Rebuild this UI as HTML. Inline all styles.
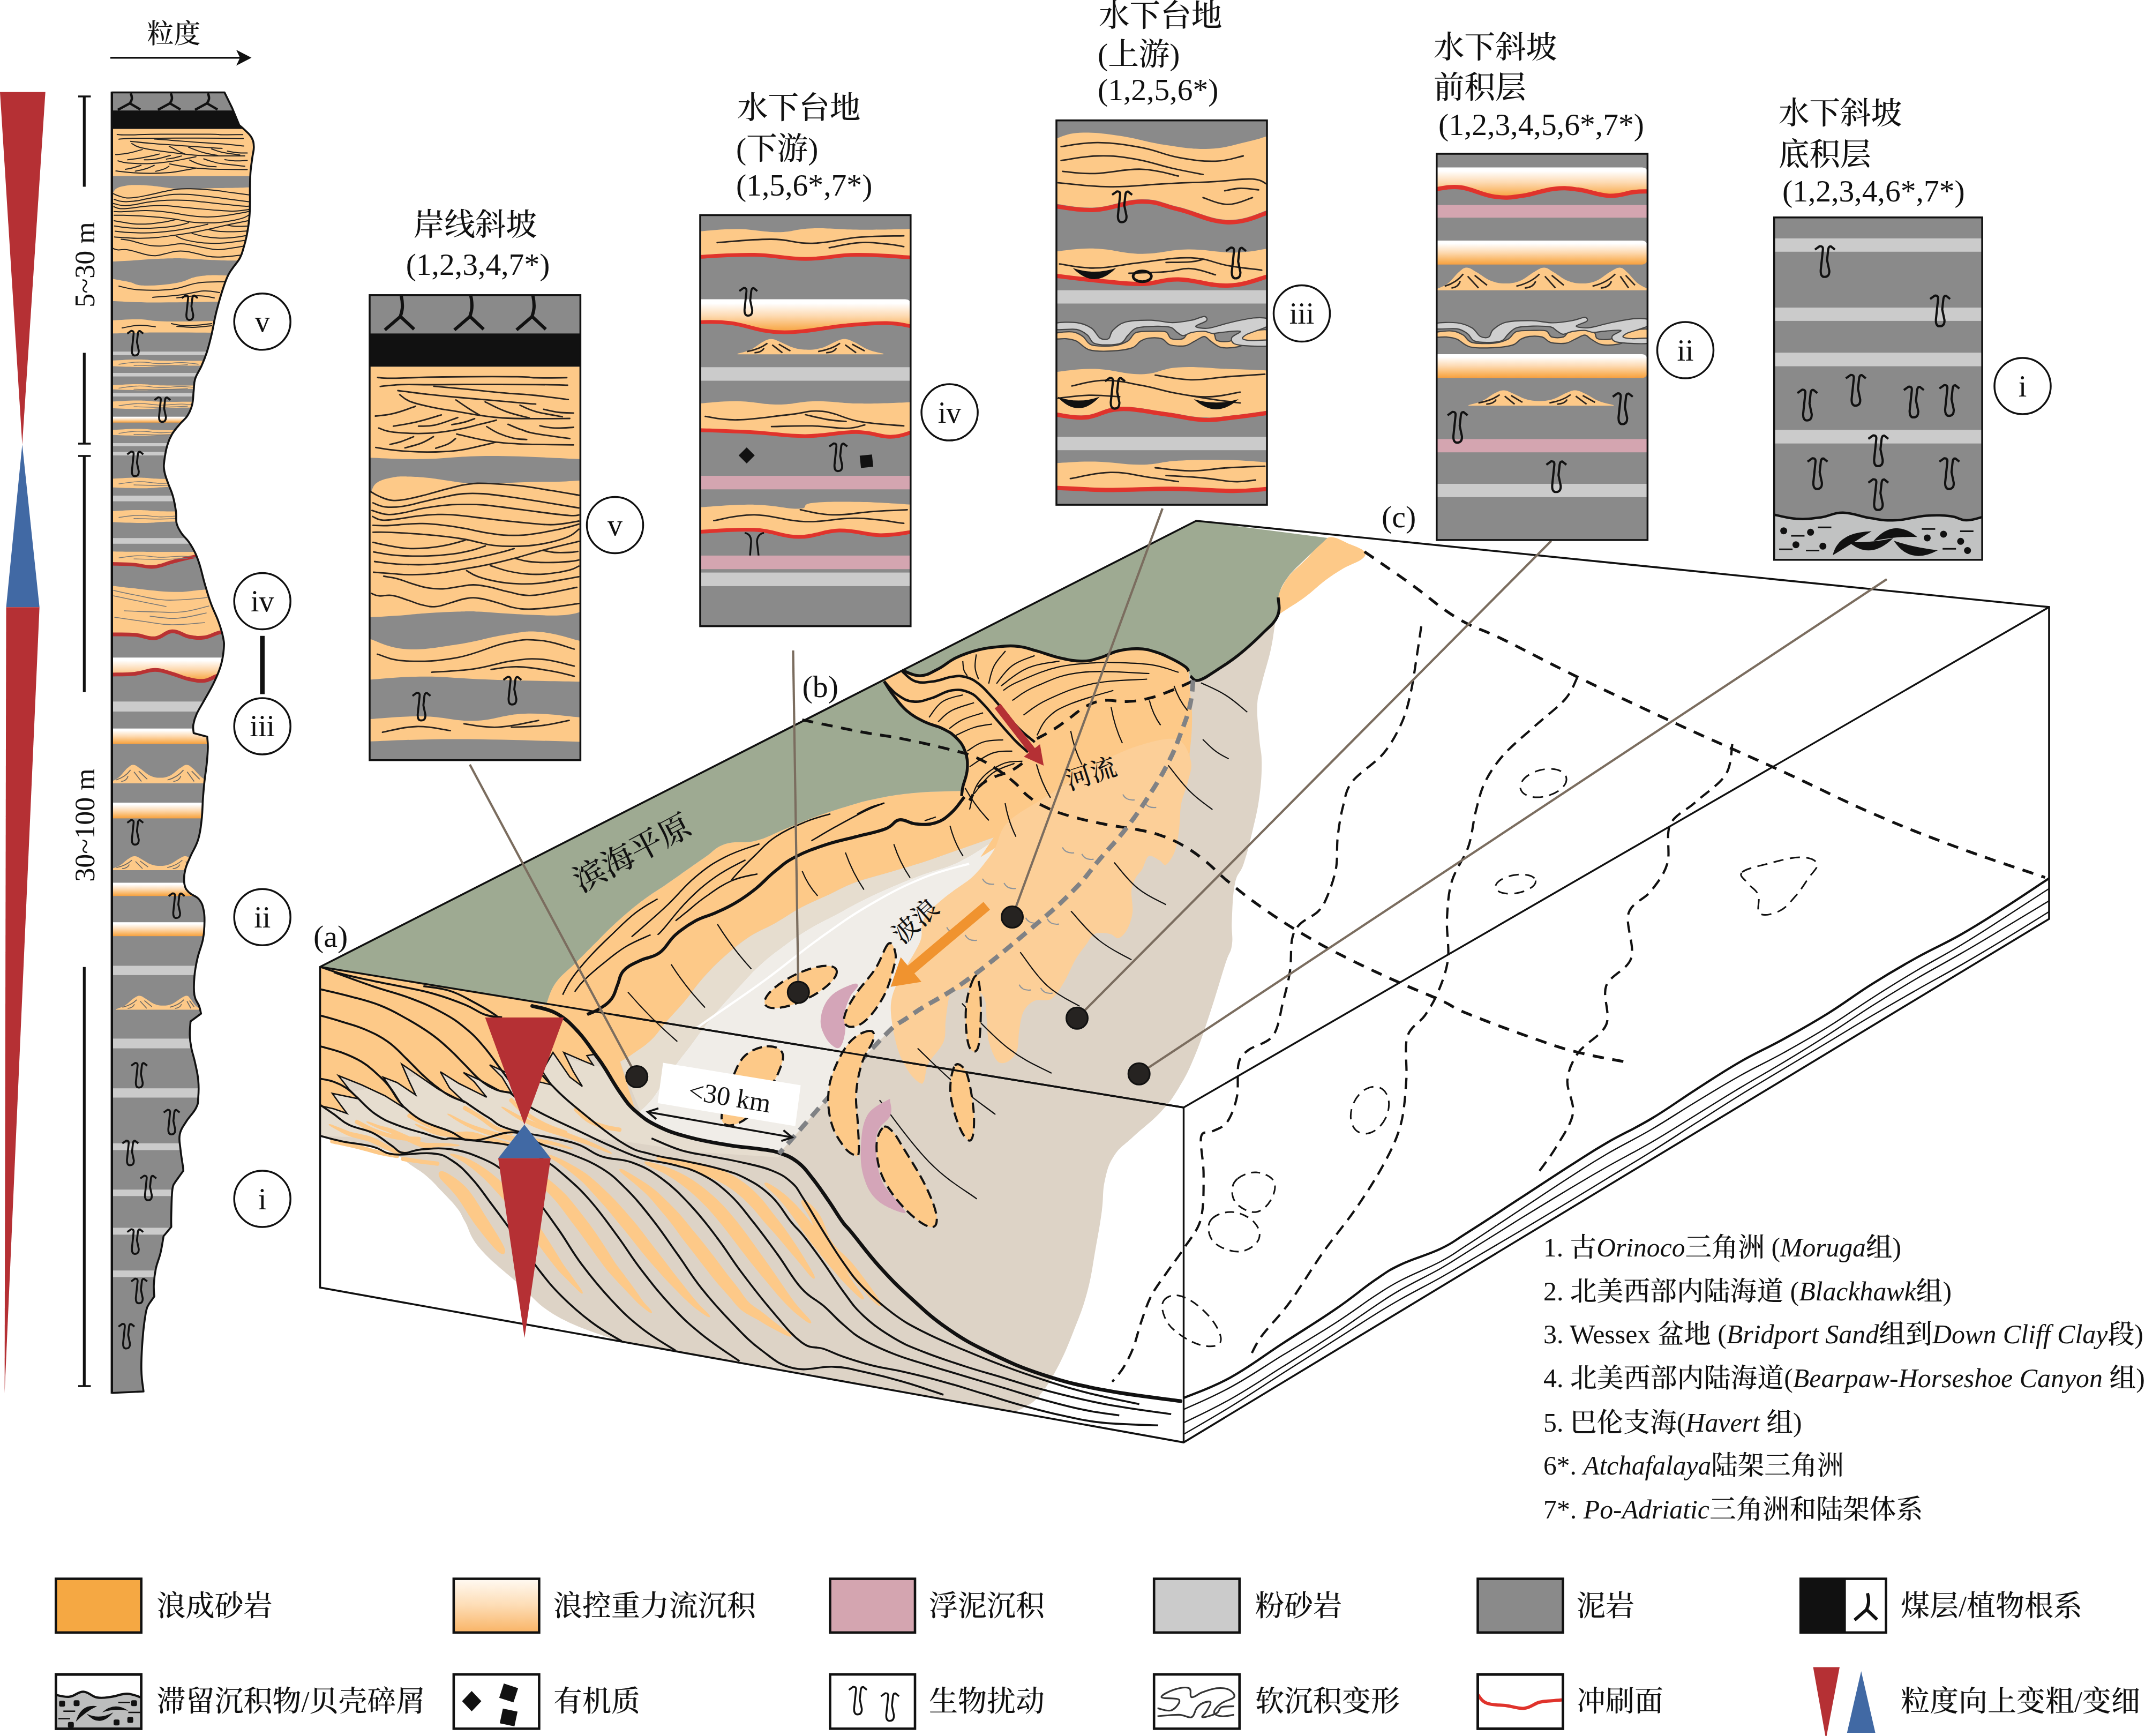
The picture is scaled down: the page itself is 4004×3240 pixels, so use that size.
<!DOCTYPE html>
<html lang="zh"><head><meta charset="utf-8"><title>figure</title>
<style>html,body{margin:0;padding:0;background:#fff;}svg{display:block;}text{font-family:"Liberation Serif","Noto Serif CJK SC",serif;fill:#111;font-weight:500;}</style>
</head><body>
<svg width="4004" height="3240" viewBox="0 0 4004 3240">
<defs>
<linearGradient id="gband" x1="0" y1="0" x2="0" y2="1"><stop offset="0" stop-color="#ffffff"/><stop offset="0.12" stop-color="#ffffff"/><stop offset="0.5" stop-color="#fddab2"/><stop offset="0.85" stop-color="#f9b25c"/><stop offset="1" stop-color="#f6a040"/></linearGradient>
<linearGradient id="gleg" x1="0" y1="0" x2="0" y2="1"><stop offset="0" stop-color="#fffaf3"/><stop offset="0.5" stop-color="#fddcb4"/><stop offset="1" stop-color="#f9b466"/></linearGradient>
</defs>
<polygon points="597.5,1804.5 2233,972 3825,1133 3825,1715 2209.5,2692 597.5,2403" fill="#fff" /><clipPath id="cblock"><polygon points="597.5,1804.5 2233,972 3825,1133 3825,1715 2209.5,2692 597.5,2403"/></clipPath><g clip-path="url(#cblock)"><path d="M2384,1150 C2383.3,1152.6 2382.9,1149.6 2380.4,1162.6 C2377.9,1175.6 2377.2,1189.6 2372,1213 C2366.8,1236.4 2360.4,1254.2 2355.2,1275.9 C2350,1297.6 2347.8,1296.1 2346.9,1317.8 C2346,1339.5 2349.3,1359.1 2351,1380.8 C2352.7,1402.5 2355.2,1401 2355.2,1422.7 C2355.2,1444.4 2354.5,1459.7 2351,1485.7 C2347.5,1511.7 2344.6,1522.6 2338.5,1548.6 C2332.4,1574.6 2328.6,1590.8 2321.7,1611.5 C2314.8,1632.2 2309.9,1626.8 2305.3,1648.8 C2300.7,1670.8 2300.7,1694.2 2299.5,1718 C2298.3,1741.8 2302.1,1747.1 2299.5,1764 C2296.9,1780.9 2295.5,1773.3 2287,1799.8 C2278.5,1826.3 2270.2,1856.3 2258.3,1892 C2246.4,1927.7 2241.4,1944.1 2229.5,1972.6 C2217.6,2001.1 2213.8,2008.6 2200.7,2030 C2187.6,2051.4 2183.9,2056.9 2166,2076 C2148.1,2095.1 2132.1,2105.7 2114.3,2122.4 C2096.5,2139.1 2090.4,2140.3 2079.7,2157 C2069,2173.7 2067.2,2181.6 2062.4,2203 C2057.6,2224.4 2060.3,2234.4 2056.7,2260.6 C2053.1,2286.8 2050.8,2298.6 2045.2,2329.7 C2039.6,2360.8 2038.2,2378.8 2029.6,2411 C2021,2443.2 2015.1,2456.4 2003.5,2485.7 C1991.9,2515 1986.8,2528.1 1973.7,2552.8 C1960.6,2577.5 1953.1,2589.6 1940,2605 C1926.9,2620.4 1921.1,2621 1910.3,2627.4 C1899.5,2633.8 1892.5,2634.2 1887.9,2636 L1887.9,2636 L1154.8,2503 C1131,2493.4 1078.9,2479.2 1039.6,2456.5 C1000.3,2433.8 994.5,2419.2 964.7,2393 C934.9,2366.8 915.6,2353.1 895.6,2329.7 C875.6,2306.3 876.7,2295.4 868,2280 C859.3,2264.6 862.5,2267 853.6,2255.3 C844.7,2243.6 836.7,2236.1 824.8,2223.6 C812.9,2211.1 807.9,2204.9 796,2194.8 C784.1,2184.7 779.1,2182.9 767.2,2174.6 C755.3,2166.3 753.3,2161.7 738.4,2154.5 C723.5,2147.3 716,2145.1 695.2,2140 C674.4,2134.9 657.7,2134.2 637.6,2130 C617.5,2125.8 606.1,2122 597.9,2119.9 L597.5,1804.5 L2233,972 Z" fill="#ddd3c6"/><polygon points="597.5,2047 640,2040 700,2030 800,2000 900,1990 1000,1960 1128,1993 1186,2074 1287,2123 1454,2152 1454,2160 1300,2150 1150,2128 1000,2118 850,2122 700,2124 597.5,2120" fill="#e6ddcf" /><path d="M1454.3,2153 C1491.1,2111.6 1581.5,2005.9 1632.3,1952.6 C1683.1,1899.3 1665,1920.2 1700,1895.2 C1735,1870.2 1755.6,1864.7 1801.6,1831.6 C1847.6,1798.5 1880.9,1769.8 1922.6,1734.8 C1964.3,1699.8 1976.2,1689.5 2003.2,1662.3 C2030.2,1635.1 2032.5,1627.6 2053.2,1603.2 C2073.9,1578.8 2083.6,1570.4 2103.5,1544.4 C2123.4,1518.4 2133.2,1503.3 2149.7,1477.3 C2166.2,1451.3 2176.3,1430.7 2183.2,1418.5 L1854.8,1569.6 C1841.3,1577.7 1816.5,1595.9 1789.5,1608.7 C1762.5,1621.5 1751.3,1621.5 1724.3,1631.6 C1697.3,1641.7 1682.6,1647.6 1659,1657.7 C1635.4,1667.8 1630.3,1670.4 1610,1680.5 C1589.7,1690.6 1581.3,1695.9 1561,1706.7 C1540.7,1717.5 1532.2,1720.7 1512,1732.8 C1491.8,1744.9 1482.2,1751.5 1463.2,1765.4 C1444.2,1779.3 1436.4,1785.2 1420,1800 C1403.6,1814.8 1399.5,1820.5 1384,1837 C1368.5,1853.5 1358.6,1864.5 1345,1880 C1331.4,1895.5 1329.4,1897.5 1318,1912 C1306.6,1926.5 1301.7,1934.4 1290,1950 C1278.3,1965.6 1272.6,1971.9 1261.3,1987.4 C1250,2002.9 1244.9,2011.1 1235.4,2024.8 C1225.9,2038.5 1223.5,2043.5 1215.2,2053.6 C1206.9,2063.7 1199.2,2069.6 1195,2073.8 C1195.3,2079.8 1208.8,2092.5 1229.6,2102.6 C1250.4,2112.7 1260.4,2115.6 1287.2,2122.8 C1314,2130 1332.4,2132.7 1359.2,2137.2 C1386,2141.7 1397.2,2141.4 1416.9,2144.4 C1436.6,2147.4 1446.6,2150.1 1454.3,2151.6 Z" fill="#f0ede8"/><path d="M1854.8,1563 C1848.1,1565.4 1803,1581.3 1789.5,1586 C1776,1590.7 1737.8,1604.3 1724.3,1608.7 C1710.8,1613.1 1672.5,1624.2 1659,1628.3 C1645.5,1632.4 1605.5,1643.5 1593.7,1647.9 C1581.9,1652.3 1554.9,1666.1 1544.8,1670.8 C1534.7,1675.5 1505.9,1688.2 1495.8,1693.6 C1485.7,1699 1457,1717.3 1446.9,1723 C1436.8,1728.7 1408,1742.3 1397.9,1749 C1387.8,1755.7 1358.1,1779.8 1349,1788 C1339.9,1796.2 1317.3,1819.7 1310,1828 C1302.7,1836.3 1285.4,1859.9 1278.6,1868 C1271.8,1876.1 1250.6,1899.1 1244,1906.7 C1237.4,1914.3 1221.8,1935 1215.2,1941.3 C1208.6,1947.6 1186.6,1963 1180.6,1967.2 C1174.6,1971.4 1160,1980.1 1157.6,1981.6 L1195,2073.8 C1199.2,2069.6 1206.9,2063.7 1215.2,2053.6 C1223.5,2043.5 1225.9,2038.5 1235.4,2024.8 C1244.9,2011.1 1250,2002.9 1261.3,1987.4 C1272.6,1971.9 1278.3,1965.6 1290,1950 C1301.7,1934.4 1306.6,1926.5 1318,1912 C1329.4,1897.5 1331.4,1895.5 1345,1880 C1358.6,1864.5 1368.5,1853.5 1384,1837 C1399.5,1820.5 1403.6,1814.8 1420,1800 C1436.4,1785.2 1444.2,1779.3 1463.2,1765.4 C1482.2,1751.5 1491.8,1744.9 1512,1732.8 C1532.2,1720.7 1540.7,1717.5 1561,1706.7 C1581.3,1695.9 1589.7,1690.6 1610,1680.5 C1630.3,1670.4 1635.4,1667.8 1659,1657.7 C1682.6,1647.6 1697.3,1641.7 1724.3,1631.6 C1751.3,1621.5 1762.5,1621.5 1789.5,1608.7 C1816.5,1595.9 1841.3,1577.7 1854.8,1569.6 Z" fill="#e6ddcf"/><path d="M1809,1612 C1791.5,1617.4 1762,1622.5 1724.3,1638 C1686.6,1653.5 1666.9,1663.4 1626.4,1687 C1585.9,1710.6 1569,1723.3 1528.5,1752.3 C1488,1781.3 1471,1797.7 1430.5,1827.4 C1390,1857.1 1359.6,1877.1 1332.6,1896 C1305.6,1914.9 1306.7,1914.1 1300,1918.8" fill="none" stroke="#fff" stroke-width="4" /><path d="M1650.4,1271.7 L1653,1267.2 L1684,1251.5 L1683.9,1250.7 C1690.8,1252.9 1703.6,1261.6 1717.5,1261.2 C1731.4,1260.8 1737.1,1255.5 1751,1248.6 C1764.9,1241.7 1769,1235 1784.6,1227.6 C1800.2,1220.2 1809.3,1217.2 1826.6,1212.9 C1843.9,1208.6 1852.9,1207.9 1868.5,1206.6 C1884.1,1205.3 1888.2,1204.9 1902.1,1206.6 C1916,1208.3 1920.1,1210.7 1935.7,1215 C1951.3,1219.3 1960.3,1223.7 1977.6,1227.6 C1994.9,1231.5 2004,1233.9 2019.6,1233.9 C2035.2,1233.9 2039.3,1231.5 2053.2,1227.6 C2067.1,1223.7 2072,1218.5 2086.7,1215 C2101.4,1211.5 2109.8,1210.4 2124.5,1210.8 C2139.2,1211.2 2145,1213.2 2158,1217.1 C2171,1221 2176.1,1224.1 2187.4,1229.7 C2198.7,1235.3 2206.1,1239.6 2212.6,1244.4 C2219.1,1249.2 2217.6,1251.1 2218.9,1252.8 L2221,1288.5 C2221.9,1298.9 2225.2,1315.4 2225.2,1338.8 C2225.2,1362.2 2223.6,1380.1 2221,1401.8 C2218.4,1423.5 2227.3,1427.5 2212.6,1443.7 C2197.9,1459.9 2193.9,1464.2 2150,1480 C2106.1,1495.8 2051.7,1503.5 2000,1520 C1948.3,1536.5 1935.1,1543.5 1900,1560 C1864.9,1576.5 1844.5,1591.7 1830,1600 L1854.8,1563 C1841.3,1567.8 1816.5,1576.6 1789.5,1586 C1762.5,1595.4 1751.3,1600 1724.3,1608.7 C1697.3,1617.4 1686,1620.2 1659,1628.3 C1632,1636.4 1617.3,1639.1 1593.7,1647.9 C1570.1,1656.7 1565,1661.4 1544.8,1670.8 C1524.6,1680.2 1516,1682.8 1495.8,1693.6 C1475.6,1704.4 1467.1,1711.6 1446.9,1723 C1426.7,1734.4 1418.1,1735.6 1397.9,1749 C1377.7,1762.4 1367.2,1771.7 1349,1788 C1330.8,1804.3 1324.5,1811.5 1310,1828 C1295.5,1844.5 1292.2,1851.7 1278.6,1868 C1265,1884.3 1257.1,1891.6 1244,1906.7 C1230.9,1921.8 1228.3,1928.8 1215.2,1941.3 C1202.1,1953.8 1192.5,1958.9 1180.6,1967.2 C1168.7,1975.5 1162.4,1978.6 1157.6,1981.6 L1186.4,2073.8 C1180.4,2066.6 1169.5,2055.9 1157.6,2039.2 C1145.7,2022.5 1137.7,2007 1128.8,1993.2 C1119.9,1979.4 1124.6,1986.4 1114.5,1972.6 C1104.4,1958.8 1095.4,1943.2 1080,1926.5 C1064.5,1909.8 1057.5,1902.1 1039.6,1891.9 C1021.8,1881.8 1003.1,1880.5 993.5,1877.5 L1019.5,1874.7 C1023.2,1866.3 1025.9,1850.3 1037.3,1834.2 C1048.7,1818.1 1059.2,1812.3 1074.6,1796.9 C1090,1781.5 1098,1773.5 1111.9,1759.6 C1125.8,1745.7 1128.6,1742 1141.7,1729.7 C1154.8,1717.4 1161.4,1711.5 1175.3,1699.9 C1189.2,1688.3 1195,1683.8 1208.9,1673.8 C1222.8,1663.8 1227.8,1661.4 1242.4,1651.4 C1257,1641.4 1264.3,1636.1 1279.7,1625.3 C1295.1,1614.5 1301.6,1609.6 1317,1599.2 C1332.4,1588.8 1335,1581.2 1354.3,1575 C1373.6,1568.8 1387.2,1575.1 1410.3,1569.3 C1433.4,1563.5 1443.1,1556.2 1466.2,1547 C1489.3,1537.8 1498.9,1533.1 1522,1524.6 C1545.1,1516.1 1554.9,1512.9 1578,1506 C1601.1,1499.1 1607,1496.4 1634,1491 C1661,1485.6 1674.3,1482.9 1708.6,1479.8 C1742.9,1476.7 1781,1476.8 1799.9,1476 L1795.1,1485.7 C1795.5,1482.2 1795,1479.3 1797.2,1468.9 C1799.4,1458.5 1804.7,1449.2 1805.6,1435.3 C1806.5,1421.4 1805.7,1413.9 1801.4,1401.8 C1797.1,1389.7 1793.3,1385.3 1784.6,1376.6 C1775.9,1367.9 1771.5,1365.9 1759.4,1359.8 C1747.3,1353.7 1739.8,1354.1 1725.9,1347.2 C1712,1340.3 1704.5,1336.6 1692.3,1326.2 C1680.1,1315.8 1675.8,1308.2 1667.1,1296.9 C1658.4,1285.6 1653.9,1276.9 1650.4,1271.7 Z" fill="#fdc988"/><path d="M2478.1,1003.7 C2491.4,998.9 2507,1010.9 2518.4,1015.2 C2529.9,1019.5 2543.4,1024.8 2547.2,1029.6 C2551,1034.4 2548.1,1038.8 2541.5,1044 C2534.8,1049.2 2518.3,1054.6 2506.9,1061.3 C2495.5,1068 2483.8,1075.8 2472.4,1084.3 C2460.9,1092.9 2449.2,1104.6 2437.8,1113.1 C2426.4,1121.7 2412.7,1130.5 2403.2,1136.2 C2393.7,1141.9 2383.5,1150.6 2380.2,1147.7 C2376.9,1144.8 2379.3,1130.3 2383.1,1118.9 C2386.9,1107.5 2394.2,1091 2403.2,1078.6 C2412.3,1066.2 2425.4,1056.4 2437.8,1044 C2450.2,1031.6 2464.8,1008.4 2478.1,1003.7Z" fill="#fdc988" /><path d="M1882.3,1533.2 C1899.6,1516.6 1936.2,1498.1 1962.9,1480.8 C1989.6,1463.5 2016.9,1443.1 2043.5,1428.4 C2070.2,1413.7 2098.9,1400.1 2124.2,1392.1 C2149.5,1384.1 2180.4,1375.3 2196.8,1380 C2213.1,1384.7 2219.7,1407 2223,1420.3 C2226.3,1433.7 2219.9,1447.3 2216.9,1460.6 C2213.9,1474 2207.5,1486.3 2204.8,1501 C2202.2,1515.6 2202.8,1534.7 2200.8,1549.4 C2198.8,1564 2196.7,1579 2192.7,1589.7 C2188.7,1600.3 2181.3,1611.2 2176.6,1613.9 C2171.9,1616.5 2169.8,1608.5 2164.5,1605.8 C2159.2,1603.1 2149.7,1595.1 2144.4,1597.7 C2139,1600.4 2136.3,1615.3 2132.3,1621.9 C2128.3,1628.6 2123.5,1631.4 2120.2,1638.1 C2116.8,1644.7 2113.1,1651.6 2112.1,1662.3 C2111.1,1672.9 2115.4,1690.6 2114.1,1702.6 C2112.8,1714.6 2108.4,1726.8 2104,1734.8 C2099.7,1742.8 2093.2,1749.6 2087.9,1751 C2082.6,1752.3 2079.1,1744.2 2071.8,1742.9 C2064.4,1741.6 2050.9,1739.6 2043.5,1742.9 C2036.2,1746.2 2033.4,1755.1 2027.4,1763.1 C2021.4,1771.1 2013.9,1780 2007.3,1791.3 C2000.6,1802.6 1994.4,1819.6 1987.1,1831.6 C1979.8,1843.6 1972.2,1857.9 1962.9,1863.9 C1953.6,1869.9 1939.3,1863.9 1930.6,1867.9 C1922,1871.9 1915.2,1878.7 1910.5,1888.1 C1905.8,1897.4 1904.4,1912.4 1902.4,1924.4 C1900.4,1936.4 1901.7,1951.3 1898.4,1960.6 C1895.1,1970 1888.3,1977.5 1882.3,1980.8 C1876.3,1984.1 1868.1,1986.8 1862.1,1980.8 C1856.1,1974.8 1849.3,1957.2 1846,1944.5 C1842.6,1931.8 1843.3,1917.5 1841.9,1904.2 C1840.6,1890.9 1841.9,1873.9 1837.9,1863.9 C1833.9,1853.9 1825.7,1846.4 1817.7,1843.7 C1809.7,1841 1796.8,1845.7 1789.5,1847.7 C1782.2,1849.7 1777.4,1846.5 1773.4,1855.8 C1769.4,1865.1 1767.3,1889.5 1765.3,1904.2 C1763.3,1918.9 1766.6,1931.2 1761.3,1944.5 C1756,1957.8 1739.1,1972.8 1733.1,1984.8 C1727.1,1996.8 1727.7,2011.1 1725,2017.1 C1722.3,2023.1 1721.6,2023.8 1716.9,2021.1 C1712.3,2018.5 1703.4,2011 1696.8,2001 C1690.1,1991 1681.9,1976.6 1676.6,1960.6 C1671.3,1944.6 1666.5,1920.2 1664.5,1904.2 C1662.5,1888.2 1661.8,1877.2 1664.5,1863.9 C1667.2,1850.5 1672,1840.9 1680.6,1823.5 C1689.3,1806.2 1710.3,1775 1716.9,1759 C1723.6,1743 1718.3,1736.1 1721,1726.8 C1723.6,1717.4 1725.1,1711.9 1733.1,1702.6 C1741.1,1693.2 1756,1681 1769.4,1670.3 C1782.7,1659.7 1801.7,1648.7 1813.7,1638.1 C1825.7,1627.4 1834.6,1615.1 1841.9,1605.8 C1849.3,1596.5 1851.4,1593.6 1858.1,1581.6 C1864.7,1569.6 1864.9,1549.9 1882.3,1533.2Z" fill="#fccf98" /><path d="M597.5,1804.5 L1653,1267.2 L1650.4,1271.7 C1653.9,1276.9 1658.4,1285.6 1667.1,1296.9 C1675.8,1308.2 1680.1,1315.8 1692.3,1326.2 C1704.5,1336.6 1712,1340.3 1725.9,1347.2 C1739.8,1354.1 1747.3,1353.7 1759.4,1359.8 C1771.5,1365.9 1775.9,1367.9 1784.6,1376.6 C1793.3,1385.3 1797.1,1389.7 1801.4,1401.8 C1805.7,1413.9 1806.5,1421.4 1805.6,1435.3 C1804.7,1449.2 1799.4,1458.5 1797.2,1468.9 C1795,1479.3 1795.5,1482.2 1795.1,1485.7 L1799.9,1476 C1781,1476.8 1742.9,1476.7 1708.6,1479.8 C1674.3,1482.9 1661,1485.6 1634,1491 C1607,1496.4 1601.1,1499.1 1578,1506 C1554.9,1512.9 1545.1,1516.1 1522,1524.6 C1498.9,1533.1 1489.3,1537.8 1466.2,1547 C1443.1,1556.2 1433.4,1563.5 1410.3,1569.3 C1387.2,1575.1 1373.6,1568.8 1354.3,1575 C1335,1581.2 1332.4,1588.8 1317,1599.2 C1301.6,1609.6 1295.1,1614.5 1279.7,1625.3 C1264.3,1636.1 1257,1641.4 1242.4,1651.4 C1227.8,1661.4 1222.8,1663.8 1208.9,1673.8 C1195,1683.8 1189.2,1688.3 1175.3,1699.9 C1161.4,1711.5 1154.8,1717.4 1141.7,1729.7 C1128.6,1742 1125.8,1745.7 1111.9,1759.6 C1098,1773.5 1090,1781.5 1074.6,1796.9 C1059.2,1812.3 1048.7,1818.1 1037.3,1834.2 C1025.9,1850.3 1023.2,1866.3 1019.5,1874.7 Z" fill="#9eaa92"/><path d="M1684,1251.5 L2233,972 L2478,1004 C2470.1,1011.4 2455.5,1024.6 2440,1040 C2424.5,1055.4 2414.2,1063.1 2403,1078.6 C2391.8,1094.1 2389.8,1100.2 2386,1115 C2382.2,1129.8 2391,1135.8 2384.6,1150 C2378.2,1164.2 2369.9,1168.9 2355.2,1183.6 C2340.5,1198.3 2330.6,1207.4 2313.3,1221.3 C2296,1235.2 2286.9,1240.7 2271.3,1250.7 C2255.7,1260.7 2248,1267.3 2237.8,1269.6 C2227.6,1271.9 2225.3,1263.6 2222,1262 L2218.9,1252.8 C2217.6,1251.1 2219.1,1249.2 2212.6,1244.4 C2206.1,1239.6 2198.7,1235.3 2187.4,1229.7 C2176.1,1224.1 2171,1221 2158,1217.1 C2145,1213.2 2139.2,1211.2 2124.5,1210.8 C2109.8,1210.4 2101.4,1211.5 2086.7,1215 C2072,1218.5 2067.1,1223.7 2053.2,1227.6 C2039.3,1231.5 2035.2,1233.9 2019.6,1233.9 C2004,1233.9 1994.9,1231.5 1977.6,1227.6 C1960.3,1223.7 1951.3,1219.3 1935.7,1215 C1920.1,1210.7 1916,1208.3 1902.1,1206.6 C1888.2,1204.9 1884.1,1205.3 1868.5,1206.6 C1852.9,1207.9 1843.9,1208.6 1826.6,1212.9 C1809.3,1217.2 1800.2,1220.2 1784.6,1227.6 C1769,1235 1764.9,1241.7 1751,1248.6 C1737.1,1255.5 1731.4,1260.8 1717.5,1261.2 C1703.6,1261.6 1690.8,1252.9 1683.9,1250.7 Z" fill="#9eaa92"/><path d="M597.5,1804.5 L994.8,1869.2 C1004.1,1873.9 1022,1880.1 1039.6,1891.9 C1057.2,1903.8 1064.5,1909.8 1080,1926.5 C1095.4,1943.2 1104.4,1958.8 1114.5,1972.6 C1124.6,1986.4 1119.9,1979.4 1128.8,1993.2 C1137.7,2007 1151.6,2029.7 1157.6,2039.2 L1141.7,2010.4 L1112.9,1967.2 L1095.6,1970.1 L1107.1,1987.4 L1092.7,1981.6 L1052.4,1964.3 L1069.7,1998.9 L1087,2027.7 L1063.9,2010.4 L1032.2,1964.3 L1012.1,1998.9 L1029.3,2024.8 L983.3,2013.3 L951.6,2004.7 L914.1,1987.4 L937.2,2010.4 L954.5,2039.2 L934.3,2036.4 L896.8,2016.2 L865.2,2001.8 L885.3,2019.1 L908.4,2047.9 L856.5,2022 L822,2000.4 L839.2,2030.6 L868,2058 L819.1,2033.5 L781.6,2007.6 L749.9,1986 L764.3,2019.1 L775.9,2043.6 L741.3,2020.5 L715.4,2010.4 L735.5,2039.2 L752.8,2066.6 L718.3,2045 L675.1,2024.8 L631.8,2007.6 L652,2033.5 L669.3,2050.8 L620.3,2040.7 L634.7,2060.8 L647.7,2078.1 L623.2,2069.5 L597.9,2063.7 Z" fill="#fdc988"/><path d="M597.9,2063.7 L623.2,2069.5 L647.7,2078.1 L634.7,2060.8 L620.3,2040.7 L669.3,2050.8 L652,2033.5 L631.8,2007.6 L675.1,2024.8 L718.3,2045 L752.8,2066.6 L735.5,2039.2 L715.4,2010.4 L741.3,2020.5 L775.9,2043.6 L764.3,2019.1 L749.9,1986 L781.6,2007.6 L819.1,2033.5 L868,2058 L839.2,2030.6 L822,2000.4 L856.5,2022 L908.4,2047.9 L885.3,2019.1 L865.2,2001.8 L896.8,2016.2 L934.3,2036.4 L954.5,2039.2 L937.2,2010.4 L914.1,1987.4 L951.6,2004.7 L983.3,2013.3 L1029.3,2024.8 L1012.1,1998.9 L1032.2,1964.3 L1063.9,2010.4 L1087,2027.7 L1069.7,1998.9 L1052.4,1964.3 L1092.7,1981.6 L1107.1,1987.4 L1095.6,1970.1 L1112.9,1967.2 L1141.7,2010.4" fill="none" stroke="#111" stroke-width="2.6" stroke-linejoin="miter"/><path d="M666.4,2094 C673.6,2097.5 685.5,2105.3 701,2111.2 C716.5,2117.2 724.6,2119.8 741.3,2122.8 C758,2125.7 773.3,2125.1 781.6,2125.7" fill="none" stroke="#fdc988" stroke-width="8" stroke-linecap="round"/><path d="M764.3,2082.4 C771.5,2086 783.4,2092.6 798.9,2099.7 C814.4,2106.9 820.2,2112 839.2,2117 C858.3,2122.1 880.4,2122.7 891.1,2124.2" fill="none" stroke="#fdc988" stroke-width="8" stroke-linecap="round"/><path d="M868,2068 C874,2071.6 884.9,2077.6 896.8,2085.3 C908.8,2093.1 913.7,2099.5 925.7,2105.5 C937.6,2111.4 948.5,2112.3 954.5,2114.1" fill="none" stroke="#fdc988" stroke-width="8" stroke-linecap="round"/><path d="M954.5,2053.6 C960.4,2059 970.2,2070 983.3,2079.6 C996.4,2089.1 1002.9,2092.6 1017.8,2099.7 C1032.7,2106.9 1047.5,2111.2 1055.3,2114.1" fill="none" stroke="#fdc988" stroke-width="8" stroke-linecap="round"/><path d="M1075.4,2070.9 C1080.2,2075.1 1087.8,2084.5 1098.5,2091.1 C1109.2,2097.6 1115.4,2099 1127.3,2102.6 C1139.2,2106.2 1150.1,2107.2 1156.1,2108.4" fill="none" stroke="#fdc988" stroke-width="8" stroke-linecap="round"/><path d="M620.3,2130 C629.9,2132.1 648,2135.6 666.4,2140.1 C684.9,2144.5 694.1,2148 709.6,2151.6 C725.1,2155.1 734.8,2156.1 741.3,2157.3" fill="none" stroke="#fdc988" stroke-width="8" stroke-linecap="round"/><path d="M752.8,2163.1 C758.8,2164 768.5,2165.6 781.6,2167.4 C794.7,2169.2 809.1,2170.8 816.2,2171.7" fill="none" stroke="#fdc988" stroke-width="8" stroke-linecap="round"/><path d="M1496.1,2246.1 C1497.8,2252.3 1507.5,2263.5 1514.1,2277.6 C1520.6,2291.7 1525,2315.8 1535.7,2331.5 C1546.3,2347.2 1562.4,2355.9 1578.7,2372.6 C1595,2389.4 1623.8,2423.9 1634.3,2432.8 C1644.7,2441.7 1648.6,2438.7 1641.7,2426.6 C1634.9,2414.6 1607.4,2377.8 1592.9,2360 C1578.3,2342.2 1564.1,2334.2 1553.9,2319.1 C1543.6,2304 1539,2281.6 1530.7,2268.5 C1522.4,2255.5 1509.6,2244 1503.9,2240.3 C1498.2,2236.6 1494.4,2240 1496.1,2246.1Z" fill="#fdc988" /><path d="M820.2,2196.7 C824,2204.3 841,2218 852.4,2233.2 C863.8,2248.3 876.1,2271 889.1,2288.2 C902.1,2305.4 922.3,2330.5 931.1,2337.3 C939.8,2344.1 945.5,2340 941.9,2329.6 C938.3,2319.2 921,2292.8 909.3,2274.3 C897.6,2255.7 884.6,2231.9 871.3,2217.4 C858.1,2203 837.5,2190.2 829,2186.8 C820.6,2183.4 816.3,2189 820.2,2196.7Z" fill="#fdc988" /><path d="M615.1,2100.8 C617.8,2102.9 626.5,2107.6 632.3,2110.7 C638.1,2113.8 644,2117.3 650.2,2119.8 C656.3,2122.2 663.3,2123.8 669.6,2125.6 C676,2127.4 682.5,2128.6 688.6,2130.7 C694.6,2132.8 700.3,2135.8 706.2,2138.5 C712.1,2141.2 718,2144.4 724.2,2147 C730.3,2149.6 736.9,2153.2 743.3,2154.2 C749.8,2155.1 760.1,2153.5 763.4,2152.8 C766.7,2152.1 766.5,2150.6 763.4,2149.9 C760.3,2149.1 750.5,2149.9 744.6,2148.2 C738.7,2146.4 733.4,2142.5 727.7,2139.5 C722.1,2136.5 716.3,2132.9 710.3,2129.8 C704.4,2126.8 698.2,2123.5 691.9,2121.3 C685.6,2119 678.5,2117.9 672.1,2116.3 C665.6,2114.8 659.1,2113.8 652.9,2111.9 C646.8,2110.1 640.9,2107.4 634.9,2105.1 C628.8,2102.8 619.6,2098.8 616.4,2098.1 C613.1,2097.4 612.5,2098.7 615.1,2100.8Z" fill="#fdc988" /><path d="M938.8,2069.6 C943.5,2073.4 958.6,2083.8 969,2089.7 C979.4,2095.6 990.7,2100.9 1001.8,2105.4 C1012.8,2109.9 1024.6,2113.4 1035.9,2117.1 C1047.2,2120.9 1058.7,2124.3 1070,2128 C1081.2,2131.7 1092.6,2135.4 1103.7,2139.5 C1114.9,2143.5 1131.6,2150.8 1137.3,2152.4 C1143.1,2154 1143.9,2152.5 1138.8,2149.2 C1133.7,2146 1117.3,2137.8 1106.5,2132.8 C1095.6,2127.9 1084.2,2123.4 1073,2119.2 C1061.9,2115.1 1050.3,2111.4 1039,2107.6 C1027.8,2103.9 1016.2,2100.8 1005.2,2096.7 C994.1,2092.7 983,2088.3 972.3,2083.3 C961.6,2078.3 946.1,2068.9 940.6,2066.6 C935.1,2064.3 934.1,2065.8 938.8,2069.6Z" fill="#fdc988" /><path d="M837.9,2082.1 C842.6,2085.6 857.3,2095 867.4,2100.4 C877.6,2105.7 888.6,2110.3 899.4,2114.3 C910.2,2118.3 921.6,2121.7 932.7,2124.6 C943.8,2127.5 955.4,2130.2 966.5,2131.6 C977.7,2133.1 989.2,2132.5 1000.1,2133.4 C1011,2134.4 1021.6,2135.5 1032.4,2137.4 C1043.2,2139.3 1059.9,2144.2 1065.5,2144.9 C1071.1,2145.7 1071.6,2144.2 1066.3,2141.9 C1061.1,2139.5 1044.6,2133.7 1033.8,2130.9 C1023.1,2128.1 1012,2126.2 1001.1,2124.7 C990.2,2123.2 978.8,2123.5 967.9,2121.9 C957,2120.3 945.9,2117.7 935.1,2115 C924.2,2112.4 913,2109.4 902.2,2106 C891.5,2102.6 880.7,2098.8 870.3,2094.4 C859.9,2090 844.8,2081.4 839.5,2079.3 C834.1,2077.3 833.3,2078.7 837.9,2082.1Z" fill="#fdc988" /><path d="M776.9,2100.9 C780.7,2103.4 792.9,2110.1 801.3,2113.4 C809.6,2116.8 818.7,2119.7 827.5,2121.1 C836.3,2122.5 845.6,2121.9 854.3,2122.1 C863,2122.3 871.6,2121.2 880,2122.3 C888.5,2123.3 896.8,2126.7 905.3,2128.6 C913.8,2130.5 922.7,2132.2 931.4,2133.8 C940.1,2135.4 953.5,2138 958,2138.2 C962.6,2138.4 962.9,2136.9 958.8,2135.1 C954.6,2133.3 941.4,2129.8 932.9,2127.3 C924.4,2124.9 916,2122.5 907.4,2120.1 C898.9,2117.6 890.2,2113.8 881.4,2112.5 C872.6,2111.2 863.1,2112.3 854.4,2112.3 C845.7,2112.2 837.1,2113.2 828.7,2112.4 C820.2,2111.5 811.8,2109.5 803.4,2107.2 C795.1,2104.8 782.6,2099 778.2,2098 C773.8,2096.9 773.1,2098.3 776.9,2100.9Z" fill="#fdc988" /><path d="M685.7,2095.8 C688.9,2098 699,2103 705.8,2106 C712.6,2109 720,2111 726.7,2113.9 C733.5,2116.8 739.9,2120.3 746.5,2123.5 C753.1,2126.6 759.8,2130 766.7,2132.9 C773.5,2135.9 780.7,2140 788,2141.4 C795.3,2142.8 803.4,2141.7 810.8,2141.4 C818.2,2141.1 825.6,2140 832.9,2139.6 C840.3,2139.3 851.5,2139.7 855.2,2139.2 C859,2138.6 859.1,2137.2 855.4,2136.3 C851.7,2135.3 840.4,2134 833,2133.5 C825.6,2132.9 817.9,2133.3 810.8,2133.1 C803.6,2132.9 796.6,2133.6 790,2132 C783.4,2130.5 777.2,2126.6 770.6,2123.7 C764.1,2120.9 757.2,2117.7 750.5,2114.8 C743.7,2111.9 736.8,2108.5 729.7,2106.1 C722.7,2103.7 715.1,2102.4 708,2100.2 C700.9,2098.1 690.5,2093.9 686.9,2093.1 C683.2,2092.4 682.6,2093.7 685.7,2095.8Z" fill="#fdc988" /><path d="M1428.3,2212.4 C1431.2,2216.6 1442.7,2225.9 1449.4,2233.1 C1456.1,2240.3 1462.6,2248.1 1468.8,2255.9 C1474.9,2263.7 1480.8,2271.9 1486.7,2280.2 C1492.5,2288.4 1498.1,2297.5 1504.1,2305.9 C1510.1,2314.3 1516.7,2322.7 1523.1,2330.8 C1529.4,2339 1535.9,2347.4 1542.5,2355.4 C1549.1,2363.4 1555.9,2371.6 1562.8,2379.4 C1569.7,2387.2 1576.7,2395.2 1584,2402.6 C1591.4,2409.9 1602.6,2421 1607.2,2423.8 C1611.8,2426.7 1613.9,2424.7 1611.7,2419.9 C1609.5,2415 1599.6,2402.9 1593.8,2394.5 C1587.9,2386 1582.2,2377.3 1576.4,2368.8 C1570.6,2360.3 1564.6,2351.6 1558.7,2343.1 C1552.7,2334.7 1546.6,2326 1540.5,2317.7 C1534.4,2309.4 1527.9,2301.2 1521.6,2293 C1515.4,2284.7 1509.4,2275.9 1502.8,2267.8 C1496.2,2259.8 1489,2251.7 1481.6,2244.4 C1474.2,2237.1 1466.1,2229.7 1457.9,2223.7 C1449.7,2217.6 1436.9,2209.5 1432,2207.6 C1427.1,2205.8 1425.4,2208.1 1428.3,2212.4Z" fill="#fdc988" /><path d="M1228.9,2165.2 C1234.2,2167.9 1251,2172.3 1261.9,2175.7 C1272.7,2179 1284,2181.8 1294.5,2185.5 C1305.1,2189.1 1315.7,2193.2 1325.7,2197.6 C1335.7,2202.1 1345.6,2206.7 1354.8,2212.3 C1363.9,2217.9 1372.8,2224.6 1381,2231.5 C1389.2,2238.4 1396.9,2246.1 1404.4,2254.1 C1411.8,2262.1 1418.7,2271.5 1426.1,2280 C1433.4,2288.5 1441.5,2297.1 1448.9,2305.6 C1456.3,2314.2 1463.6,2323.1 1470.9,2331.8 C1478.2,2340.5 1485.8,2349.3 1493.1,2358 C1500.5,2366.7 1511,2380.6 1515.5,2384.4 C1519.9,2388.2 1522.2,2386.6 1520.2,2381.1 C1518.2,2375.5 1509,2360.7 1503.1,2350.9 C1497.2,2341.1 1490.8,2331.2 1484.5,2321.6 C1478.2,2312.1 1471.6,2302.2 1464.8,2292.9 C1458.1,2283.7 1450.7,2274.7 1443.6,2265.6 C1436.6,2256.5 1429.8,2246.7 1422,2238 C1414.1,2229.3 1405.5,2220.6 1396.2,2213.1 C1387,2205.6 1376.5,2198.4 1366.1,2192.7 C1355.7,2187 1344.3,2182.6 1333.2,2178.7 C1322.1,2174.8 1310.4,2171.6 1299,2169.1 C1287.7,2166.7 1275.9,2165.3 1264.5,2163.7 C1253.1,2162.2 1236,2159.3 1230.2,2159.6 C1224.3,2159.8 1223.7,2162.5 1228.9,2165.2Z" fill="#fdc988" /><path d="M1206,2173.4 C1210.9,2176.9 1227.7,2183.5 1237.8,2189.1 C1247.9,2194.8 1257.9,2200.9 1267.2,2207.5 C1276.5,2214.1 1285.5,2221.4 1294.1,2228.9 C1302.7,2236.5 1311.1,2244.7 1319,2253 C1327,2261.4 1334.6,2270.4 1342,2279.4 C1349.4,2288.3 1356.7,2297.8 1363.9,2307.2 C1371.1,2316.5 1378.3,2326.3 1385.6,2335.7 C1392.8,2345.2 1400.4,2354.9 1407.9,2364.2 C1415.3,2373.5 1423.1,2382.9 1430.8,2392.1 C1438.5,2401.3 1446.1,2410.9 1454.2,2419.9 C1462.3,2428.8 1470.8,2438.2 1479.7,2446.2 C1488.7,2454.3 1503.2,2465.6 1508.7,2468.5 C1514.1,2471.5 1516,2469.3 1512.7,2464.2 C1509.4,2459.1 1496.3,2446.7 1488.9,2437.5 C1481.4,2428.4 1474.7,2418.6 1467.9,2408.9 C1461.1,2399.3 1454.5,2389.1 1447.7,2379.3 C1440.9,2369.5 1433.8,2359.5 1426.9,2349.8 C1420,2340.1 1413,2330.2 1406,2320.5 C1398.9,2310.8 1391.9,2300.8 1384.5,2291.3 C1377.1,2281.7 1369.4,2271.9 1361.3,2262.8 C1353.3,2253.7 1344.8,2244.4 1335.8,2236.1 C1326.9,2227.7 1317.2,2219.6 1307.4,2212.4 C1297.5,2205.2 1287,2198.3 1276.4,2192.6 C1265.7,2186.9 1254.3,2181.8 1243,2177.7 C1231.7,2173.6 1214.2,2168.6 1208.1,2167.9 C1202,2167.2 1201.1,2169.9 1206,2173.4Z" fill="#fdc988" /><path d="M1158.2,2186.9 C1162,2191.4 1175.9,2201.7 1184.3,2209 C1192.7,2216.4 1201.3,2223.4 1209,2231.3 C1216.7,2239.2 1223.9,2248.3 1231.1,2256.8 C1238.3,2265.3 1245.8,2273.9 1252.7,2282.8 C1259.6,2291.6 1266.1,2301.3 1272.9,2310.4 C1279.8,2319.4 1287.1,2328.6 1294.1,2337.6 C1301.1,2346.7 1308.1,2355.9 1315.2,2364.9 C1322.2,2374 1329.4,2383.4 1336.7,2392.2 C1344.1,2401.1 1351.9,2409.6 1359.7,2418.3 C1367.5,2427.1 1374.9,2437.8 1383.7,2445.1 C1392.6,2452.4 1403.5,2456.9 1413.1,2462.6 C1422.8,2468.3 1432.4,2474.3 1442.2,2479.6 C1451.9,2484.8 1466.9,2492.7 1472.4,2494.3 C1477.9,2496 1479.2,2493.7 1475.3,2489.6 C1471.4,2485.4 1457.4,2476.3 1448.7,2469.5 C1439.9,2462.8 1431,2455.3 1422.5,2448.7 C1414,2442.2 1404.9,2437.5 1397.5,2430 C1390,2422.5 1384.3,2412.4 1377.5,2403.6 C1370.7,2394.7 1363.1,2385.6 1356.2,2376.6 C1349.3,2367.6 1342.6,2358.2 1335.7,2349.1 C1328.8,2340.1 1321.6,2330.6 1314.5,2321.7 C1307.4,2312.7 1299.8,2303.8 1292.5,2294.9 C1285.3,2286 1278.1,2276.5 1270.4,2267.9 C1262.7,2259.3 1254.3,2251 1246,2242.8 C1237.7,2234.7 1229.2,2226 1220.2,2218.9 C1211.2,2211.7 1201.1,2205.4 1191.4,2199.4 C1181.7,2193.4 1166.9,2184.4 1161.4,2182.3 C1156,2180.3 1154.5,2182.5 1158.2,2186.9Z" fill="#fdc988" /><path d="M1025.4,2159.6 C1028.6,2162.6 1040,2169 1047,2174 C1054,2179 1061,2184.4 1067.7,2189.7 C1074.3,2195 1080.8,2200.3 1087,2206.1 C1093.1,2212 1099,2218.6 1104.9,2224.9 C1110.7,2231.2 1116.6,2237.8 1122.3,2244.3 C1128.1,2250.8 1133.9,2257.4 1139.5,2264 C1145,2270.6 1150.6,2277.7 1156.1,2284.4 C1161.7,2291.2 1167.4,2297.9 1172.9,2304.7 C1178.4,2311.6 1183.7,2318.7 1189.2,2325.6 C1194.7,2332.5 1200.5,2339.7 1206.2,2346.4 C1212,2353.2 1218,2360 1223.8,2366.7 C1229.7,2373.3 1235.6,2380.3 1241.6,2386.8 C1247.6,2393.3 1254,2399.7 1260.2,2406.1 C1266.4,2412.4 1272.6,2419 1279.1,2425.1 C1285.5,2431.2 1292.3,2437.3 1299.2,2442.7 C1306.2,2448.1 1317.1,2455.8 1321.3,2457.7 C1325.4,2459.5 1326.7,2457.8 1324.1,2454.2 C1321.6,2450.5 1311.6,2441.9 1305.8,2435.6 C1300,2429.2 1294.5,2422.5 1289,2415.8 C1283.6,2409.1 1278.2,2401.8 1272.8,2395 C1267.4,2388.1 1261.8,2381.2 1256.4,2374.2 C1251.1,2367.3 1245.7,2360 1240.4,2353 C1235,2346.1 1229.4,2339 1224,2332.1 C1218.6,2325.1 1213.3,2318 1207.9,2311 C1202.5,2304 1197.2,2296.6 1191.6,2289.7 C1186.1,2282.8 1180.1,2275.9 1174.3,2269.2 C1168.5,2262.4 1162.6,2255.5 1156.6,2248.9 C1150.6,2242.4 1144.2,2235.8 1137.9,2229.6 C1131.6,2223.3 1125.1,2217.1 1118.5,2211.1 C1111.9,2205.1 1105,2198.6 1097.8,2193.3 C1090.7,2187.9 1083,2183.1 1075.4,2178.5 C1067.8,2174 1059.8,2169.5 1051.9,2165.7 C1044,2161.9 1031.9,2156.6 1027.6,2155.6 C1023.2,2154.6 1022.2,2156.6 1025.4,2159.6Z" fill="#fdc988" /><path d="M941.3,2158.5 C944.1,2161 954.2,2165.9 960.2,2170.1 C966.1,2174.2 971.7,2179.2 977.3,2183.8 C983,2188.5 988.8,2193.1 994.2,2198 C999.7,2202.8 1005,2208 1010.1,2213.1 C1015.3,2218.2 1020.6,2223.5 1025.6,2228.7 C1030.5,2234 1035.6,2239.2 1040.1,2244.7 C1044.7,2250.2 1048.9,2256.1 1053.3,2262 C1057.7,2267.8 1062.2,2274 1066.6,2279.9 C1071,2285.7 1075.6,2291.7 1080,2297.6 C1084.4,2303.5 1088.7,2309.5 1093,2315.5 C1097.3,2321.4 1101.6,2327.6 1105.9,2333.6 C1110.2,2339.7 1114.7,2345.8 1119.1,2351.8 C1123.5,2357.9 1128,2364.3 1132.8,2370.2 C1137.6,2376 1143,2381.6 1148.1,2387.2 C1153.1,2392.7 1158.3,2398.2 1163.4,2403.6 C1168.5,2409 1173.7,2414.5 1179,2419.9 C1184.2,2425.2 1189.4,2431.1 1195,2436 C1200.7,2441 1209.8,2448 1213.2,2449.8 C1216.7,2451.6 1218,2450 1216.1,2446.7 C1214.2,2443.4 1206.1,2435.6 1201.5,2429.9 C1197,2424.1 1193,2417.7 1188.7,2411.7 C1184.4,2405.7 1179.9,2399.5 1175.5,2393.5 C1171.1,2387.6 1166.5,2381.4 1162.2,2375.5 C1157.8,2369.6 1153.1,2363.9 1149,2357.9 C1144.9,2351.9 1141.1,2345.5 1137.2,2339.4 C1133.2,2333.2 1129,2326.8 1125,2320.6 C1120.9,2314.4 1116.7,2308 1112.5,2301.8 C1108.2,2295.6 1103.7,2289.3 1099.3,2283.3 C1094.8,2277.3 1090.1,2271.3 1085.5,2265.4 C1080.9,2259.5 1076.3,2253.5 1071.5,2247.7 C1066.7,2241.9 1061.8,2235.6 1056.5,2230.1 C1051.3,2224.6 1045.4,2219.2 1039.7,2214.1 C1034.1,2209.1 1028.2,2204.1 1022.2,2199.4 C1016.3,2194.7 1010.2,2189.9 1003.9,2185.6 C997.7,2181.3 991.1,2177.3 984.6,2173.5 C978.1,2169.6 971.5,2165.4 964.6,2162.3 C957.8,2159.2 946.9,2155.3 943.1,2154.7 C939.2,2154.1 938.5,2156 941.3,2158.5Z" fill="#fdc988" /><path d="M841.8,2156.6 C844.4,2158.7 853.7,2162.5 859.2,2165.8 C864.8,2169 870,2172.6 875.2,2176.3 C880.3,2180 885.5,2184.2 890.3,2188.3 C895.2,2192.4 900,2196.8 904.6,2201.1 C909.2,2205.5 913.7,2210.2 918.1,2214.9 C922.5,2219.5 926.9,2224.7 931.3,2229.5 C935.7,2234.3 940.3,2239.1 944.5,2243.9 C948.7,2248.8 952.8,2253.8 956.8,2258.8 C960.8,2263.9 964.6,2269.4 968.5,2274.7 C972.5,2280 976.6,2285.4 980.6,2290.7 C984.7,2295.9 988.8,2301.2 992.8,2306.4 C996.7,2311.7 1000.6,2317.1 1004.5,2322.4 C1008.4,2327.7 1012.5,2333.2 1016.4,2338.5 C1020.4,2343.8 1024.5,2349.3 1028.6,2354.6 C1032.7,2359.9 1036.9,2365.5 1041.4,2370.6 C1045.8,2375.6 1050.9,2380.4 1055.6,2385.2 C1060.3,2390 1065,2394.8 1069.8,2399.5 C1074.6,2404.1 1081.5,2411.5 1084.4,2413.4 C1087.3,2415.3 1088.7,2414.1 1087.4,2410.9 C1086,2407.7 1079.9,2399.6 1076.1,2394.1 C1072.3,2388.7 1068.3,2383.1 1064.5,2377.7 C1060.6,2372.4 1056.4,2367.1 1052.8,2361.7 C1049.1,2356.3 1045.8,2350.6 1042.3,2345 C1038.9,2339.4 1035.3,2333.6 1031.8,2328 C1028.3,2322.4 1024.7,2316.6 1021.1,2311 C1017.5,2305.4 1013.7,2299.6 1009.9,2294.1 C1006.1,2288.5 1002,2283 998.1,2277.6 C994.2,2272.2 990.2,2266.8 986.1,2261.5 C982.1,2256.1 978.1,2250.5 973.8,2245.2 C969.5,2240 964.9,2234.7 960.2,2229.7 C955.6,2224.8 950.6,2220.2 945.8,2215.5 C940.9,2210.8 936.1,2206 931.1,2201.5 C926.1,2197 920.9,2192.5 915.5,2188.4 C910.2,2184.3 904.6,2180.3 898.9,2176.7 C893.2,2173 887.2,2169.4 881.2,2166.3 C875.2,2163.3 869,2160.5 862.7,2158.3 C856.4,2156.1 846.6,2153.3 843.2,2153.1 C839.7,2152.8 839.1,2154.5 841.8,2156.6Z" fill="#fdc988" /><path d="M597.9,1804.5 C606.1,1807.2 617.5,1812.1 637.6,1817.4 C657.7,1822.8 671.4,1825.3 695.2,1830.4 C719,1835.5 729,1836.9 752.8,1841.9 C776.6,1847 786.6,1848 810.4,1854.9 C834.2,1861.7 848.4,1867 868,1875.1 C887.7,1883.1 891.2,1888.9 905.5,1893.8 C919.8,1898.7 930.6,1897.7 937.2,1898.7" fill="none" stroke="#111" stroke-width="3.6" /><path d="M597.9,1846.2 C609.1,1848.9 628.9,1853 652,1859.2 C675.1,1865.5 687.6,1867.9 709.6,1876.5 C731.6,1885.1 738.9,1890 758.6,1901 C778.2,1912 788,1917.9 804.7,1929.8 C821.3,1941.7 826.1,1946.7 839.2,1958.6 C852.3,1970.5 856.1,1975.5 868,1987.4 C879.9,1999.3 884.9,2006.7 896.8,2016.2 C908.8,2025.7 914.3,2028.7 925.7,2033.5 C937,2038.2 946.2,2038 951.6,2039.2" fill="none" stroke="#111" stroke-width="3.6" /><path d="M597.9,1895.2 C606.1,1897.6 620.5,1901.4 637.6,1906.7 C654.8,1912.1 663,1913.4 680.8,1921.1 C698.7,1928.9 707.9,1932.9 724,1944.2 C740.1,1955.5 745.5,1963.4 758.6,1975.9 C771.7,1988.4 776.7,1994.6 787.4,2004.7 C798.1,2014.8 799.7,2016.5 810.4,2024.8 C821.1,2033.2 827.3,2038.5 839.2,2045 C851.1,2051.5 862.1,2054.1 868,2056.5" fill="none" stroke="#111" stroke-width="3.6" /><path d="M597.9,1952.8 C606.1,1955.2 621.7,1958.4 637.6,1964.3 C653.6,1970.3 662,1973.9 675.1,1981.6 C688.2,1989.4 690.9,1992.9 701,2001.8 C711.1,2010.7 715.7,2014.7 724,2024.8 C732.4,2035 735.4,2042.4 741.3,2050.8 C747.3,2059.1 750.4,2062.2 752.8,2065.2" fill="none" stroke="#111" stroke-width="3.6" /><path d="M597.9,2013.3 C603.1,2014.5 613.2,2015.5 623.2,2019.1 C633.2,2022.6 637.3,2024.6 646.2,2030.6 C655.2,2036.6 662.2,2044.3 666.4,2047.9" fill="none" stroke="#111" stroke-width="3.6" /><path d="M790.3,1840.5 C800.4,1842.3 820.2,1843.2 839.2,1849.1 C858.3,1855.1 864.6,1859.8 882.4,1869.3 C900.3,1878.8 912,1885.1 925.7,1895.2 C939.3,1905.3 938,1906.4 948.7,1918.3 C959.4,1930.2 965.6,1936.2 977.5,1952.8 C989.4,1969.5 995.6,1984 1006.3,1998.9 C1017,2013.8 1024.6,2019.5 1029.3,2024.8" fill="none" stroke="#111" stroke-width="3.6" /><path d="M623.2,1814.6 C638.1,1819.9 665.5,1830.4 695.2,1840.5 C725,1850.6 740.4,1853.4 767.2,1863.5 C794,1873.7 804,1878.1 824.8,1889.5 C845.7,1900.8 852,1905.2 868,1918.3 C884.1,1931.4 888.3,1936.2 902.6,1952.8 C916.9,1969.5 924.7,1982.2 937.2,1998.9 C949.7,2015.6 957.7,2026.3 963.1,2033.5" fill="none" stroke="#111" stroke-width="3.6" /><path d="M993.5,1877.5 C1003.1,1880.5 1021.8,1881.8 1039.6,1891.9 C1057.5,1902.1 1064.5,1909.8 1080,1926.5 C1095.4,1943.2 1104.4,1958.8 1114.5,1972.6 C1124.6,1986.4 1119.9,1979.4 1128.8,1993.2 C1137.7,2007 1145.7,2022.5 1157.6,2039.2 C1169.5,2055.9 1171.5,2060.7 1186.4,2073.8 C1201.3,2086.9 1208.8,2092.5 1229.6,2102.6 C1250.4,2112.7 1260.4,2115.6 1287.2,2122.8 C1314,2130 1332.4,2132.7 1359.2,2137.2 C1386,2141.7 1397.2,2141.4 1416.9,2144.4 C1436.6,2147.4 1439.4,2146.5 1454.3,2151.6 C1469.2,2156.7 1475.8,2158.8 1488.9,2168.9 C1502,2179 1505.8,2185.7 1517.7,2200.6 C1529.6,2215.5 1535.2,2224.5 1546.5,2240.9 C1557.8,2257.3 1563.4,2267.6 1572.4,2280 C1581.4,2292.4 1575.7,2283.5 1590.1,2300.9 C1604.5,2318.3 1619.3,2339.3 1641.9,2364.3 C1664.6,2389.3 1673.3,2398.1 1699.5,2421.9 C1725.7,2445.7 1737.7,2458.1 1768.7,2479.5 C1799.6,2500.9 1812.4,2507.7 1849.3,2525.6 C1886.2,2543.4 1903.2,2551.6 1947.2,2565.9 C1991.3,2580.2 2009.5,2584.6 2062.4,2594.7 C2115.4,2604.8 2174.4,2610.7 2203.6,2614.9" fill="none" stroke="#111" stroke-width="6.8" stroke-linecap="round"/><path d="M597.9,2119.9 C606.1,2122 617.5,2125.8 637.6,2130 C657.7,2134.1 675,2135 695.2,2140.1 C715.5,2145.1 712.7,2151.9 735.5,2154.5 C758.4,2157 783.7,2150.3 805.9,2152.6 C828.2,2154.9 827.8,2156 843.2,2165.6 C858.7,2175.3 865.1,2182.2 880.5,2199.2 C896,2216.1 901.6,2226.1 917.8,2247.7 C934,2269.3 941.1,2278.9 958.9,2303.6 C976.6,2328.3 985.1,2343.1 1003.6,2367 C1022.1,2390.9 1027.6,2398.4 1048.4,2419.2 C1069.2,2440 1081.2,2450.4 1104.3,2467.7 C1127.4,2485.1 1148.7,2495.8 1160.3,2503.1" fill="none" stroke="#111" stroke-width="3.6" /><path d="M597.9,2062.3 C603.1,2065.9 612,2071.8 623.2,2079.6 C634.4,2087.3 637.1,2092.6 652,2099.7 C666.9,2106.9 679.1,2106.4 695.2,2114.1 C711.3,2121.9 717.9,2129.4 729.8,2137.2 C741.7,2144.9 740.9,2149.9 752.8,2151.6 C764.7,2153.2 768.6,2146.4 787.3,2145.1 C806,2143.8 820.1,2141.6 843.2,2145.1 C866.4,2148.6 878.4,2153 899.2,2161.9 C920,2170.8 924.7,2174.1 943.9,2188 C963.2,2201.9 972.4,2207.4 992.4,2229 C1012.5,2250.6 1021.6,2265.4 1040.9,2292.4 C1060.2,2319.4 1064.9,2331.8 1085.7,2359.6 C1106.5,2387.3 1118.5,2402 1141.6,2426.7 C1164.7,2451.4 1172.9,2459.5 1197.6,2478.9 C1222.2,2498.3 1247.9,2512 1261,2520.7" fill="none" stroke="#111" stroke-width="3.6" /><path d="M666.4,2047.9 C673.6,2054.4 685.5,2068.8 701,2079.6 C716.5,2090.3 723.4,2092.6 741.3,2099.7 C759.2,2106.9 769.5,2108.8 787.4,2114.1 C805.2,2119.5 816.2,2123.5 827.7,2125.7 C839.3,2127.8 828.5,2123.7 843.2,2124.6 C858,2125.5 875.3,2127.1 899.2,2130.2 C923.1,2133.3 935.7,2133 958.9,2139.5 C982,2146.1 990.3,2149.6 1011.1,2161.9 C1031.9,2174.2 1040.3,2182.2 1059.6,2199.2 C1078.8,2216.1 1085,2221.6 1104.3,2243.9 C1123.6,2266.3 1133.5,2281.1 1152.8,2307.3 C1172.1,2333.5 1176.7,2343.8 1197.6,2370.7 C1218.4,2397.7 1230.4,2413.2 1253.5,2437.9 C1276.6,2462.5 1283.2,2468.9 1309.4,2490.1 C1335.6,2511.3 1365.7,2530 1380.3,2540.4" fill="none" stroke="#111" stroke-width="3.6" /><path d="M752.8,2065.2 C760,2070.5 769.5,2081.6 787.4,2091.1 C805.2,2100.6 819.6,2103.5 839.2,2111.2 C858.9,2119 857.7,2128.1 882.4,2128.5 C907.2,2129 932.3,2111.9 958.9,2113.4 C985.4,2114.9 988.7,2127.3 1011.1,2135.8 C1033.4,2144.3 1043.9,2145.2 1067,2154.4 C1090.1,2163.7 1102.1,2167.4 1123,2180.5 C1143.8,2193.6 1148.4,2198.6 1167.7,2217.8 C1187,2237.1 1196.2,2248.3 1216.2,2273.8 C1236.2,2299.2 1245.4,2313.9 1264.7,2340.9 C1284,2367.9 1288.6,2378.1 1309.4,2404.3 C1330.3,2430.5 1342.3,2443.8 1365.4,2467.7 C1388.5,2491.6 1397.4,2502.2 1421.3,2519.9 C1445.2,2537.7 1453.2,2547.1 1481,2553.5 C1508.8,2559.9 1528.9,2549.5 1555.9,2550.9 C1583,2552.3 1584.9,2554.5 1611.9,2560.3 C1638.9,2566 1655.6,2570 1686.5,2578.9 C1717.3,2587.8 1745.7,2598.1 1761.1,2603.1" fill="none" stroke="#111" stroke-width="3.6" /><path d="M868,2056.5 C877,2062.5 893.4,2074.6 911.2,2085.3 C929.1,2096 922.3,2098.7 954.5,2108.4 C986.6,2118 1032.2,2121.8 1067,2132.1 C1101.8,2142.3 1099.8,2150.5 1123,2158.2 C1146.1,2165.9 1155.8,2160.9 1178.9,2169.3 C1202,2177.8 1211.7,2182.2 1234.8,2199.2 C1258,2216.1 1269.2,2228.3 1290.8,2251.4 C1312.4,2274.5 1320,2285.6 1339.3,2311.1 C1358.5,2336.5 1363.2,2346.7 1384,2374.5 C1404.8,2402.2 1416.9,2418.4 1440,2445.3 C1463.1,2472.3 1475.8,2490.1 1495.9,2505 C1516,2519.9 1521,2511.7 1537.3,2517.4 C1553.6,2523 1555.3,2525.7 1574.6,2532.3 C1593.9,2538.8 1607.4,2543.3 1630.5,2549.1 C1653.7,2554.8 1659.5,2554.1 1686.5,2560.3 C1713.5,2566.4 1730.2,2570.4 1761.1,2578.9 C1791.9,2587.4 1804.8,2592 1835.7,2601.3 C1866.5,2610.5 1879.4,2615.2 1910.3,2623.7 C1941.1,2632.1 1954,2635.8 1984.8,2642.3 C2015.7,2648.9 2022.8,2651.7 2059.4,2655.4 C2096.1,2659.1 2140.8,2659.2 2162,2660.2" fill="none" stroke="#111" stroke-width="3.6" /><path d="M951.6,2039.2 C961.1,2045.8 970,2055.6 997.7,2070.9 C1025.4,2086.3 1055.9,2099.2 1085.7,2113.4 C1115.4,2127.6 1118.5,2129.5 1141.6,2139.5 C1164.7,2149.5 1174.4,2155 1197.6,2161.9 C1220.7,2168.8 1230.4,2166.9 1253.5,2173.1 C1276.6,2179.2 1287.1,2180.2 1309.4,2191.7 C1331.8,2203.3 1341.6,2210.5 1361.7,2229 C1381.7,2247.5 1387.9,2258.1 1406.4,2281.2 C1424.9,2304.4 1432.7,2315.5 1451.2,2340.9 C1469.7,2366.3 1478.1,2384.4 1495.9,2404.3 C1513.7,2424.2 1521,2423.1 1537.3,2437.2 C1553.6,2451.3 1559.2,2459.5 1574.6,2472.6 C1590,2485.7 1592.6,2489.4 1611.9,2500.6 C1631.2,2511.8 1644.7,2517.4 1667.8,2526.7 C1691,2535.9 1696.8,2536.9 1723.8,2545.3 C1750.8,2553.8 1767.5,2558.5 1798.4,2567.7 C1829.2,2577 1842.1,2580.8 1873,2590.1 C1903.8,2599.3 1916.7,2604 1947.6,2612.5 C1978.4,2620.9 1992.9,2625.1 2022.1,2631.1 C2051.4,2637.1 2075.4,2639.4 2089.3,2641.6" fill="none" stroke="#111" stroke-width="3.6" /><path d="M1029.3,2024.8 C1037.7,2032.6 1042.6,2040.1 1069.7,2062.3 C1096.7,2084.4 1130,2113 1160.3,2132.1 C1190.5,2151.1 1193.1,2147.5 1216.2,2154.4 C1239.3,2161.4 1246.7,2160.2 1272.1,2165.6 C1297.6,2171 1314.6,2173.6 1339.3,2180.5 C1363.9,2187.5 1370.7,2188.4 1391.5,2199.2 C1412.3,2210 1422.2,2215.8 1440,2232.8 C1457.7,2249.7 1464.9,2266 1477.3,2281.2 C1489.7,2296.5 1487.6,2291 1500,2306.6 C1512.4,2322.3 1521.9,2335.4 1537.3,2357 C1552.7,2378.6 1559.2,2390.6 1574.6,2411.1 C1590,2431.5 1592.6,2438.1 1611.9,2455.8 C1631.2,2473.6 1644.7,2483 1667.8,2496.9 C1691,2510.7 1696.8,2512.2 1723.8,2523 C1750.8,2533.8 1767.5,2539 1798.4,2549.1 C1829.2,2559.1 1842.1,2562.2 1873,2571.4 C1903.8,2580.7 1909,2583.8 1947.6,2593.8 C1986.1,2603.8 2010.1,2610.5 2059.4,2619.9 C2108.8,2629.3 2160,2635.3 2186.2,2639.3" fill="none" stroke="#111" stroke-width="3.6" /><path d="M1216.2,2124.6 C1227.8,2129.2 1249,2140 1272.1,2147 C1295.3,2153.9 1305,2153.5 1328.1,2158.2 C1351.2,2162.8 1360.9,2164 1384,2169.3 C1407.2,2174.7 1420.7,2176.6 1440,2184.3 C1459.2,2192 1464.9,2195.6 1477.3,2206.6 C1489.7,2217.7 1487.6,2218.5 1500,2237.6 C1512.4,2256.8 1521.9,2274.5 1537.3,2299.2 C1552.7,2323.8 1559.2,2335.4 1574.6,2357 C1590,2378.6 1592.6,2384 1611.9,2403.6 C1631.2,2423.3 1644.7,2435.1 1667.8,2452.1 C1691,2469.1 1696.8,2471.8 1723.8,2485.7 C1750.8,2499.5 1767.5,2506.1 1798.4,2519.2 C1829.2,2532.3 1842.1,2537.5 1873,2549.1 C1903.8,2560.6 1916.7,2565.2 1947.6,2575.2 C1978.4,2585.2 1985.1,2588.1 2022.1,2597.6 C2059.1,2607 2105,2615.9 2126.6,2620.7" fill="none" stroke="#111" stroke-width="3.6" /></g><path d="M1800,1487.3 C1795,1493.4 1787,1507 1775.8,1517 C1764.6,1527 1759.9,1531.5 1746,1535.8 C1732.1,1540.1 1722.5,1538.8 1708.6,1537.6 C1694.7,1536.4 1690.4,1528.3 1678.8,1530.2 C1667.2,1532.1 1669.7,1540.4 1652.7,1547 C1635.7,1553.6 1619.8,1555.7 1596.7,1561.9 C1573.6,1568.1 1563.9,1569.1 1540.8,1576.8 C1517.7,1584.5 1504.1,1589.2 1484.8,1599.2 C1465.5,1609.2 1463,1613 1447.6,1625.3 C1432.2,1637.6 1425.7,1646.6 1410.3,1658.9 C1394.9,1671.2 1388.4,1675.8 1373,1685 C1357.6,1694.2 1351.1,1696.7 1335.7,1703.6 C1320.3,1710.5 1313.8,1710 1298.4,1718.5 C1283,1727 1274.9,1732.3 1261,1744.6 C1247.1,1756.9 1245,1768.2 1231.2,1778.2 C1217.4,1788.2 1207.9,1786.2 1194,1793.1 C1180.1,1800 1172.5,1802.5 1164,1811.8 C1155.5,1821.1 1157.5,1827.1 1152.9,1837.9 C1148.3,1848.7 1148.6,1854.8 1141.7,1864 C1134.8,1873.2 1128.7,1876.5 1119.3,1882.6 C1109.9,1888.7 1100.8,1891.2 1096,1893.5" fill="none" stroke="#111" stroke-width="5.8" /><path d="M1650.4,1271.7 C1653.9,1276.9 1658.4,1285.6 1667.1,1296.9 C1675.8,1308.2 1680.1,1315.8 1692.3,1326.2 C1704.5,1336.6 1712,1340.3 1725.9,1347.2 C1739.8,1354.1 1747.3,1353.7 1759.4,1359.8 C1771.5,1365.9 1775.9,1367.9 1784.6,1376.6 C1793.3,1385.3 1797.1,1389.7 1801.4,1401.8 C1805.7,1413.9 1806.5,1421.4 1805.6,1435.3 C1804.7,1449.2 1799.4,1458.5 1797.2,1468.9 C1795,1479.3 1795.5,1482.2 1795.1,1485.7" fill="none" stroke="#111" stroke-width="5.4" /><path d="M1683.9,1250.7 C1690.8,1252.9 1703.6,1261.6 1717.5,1261.2 C1731.4,1260.8 1737.1,1255.5 1751,1248.6 C1764.9,1241.7 1769,1235 1784.6,1227.6 C1800.2,1220.2 1809.3,1217.2 1826.6,1212.9 C1843.9,1208.6 1852.9,1207.9 1868.5,1206.6 C1884.1,1205.3 1888.2,1204.9 1902.1,1206.6 C1916,1208.3 1920.1,1210.7 1935.7,1215 C1951.3,1219.3 1960.3,1223.7 1977.6,1227.6 C1994.9,1231.5 2004,1233.9 2019.6,1233.9 C2035.2,1233.9 2039.3,1231.5 2053.2,1227.6 C2067.1,1223.7 2072,1218.5 2086.7,1215 C2101.4,1211.5 2109.8,1210.4 2124.5,1210.8 C2139.2,1211.2 2145,1213.2 2158,1217.1 C2171,1221 2176.1,1224.1 2187.4,1229.7 C2198.7,1235.3 2206.1,1239.6 2212.6,1244.4 C2219.1,1249.2 2217.6,1251.1 2218.9,1252.8" fill="none" stroke="#111" stroke-width="5.4" /><path d="M2386,1115 C2385.7,1122.2 2391,1135.8 2384.6,1150 C2378.2,1164.2 2369.9,1168.9 2355.2,1183.6 C2340.5,1198.3 2330.6,1207.4 2313.3,1221.3 C2296,1235.2 2286.9,1240.7 2271.3,1250.7 C2255.7,1260.7 2248,1267.3 2237.8,1269.6 C2227.6,1271.9 2225.3,1263.6 2222,1262" fill="none" stroke="#111" stroke-width="5.4" /><path d="M1683.9,1252.8 C1689.1,1256.7 1696.8,1267.8 1709,1271.7 C1721.2,1275.6 1728.8,1273.4 1742.7,1271.7 C1756.6,1270 1764.1,1265 1776.2,1263.3 C1788.3,1261.6 1791,1260.7 1801.4,1263.3 C1811.8,1265.9 1816.2,1268.1 1826.6,1275.9 C1837,1283.7 1841.4,1289.7 1851.8,1301 C1862.2,1312.3 1866.5,1318.2 1876.9,1330.4 C1887.3,1342.6 1890.8,1348.5 1902.1,1359.8 C1913.4,1371.1 1925.4,1379.8 1931.5,1385" fill="none" stroke="#111" stroke-width="4.6" /><path d="M1650.4,1271.7 C1655.6,1276.9 1664.2,1289.1 1675.5,1296.9 C1686.8,1304.7 1691.9,1308.1 1704.9,1309.4 C1717.9,1310.7 1723.8,1307.4 1738.5,1303.1 C1753.2,1298.8 1761.5,1290.6 1776.2,1288.5 C1790.9,1286.4 1797.6,1287.5 1809.8,1292.7 C1822,1297.9 1824.6,1303.2 1835,1313.6 C1845.4,1324 1848,1329.1 1860.1,1343 C1872.2,1356.9 1881.5,1368.2 1893.7,1380.8 C1905.9,1393.4 1913.7,1399.1 1918.9,1403.9" fill="none" stroke="#111" stroke-width="4.6" /><path d="M1797.2,1233.9 C1797.6,1237.4 1797.6,1245.1 1799.3,1250.7 C1801,1256.3 1804.3,1259 1805.6,1261.2" fill="none" stroke="#111" stroke-width="2.2" /><path d="M1822.4,1221.3 C1821.9,1226.5 1819.4,1237 1820.3,1246.5 C1821.1,1256 1825.3,1263.1 1826.6,1267.5" fill="none" stroke="#111" stroke-width="2.2" /><path d="M1876.9,1215 C1872.6,1220.7 1862.5,1229.7 1855.9,1242.3 C1849.4,1254.9 1847.6,1268.9 1845.5,1275.9" fill="none" stroke="#111" stroke-width="2.2" /><path d="M1931.5,1223.4 C1922.8,1227.3 1904.3,1231.5 1889.5,1242.3 C1874.8,1253.1 1866.2,1268.9 1860.1,1275.9" fill="none" stroke="#111" stroke-width="2.2" /><path d="M1977.6,1233.9 C1965.5,1236.5 1941.4,1237 1918.9,1246.5 C1896.3,1256 1878.9,1273.1 1868.5,1280.1" fill="none" stroke="#111" stroke-width="2.2" /><path d="M2061.5,1236 C2044.2,1237.7 2010.6,1237 1977.6,1244.4 C1944.7,1251.8 1923.8,1262.6 1902.1,1271.7 C1880.4,1280.8 1878.8,1285 1872.7,1288.5" fill="none" stroke="#111" stroke-width="2.2" /><path d="M2145.5,1257 C2119.4,1256.6 2062.9,1250.1 2019.6,1254.9 C1976.2,1259.7 1962.6,1269.2 1935.7,1280.1 C1908.8,1290.9 1899.1,1301.7 1889.5,1307.3" fill="none" stroke="#111" stroke-width="2.2" /><path d="M2141.3,1267.5 C2120.5,1269.2 2078.7,1268.1 2040.6,1275.9 C2002.4,1283.7 1983.5,1293.1 1956.6,1305.2 C1929.8,1317.4 1920,1328.5 1910.5,1334.6" fill="none" stroke="#111" stroke-width="2.2" /><path d="M2078.3,1288.5 C2061.9,1293.7 2023.8,1303.2 1998.6,1313.6 C1973.5,1324 1969.7,1326.7 1956.6,1338.8 C1943.6,1351 1940,1365.4 1935.7,1372.4" fill="none" stroke="#111" stroke-width="2.2" /><path d="M2200,1254.9 C2188.7,1251.9 2174.1,1244.1 2145.5,1240.2 C2116.8,1236.3 2078.9,1236.9 2061.5,1236" fill="none" stroke="#111" stroke-width="2.2" /><path d="M1797.2,1296.9 C1789.4,1299.5 1772.4,1300.8 1759.4,1309.4 C1746.4,1318.1 1739.5,1332.7 1734.3,1338.8" fill="none" stroke="#111" stroke-width="2.2" /><path d="M1818.2,1311.5 C1809.5,1314.6 1790.1,1318.9 1776.2,1326.2 C1762.4,1333.6 1756.3,1342.9 1751.1,1347.2" fill="none" stroke="#111" stroke-width="2.2" /><path d="M1835,1330.4 C1827.2,1333 1810.2,1336.9 1797.2,1343 C1784.2,1349.1 1777.2,1356.3 1772,1359.8" fill="none" stroke="#111" stroke-width="2.2" /><path d="M1851.8,1351.4 C1844.8,1352.7 1832.1,1353.4 1818.2,1357.7 C1804.3,1362 1791.6,1369.3 1784.6,1372.4" fill="none" stroke="#111" stroke-width="2.2" /><path d="M1872.7,1380.8 C1864.9,1381.6 1848.8,1380.6 1835,1385 C1821.1,1389.3 1811.7,1398.3 1805.6,1401.8" fill="none" stroke="#111" stroke-width="2.2" /><path d="M1889.5,1401.8 C1881.7,1402.6 1868.2,1399.9 1851.8,1405.9 C1835.3,1412 1818.5,1425.9 1809.8,1431.1" fill="none" stroke="#111" stroke-width="2.2" /><path d="M1908.4,1420.6 C1900.2,1421.9 1885.4,1418.7 1868.5,1426.9 C1851.6,1435.2 1838.7,1443.2 1826.6,1460.5 C1814.4,1477.8 1813.3,1500.4 1809.8,1510.8" fill="none" stroke="#111" stroke-width="2.2" /><path d="M1893.7,1424.8 C1885,1428.7 1867.4,1432 1851.8,1443.7 C1836.1,1455.4 1825.1,1473.7 1818.2,1481.5" fill="none" stroke="#111" stroke-width="2.2" /><path d="M1600,1519.2 C1605.2,1516.6 1614.8,1510.8 1625.2,1506.6 C1635.6,1502.5 1645.1,1500.7 1650.4,1499.1" fill="none" stroke="#111" stroke-width="2.2" /><path d="M1725.9,1531.8 C1728.5,1531 1734.1,1529.1 1738.5,1527.6 C1742.8,1526.2 1745.1,1525.3 1746.9,1524.7" fill="none" stroke="#111" stroke-width="2.2" /><path d="M1550.1,1519 C1540.5,1522.1 1524.7,1525.1 1503.5,1533.9 C1482.3,1542.8 1466.8,1549.2 1447.6,1561.9 C1428.3,1574.6 1423.4,1583.1 1410.3,1595.5 C1397.2,1607.8 1393.4,1611.9 1384.1,1621.6 C1374.9,1631.2 1369.4,1637.8 1365.5,1642.1" fill="none" stroke="#111" stroke-width="2.6" /><path d="M1650.8,1498.5 C1643.5,1501.6 1634.3,1504.2 1615.4,1513.4 C1596.5,1522.7 1580.3,1531.7 1559.4,1543.2 C1538.6,1554.8 1523.9,1564 1514.7,1569.3" fill="none" stroke="#111" stroke-width="2.6" /><path d="M1417.7,1574.9 C1404.6,1580 1379,1586.5 1354.3,1599.2 C1329.6,1611.9 1321.5,1617.2 1298.4,1636.5 C1275.2,1655.7 1267.1,1669.3 1242.4,1692.4 C1217.8,1715.5 1192.1,1736.8 1179,1748.4" fill="none" stroke="#111" stroke-width="2.6" /><path d="M1391.6,1604.8 C1380,1611.3 1358,1620.7 1335.7,1636.5 C1313.3,1652.3 1303.5,1661.2 1283.4,1681.2 C1263.4,1701.3 1250.3,1720.3 1238.7,1733.4 C1227.1,1746.6 1229.8,1742.3 1227.5,1744.6" fill="none" stroke="#111" stroke-width="2.6" /><path d="M1414,1630.9 C1404,1633.6 1385.5,1635.1 1365.5,1643.9 C1345.5,1652.8 1334.7,1661.4 1317,1673.8 C1299.3,1686.1 1291.3,1694.4 1279.7,1703.6 C1268.2,1712.9 1264.9,1715.4 1261.1,1718.5" fill="none" stroke="#111" stroke-width="2.6" /><path d="M1227.5,1677.5 C1219,1682.9 1204.2,1689.7 1186.5,1703.6 C1168.8,1717.5 1159.5,1727.7 1141.7,1744.6 C1124,1761.6 1116.1,1768.7 1100.7,1785.7 C1085.3,1802.6 1077.5,1812 1067.1,1826.7 C1056.7,1841.3 1053.8,1850.4 1050.3,1856.5" fill="none" stroke="#111" stroke-width="2.6" /><path d="M1214.5,1744.6 C1204.8,1749.3 1186.7,1755.5 1167.8,1767 C1148.9,1778.6 1139.3,1787.5 1123.1,1800.6 C1106.9,1813.7 1099.9,1820 1089.5,1830.4 C1079.1,1840.8 1076.2,1846.7 1072.7,1850.9" fill="none" stroke="#111" stroke-width="2.6" /><path d="M1668.5,1575.6 Q1679.7,1609.8 1698.8,1638.1" fill="none" stroke="#111" stroke-width="2.2"/><path d="M1773.4,1541.3 Q1781.5,1572.5 1797.6,1597.7" fill="none" stroke="#111" stroke-width="2.2"/><path d="M1876.2,1499 Q1882.3,1533.2 1896.4,1561.5" fill="none" stroke="#111" stroke-width="2.2"/><path d="M1934.7,1426.4 Q1943.8,1460.6 1960.9,1488.9" fill="none" stroke="#111" stroke-width="2.2"/><path d="M1801.6,1470.7 Q1819.8,1504 1846,1531.2" fill="none" stroke="#111" stroke-width="2.2"/><path d="M1578.1,1591.2 Q1591.4,1628.8 1612.7,1660.4" fill="none" stroke="#111" stroke-width="2.2"/><path d="M1497.5,1625.8 Q1507.9,1651.8 1526.3,1671.9" fill="none" stroke="#111" stroke-width="2.2"/><path d="M2074.1,1319.9 Q2080.6,1356.5 2095.1,1387.1" fill="none" stroke="#111" stroke-width="2.2"/><path d="M2145.5,1307.3 Q2152,1333.4 2166.4,1353.5" fill="none" stroke="#111" stroke-width="2.2"/><path d="M2191.6,1280.1 Q2200.2,1306.1 2216.8,1326.2" fill="none" stroke="#111" stroke-width="2.2"/><path d="M1998.6,1364 Q2005.1,1398.5 2019.6,1426.9" fill="none" stroke="#111" stroke-width="2.2"/><path d="M1252.8,1799.8 Q1280.4,1843.1 1316.1,1880.4" fill="none" stroke="#111" stroke-width="2.2"/><path d="M1339.2,1724.9 Q1366.9,1769.6 1402.5,1808.4" fill="none" stroke="#111" stroke-width="2.2"/><path d="M1172.1,1851.6 Q1214.2,1900.7 1264.3,1943.8" fill="none" stroke="#111" stroke-width="2.2"/><path d="M2079.8,1609.8 C2089,1619.8 2104.2,1642 2124.2,1658.2 C2144.2,1674.5 2165.8,1682.2 2176.6,1688.5" fill="none" stroke="#111" stroke-width="2.2" /><path d="M1999.2,1700.6 C2010,1711.8 2028.3,1736.2 2051.6,1755 C2074.9,1773.8 2099.6,1783.8 2112.1,1791.3" fill="none" stroke="#111" stroke-width="2.2" /><path d="M1904.4,1777.2 C1914.9,1790.1 1931.9,1818.8 1954.8,1839.7 C1977.8,1860.5 2002.8,1870.1 2015.3,1878" fill="none" stroke="#111" stroke-width="2.2" /><path d="M1795.6,1872.7 C1813.5,1890.1 1847.7,1929.7 1882.3,1956.6 C1916.8,1983.5 1946.2,1993.4 1962.9,2003" fill="none" stroke="#111" stroke-width="2.2" /><path d="M2180.6,1428.4 C2189,1438.4 2203.9,1459.7 2221,1476.8 C2238.1,1493.9 2254.6,1504 2263.3,1511" fill="none" stroke="#111" stroke-width="2.2" /><path d="M2245.2,1380 C2250.2,1384.6 2259.4,1394.7 2269.4,1402.2 C2279.4,1409.7 2288.5,1413.4 2293.5,1416.3" fill="none" stroke="#111" stroke-width="2.2" /><path d="M1712.9,1956.6 C1727.1,1969.9 1751.5,1995.6 1781.5,2021.1 C1811.5,2046.6 1842.2,2067.8 1858.1,2080" fill="none" stroke="#111" stroke-width="2.2" /><path d="M2241.9,1274.4 C2251.5,1279.2 2270.2,1286.2 2288,1297.5 C2305.9,1308.8 2320,1322.6 2328.3,1329.1" fill="none" stroke="#111" stroke-width="2.2" /><path d="M1641.9,2053.2 C1661,2077 1696.6,2130.3 1734.1,2168.4 C1771.6,2206.5 1804.9,2223.3 1823.4,2237.6" fill="none" stroke="#111" stroke-width="2.2" /><path d="M2096,1482.8 q6,12 22,10" fill="none" stroke="#8d949b" stroke-width="2.2"/><path d="M2136.3,1496.9 q6,12 22,10" fill="none" stroke="#8d949b" stroke-width="2.2"/><path d="M1983.1,1581.6 q6,12 22,10" fill="none" stroke="#8d949b" stroke-width="2.2"/><path d="M2019.4,1593.7 q6,12 22,10" fill="none" stroke="#8d949b" stroke-width="2.2"/><path d="M1833.9,1640.1 q6,12 22,10" fill="none" stroke="#8d949b" stroke-width="2.2"/><path d="M1874.2,1648.1 q6,12 22,10" fill="none" stroke="#8d949b" stroke-width="2.2"/><path d="M1914.5,1712.7 q6,12 22,10" fill="none" stroke="#8d949b" stroke-width="2.2"/><path d="M1954.8,1714.7 q6,12 22,10" fill="none" stroke="#8d949b" stroke-width="2.2"/><path d="M1801.6,1744.9 q6,12 22,10" fill="none" stroke="#8d949b" stroke-width="2.2"/><path d="M1902.4,1837.7 q6,12 22,10" fill="none" stroke="#8d949b" stroke-width="2.2"/><path d="M1942.7,1843.7 q6,12 22,10" fill="none" stroke="#8d949b" stroke-width="2.2"/><path d="M1767.3,1730.8 q6,12 22,10" fill="none" stroke="#8d949b" stroke-width="2.2"/><path d="M2225.2,1271.7 C2217.4,1275.2 2203.9,1282 2187.4,1288.5 C2170.9,1295 2162.8,1298.8 2145.5,1303.1 C2128.2,1307.4 2120.9,1308.5 2103.5,1309.4 C2086.1,1310.3 2077.1,1305.6 2061.5,1307.3 C2045.9,1309 2041,1311.3 2028,1317.8 C2015,1324.3 2010.8,1330.1 1998.6,1338.8 C1986.4,1347.5 1982.2,1351.6 1969.2,1359.8 C1956.2,1368 1942.6,1374.8 1935.7,1378.7" fill="none" stroke="#111" stroke-width="5.2" stroke-dasharray="21 16"/><path d="M1908.4,1424.8 C1903.6,1427.8 1897,1433.9 1885.3,1439.5 C1873.6,1445.1 1863.9,1446 1851.8,1452.1 C1839.7,1458.2 1835.3,1460.2 1826.6,1468.9 C1817.9,1477.6 1813.3,1488.8 1809.8,1494" fill="none" stroke="#111" stroke-width="5.2" stroke-dasharray="21 16"/><path d="M1497.5,1343.5 C1520.4,1348.2 1569.9,1358.8 1608.4,1366.1 C1646.9,1373.4 1651,1372.2 1683.9,1378.7 C1716.8,1385.2 1740,1390.7 1767.8,1397.6 C1795.6,1404.5 1799.1,1404.4 1818.2,1412.2 C1837.3,1420 1844.5,1425.3 1860.1,1435.3 C1875.7,1445.3 1881.5,1450.1 1893.7,1460.5 C1905.9,1470.9 1906.8,1476.2 1918.9,1485.7 C1931,1495.2 1935.9,1498.9 1952.4,1506.7 C1968.9,1514.5 1976.1,1517 1998.6,1523.5 C2021.1,1530 2035.5,1532.9 2061.5,1538.1 C2087.5,1543.3 2102.8,1544.3 2124.5,1548.6 C2146.2,1552.9 2149.1,1553 2166.4,1559.1 C2183.7,1565.2 2191,1568 2208.4,1578 C2225.8,1588 2233.1,1593.5 2250.4,1607.4 C2267.7,1621.3 2270.2,1627 2292.3,1645.1 C2314.4,1663.2 2327.1,1673.9 2357.1,1694.9 C2387.2,1715.9 2404.5,1727.1 2437.8,1746.8 C2471.1,1766.4 2482.7,1772.1 2518.4,1790 C2554.1,1807.8 2574.9,1817.1 2610.6,1833.2 C2646.3,1849.3 2664.7,1855.6 2691.2,1867.7 C2717.8,1879.8 2703.5,1877.1 2739.1,1891.7 C2774.7,1906.3 2820.7,1923.3 2863.6,1938.3 C2906.5,1953.3 2910.1,1955 2946.5,1964.2 C2982.9,1973.4 3020.5,1979 3039.8,1982.9" fill="none" stroke="#111" stroke-width="5.2" stroke-dasharray="21 16"/><path d="M2227.3,1269.6 C2226,1279.6 2225.8,1297.4 2221,1317.8 C2216.2,1338.2 2212,1347.4 2204.2,1368.2 C2196.4,1389 2194.5,1396 2183.2,1418.5 C2171.9,1441 2166.2,1451.3 2149.7,1477.3 C2133.2,1503.3 2123.4,1518.4 2103.5,1544.4 C2083.6,1570.4 2073.9,1578.8 2053.2,1603.2 C2032.5,1627.6 2030.2,1635.1 2003.2,1662.3 C1976.2,1689.5 1964.3,1699.8 1922.6,1734.8 C1880.9,1769.8 1847.6,1798.5 1801.6,1831.6 C1755.6,1864.7 1735,1870.2 1700,1895.2 C1665,1920.2 1683.1,1899.3 1632.3,1952.6 C1581.5,2005.9 1491.1,2111.6 1454.3,2153" fill="none" stroke="#808285" stroke-width="8.5" stroke-dasharray="21 13"/><path d="M597.5,1804.5 L2233,972 L3825,1133 L3825,1715 L2209.5,2692 L597.5,2403 Z" fill="none" stroke="#111" stroke-width="3.6" stroke-linejoin="miter"/><path d="M597.5,1804.5 L2209.5,2067 L3825,1133 M2209.5,2067 L2209.5,2692" fill="none" stroke="#111" stroke-width="3.4"/><path d="M2209.7,2609 C2227.7,2601.1 2258.6,2591.9 2296.9,2570.8 C2335.2,2549.7 2354.3,2533.3 2394.8,2507 C2435.3,2480.7 2457.3,2467.8 2492.7,2443.5 C2528.1,2419.2 2540.7,2406.9 2566,2389.6 C2591.3,2372.3 2589.7,2372.1 2615,2360 C2640.3,2347.9 2663.3,2343 2688.6,2330.9 C2713.9,2318.8 2707.1,2320.7 2737.5,2301.5 C2767.9,2282.3 2795,2264.2 2835.5,2237.8 C2876,2211.5 2899.4,2195.7 2933.4,2174 C2967.4,2152.3 2969.2,2150.4 3000,2132.6 C3030.8,2114.8 3048.4,2108.3 3082.5,2087.9 C3116.6,2067.5 3130.9,2055.8 3165,2033.9 C3199.1,2012.1 3213.4,2001.9 3247.5,1982.2 C3281.6,1962.6 3295.9,1957.8 3330,1938.9 C3364.1,1920.1 3378.4,1912.4 3412.5,1891.2 C3446.6,1869.9 3460.9,1857.6 3495,1836.2 C3529.1,1814.8 3543.4,1806.5 3577.5,1787.5 C3611.6,1768.5 3625.9,1763.8 3660,1744.4 C3694.1,1725 3708.4,1715.3 3742.5,1693.6 C3776.6,1671.8 3807.9,1650.4 3825,1639.2" fill="none" stroke="#111" stroke-width="4.2" /><path d="M2209.7,2630.4 C2227.7,2621.9 2258.6,2610 2296.9,2589.1 C2335.2,2568.2 2354.3,2553.9 2394.8,2529.1 C2435.3,2504.4 2457.3,2492 2492.7,2469.2 C2528.1,2446.5 2540.7,2435.6 2566,2419.1 C2591.3,2402.6 2589.7,2402.7 2615,2389.5 C2640.3,2376.2 2663.3,2368.3 2688.6,2354.8 C2713.9,2341.4 2707.1,2344.1 2737.5,2324.3 C2767.9,2304.6 2795,2286.1 2835.5,2259.4 C2876,2232.7 2899.4,2216.9 2933.4,2195 C2967.4,2173.1 2969.2,2171.5 3000,2153.5 C3030.8,2135.5 3048.4,2127.9 3082.5,2108 C3116.6,2088 3130.9,2077.6 3165,2057 C3199.1,2036.4 3213.4,2027.2 3247.5,2008 C3281.6,1988.9 3295.9,1983.4 3330,1964.5 C3364.1,1945.6 3378.4,1937.7 3412.5,1916.6 C3446.6,1895.6 3460.9,1884.1 3495,1862.4 C3529.1,1840.7 3543.4,1831.8 3577.5,1811.5 C3611.6,1791.3 3625.9,1784.8 3660,1764.2 C3694.1,1743.7 3708.4,1733.9 3742.5,1712 C3776.6,1690.1 3807.9,1669.5 3825,1658.4" fill="none" stroke="#111" stroke-width="2.4" /><path d="M2209.7,2655.4 C2227.7,2646.3 2258.6,2632.8 2296.9,2611.2 C2335.2,2589.5 2354.3,2576 2394.8,2550.6 C2435.3,2525.2 2457.3,2511.6 2492.7,2488.3 C2528.1,2465 2540.7,2454.7 2566,2437.9 C2591.3,2421.1 2589.7,2421.5 2615,2406.9 C2640.3,2392.4 2663.3,2382 2688.6,2367.7 C2713.9,2353.3 2707.1,2356.4 2737.5,2337.4 C2767.9,2318.5 2795,2301.1 2835.5,2276.1 C2876,2251.1 2899.4,2236.9 2933.4,2216.5 C2967.4,2196.2 2969.2,2195 3000,2177.5 C3030.8,2160 3048.4,2151.8 3082.5,2132 C3116.6,2112.1 3130.9,2102.4 3165,2081.4 C3199.1,2060.5 3213.4,2051.1 3247.5,2030.6 C3281.6,2010.1 3295.9,2002.8 3330,1982.3 C3364.1,1961.7 3378.4,1953 3412.5,1931.2 C3446.6,1909.5 3460.9,1898.6 3495,1877 C3529.1,1855.4 3543.4,1846.6 3577.5,1826.5 C3611.6,1806.5 3625.9,1799.6 3660,1779.9 C3694.1,1760.2 3708.4,1751.4 3742.5,1731 C3776.6,1710.6 3807.9,1691.5 3825,1681.2" fill="none" stroke="#111" stroke-width="2.4" /><path d="M2209.7,2676.8 C2227.7,2666.2 2258.6,2649.1 2296.9,2625.5 C2335.2,2602 2354.3,2588.6 2394.8,2562.8 C2435.3,2536.9 2457.3,2523.2 2492.7,2500.6 C2528.1,2478.1 2540.7,2469.5 2566,2453.8 C2591.3,2438.1 2589.7,2438.8 2615,2424.5 C2640.3,2410.3 2663.3,2398.8 2688.6,2384.7 C2713.9,2370.6 2707.1,2374.2 2737.5,2356.4 C2767.9,2338.6 2795,2322.8 2835.5,2298.7 C2876,2274.6 2899.4,2260.5 2933.4,2240 C2967.4,2219.4 2969.2,2218.1 3000,2199.4 C3030.8,2180.7 3048.4,2170.7 3082.5,2149.4 C3116.6,2128.2 3130.9,2118.3 3165,2096.6 C3199.1,2074.8 3213.4,2065.3 3247.5,2044.2 C3281.6,2023.1 3295.9,2015 3330,1994.5 C3364.1,1973.9 3378.4,1965.5 3412.5,1945 C3446.6,1924.5 3460.9,1915.4 3495,1895.3 C3529.1,1875.2 3543.4,1867.1 3577.5,1847.7 C3611.6,1828.3 3625.9,1821.1 3660,1801.4 C3694.1,1781.7 3708.4,1773.2 3742.5,1752.5 C3776.6,1731.9 3807.9,1712.1 3825,1701.6" fill="none" stroke="#111" stroke-width="2.4" /><path d="M2547,1029.6 C2564.9,1042.1 2597.8,1064.4 2633.6,1090 C2669.4,1115.6 2684.3,1132 2720,1153.5 C2755.7,1175 2759.7,1170.9 2806.5,1193.8 C2853.3,1216.7 2879,1231.6 2946.5,1264.4 C3014,1297.2 3073,1324.6 3133,1352.5 C3193,1380.4 3193.9,1379.9 3236.8,1399.2 C3279.7,1418.5 3286.9,1421.2 3340.5,1445.8 C3394.1,1470.4 3431.7,1490.5 3496,1518.4 C3560.3,1546.3 3585.1,1556 3651.5,1580.6 C3717.9,1605.2 3783.1,1625.8 3817.4,1637.6" fill="none" stroke="#111" stroke-width="5.2" stroke-dasharray="21 16"/><path d="M2653,1169 C2651.7,1177.9 2648.2,1202.3 2645,1222.6 C2641.8,1242.9 2638.3,1270.8 2633.6,1291.7 C2628.9,1312.6 2625,1330.3 2616.4,1349.3 C2607.8,1368.3 2597,1388.8 2581.8,1406.9 C2566.6,1425 2536.6,1442.6 2524.2,1458.8 C2511.8,1475 2511.5,1487.7 2507,1504.8 C2502.5,1521.9 2499.1,1543.4 2497,1562.4 C2494.9,1581.4 2497.1,1601.9 2494,1620 C2490.9,1638.1 2483.5,1658.6 2478,1671.9 C2472.5,1685.2 2469.3,1691.9 2460.8,1700.7 C2452.3,1709.5 2434.4,1716.4 2426.3,1725 C2418.2,1733.6 2414.9,1738.1 2411.9,1752.5 C2408.9,1766.9 2410.8,1792.6 2408,1812 C2405.2,1831.4 2400.2,1850 2395,1870 C2389.8,1890 2387,1918.1 2376.3,1933 C2365.6,1947.9 2340.6,1951.4 2330,1960 C2319.4,1968.6 2315.5,1970.6 2312,1985 C2308.5,1999.4 2312.5,2029 2308.9,2047.2 C2305.3,2065.4 2297.8,2084.3 2290,2095 C2282.2,2105.7 2269.9,2107.5 2262,2112 C2254.1,2116.5 2244.5,2108.7 2242,2122 C2239.5,2135.3 2246.8,2167 2246.7,2192.3 C2246.6,2217.6 2247.5,2252.7 2241.5,2275.3 C2235.5,2297.9 2220.9,2312.7 2210.5,2329 C2200.1,2345.3 2189,2359 2178.8,2373.8 C2168.6,2388.6 2157,2403.1 2149,2418.5 C2141,2433.9 2135.9,2451 2130.3,2467 C2124.7,2483 2121,2501.3 2115.4,2515.5 C2109.8,2529.7 2103.2,2542.3 2096.7,2552.8 C2090.2,2563.3 2079.6,2574.6 2076.2,2578.9" fill="none" stroke="#111" stroke-width="4.2" stroke-dasharray="21 13"/><path d="M2944.5,1264 C2940.7,1270.8 2935,1289.8 2921.7,1305 C2908.4,1320.2 2883,1338.8 2864,1356 C2845,1373.2 2821.7,1391.8 2806.5,1409 C2791.3,1426.2 2780.5,1442.5 2771.9,1460 C2763.3,1477.5 2759.7,1495.2 2754.6,1515 C2749.5,1534.8 2748.4,1558.5 2741,1580 C2733.6,1601.5 2716.6,1622.7 2710,1645 C2703.4,1667.3 2702.2,1691 2701,1715 C2699.8,1739 2705.5,1767.7 2702.9,1790 C2700.3,1812.3 2692.1,1832.6 2685,1850 C2677.9,1867.4 2669.6,1880.9 2660,1895 C2650.4,1909.1 2632.8,1915 2627,1935 C2621.2,1955 2627.1,1989 2625.1,2016.1 C2623.1,2043.2 2621.6,2073.3 2614.7,2099 C2607.8,2124.7 2597.3,2145.9 2583.6,2171.6 C2569.9,2197.3 2550.6,2227.1 2531.8,2254.5 C2513,2281.9 2490.2,2308.4 2469.6,2337.5 C2449,2366.6 2426.3,2405.1 2407.4,2430.8 C2388.5,2456.5 2367.5,2476.7 2355.5,2493 C2343.5,2509.3 2338.2,2523.3 2334.8,2529.3" fill="none" stroke="#111" stroke-width="4.2" stroke-dasharray="21 13"/><path d="M3233.7,1388.8 C3231.6,1398.2 3232.8,1427.8 3221.3,1445.8 C3209.8,1463.8 3181.3,1482.3 3164.2,1497.7 C3147.1,1513.1 3126.2,1520.3 3117.6,1539.1 C3109,1557.9 3118.4,1591.1 3112.4,1611.7 C3106.4,1632.3 3093.3,1648.2 3081.3,1663.6 C3069.3,1679 3045.8,1684.4 3039.8,1705 C3033.8,1725.6 3051.9,1765.7 3045,1788 C3038.1,1810.3 3006,1819.2 2998.3,1839.8 C2990.6,1860.4 3006.9,1891.8 2998.3,1912.4 C2989.7,1933 2958.5,1947.1 2946.5,1964.2 C2934.5,1981.3 2927.5,1997.2 2925.8,2016.1 C2924.1,2035 2939.5,2057.7 2936.1,2078.3 C2932.7,2098.9 2916.1,2121.7 2905,2140.5 C2893.9,2159.3 2874.7,2183.7 2868.7,2192.3" fill="none" stroke="#111" stroke-width="4.2" stroke-dasharray="21 13"/><ellipse cx="2881" cy="1461.5" rx="44" ry="25" transform="rotate(-14 2881 1461.5)" fill="none" stroke="#111" stroke-width="3.0" stroke-dasharray="19 12"/><ellipse cx="2829" cy="1650" rx="38" ry="17" transform="rotate(-10 2829 1650)" fill="none" stroke="#111" stroke-width="3.0" stroke-dasharray="19 12"/><path d="M3252,1628 C3259.1,1621.3 3279.9,1617.2 3300,1612 C3320.1,1606.8 3342.9,1600 3360,1600 C3377.1,1600 3389.2,1604.6 3392,1612 C3394.8,1619.4 3382.4,1628.8 3375,1640 C3367.6,1651.2 3361.9,1660.8 3352,1672 C3342.1,1683.2 3334.5,1693.9 3322,1700 C3309.5,1706.1 3292.4,1710.6 3285,1705 C3277.6,1699.4 3286.3,1680.6 3282,1670 C3277.7,1659.4 3267.6,1655.8 3262,1648 C3256.4,1640.2 3244.9,1634.7 3252,1628Z" fill="none" stroke="#111" stroke-width="3" stroke-dasharray="19 12"/><ellipse cx="2557" cy="2072" rx="33" ry="46" transform="rotate(25 2557 2072)" fill="none" stroke="#111" stroke-width="3.0" stroke-dasharray="19 12"/><path d="M2310,2200 C2318.4,2193.1 2332.4,2187.1 2345,2188 C2357.6,2188.9 2373,2195.3 2378,2205 C2383,2214.7 2378.1,2229.4 2372,2240 C2365.9,2250.6 2356.2,2260.1 2345,2262 C2333.8,2263.9 2320.4,2256.9 2312,2250 C2303.6,2243.1 2300.4,2234.3 2300,2225 C2299.6,2215.7 2301.6,2206.9 2310,2200Z" fill="none" stroke="#111" stroke-width="3" stroke-dasharray="17 11"/><path d="M2262,2275 C2269.8,2267 2285.5,2261.1 2300,2262 C2314.5,2262.9 2330.7,2270.7 2340,2280 C2349.3,2289.3 2353.7,2301.8 2350,2312 C2346.3,2322.2 2333,2332 2320,2335 C2307,2338 2291.5,2333.6 2280,2328 C2268.5,2322.4 2261.3,2314.9 2258,2305 C2254.7,2295.1 2254.2,2283 2262,2275Z" fill="none" stroke="#111" stroke-width="3" stroke-dasharray="17 11"/><path d="M2172,2428 C2176.8,2420.6 2187.4,2415.8 2200,2418 C2212.6,2420.2 2226.6,2428.8 2240,2440 C2253.4,2451.2 2265.3,2465.4 2272,2478 C2278.7,2490.6 2282,2502 2276,2508 C2270,2514 2254.9,2514.1 2240,2510 C2225.1,2505.9 2208.3,2495.7 2196,2486 C2183.7,2476.3 2178.5,2468.8 2174,2458 C2169.5,2447.2 2167.2,2435.4 2172,2428Z" fill="none" stroke="#111" stroke-width="3" stroke-dasharray="17 11"/><path d="M1589.7,1837.6 C1580,1841.4 1560,1848.9 1549.3,1860.7 C1538.6,1872.5 1533.6,1887.1 1532,1901 C1530.4,1914.9 1535.3,1925.3 1540.7,1935.5 C1546.1,1945.7 1555,1953.6 1560.9,1955.7 C1566.8,1957.8 1569.2,1954 1572.4,1947 C1575.6,1940 1577.7,1927.9 1578.2,1918.3 C1578.7,1908.7 1573.7,1905.9 1575.3,1895.2 C1576.9,1884.5 1582,1870.9 1586.8,1860.7 C1591.6,1850.5 1600.7,1844.8 1601.2,1840.5 C1601.7,1836.2 1599.4,1833.8 1589.7,1837.6Z" fill="#d4a5b8" /><path d="M1655.9,2053.6 C1647.9,2058.4 1627.6,2066.3 1618.5,2082.4 C1609.4,2098.5 1608.1,2118.6 1607,2140 C1605.9,2161.4 1606.8,2178.9 1612.7,2197.7 C1618.6,2216.5 1624.7,2228.6 1638.6,2240.9 C1652.5,2253.2 1680.1,2262.8 1687.6,2263.9 C1695.1,2265 1686.5,2257.3 1679,2246.6 C1671.5,2235.9 1655.3,2223.4 1647.3,2206.3 C1639.3,2189.2 1637.4,2172.1 1635.8,2154.4 C1634.2,2136.7 1633.8,2124.6 1638.6,2111.2 C1643.4,2097.8 1657.4,2092.6 1661.7,2082.4 C1666,2072.2 1662.8,2061.9 1661.7,2056.5 C1660.6,2051.1 1663.9,2048.8 1655.9,2053.6Z" fill="#d4a5b8" /><ellipse cx="1494.6" cy="1842" rx="74" ry="25" transform="rotate(-26 1494.6 1842)" fill="#fdc988" stroke="#111" stroke-width="4" stroke-dasharray="19 10"/><path d="M1431.2,1952.8 C1444.1,1951.8 1455.8,1955.8 1460.1,1964.3 C1464.3,1972.9 1459.7,1985 1454.3,1998.9 C1448.9,2012.8 1440.9,2024.2 1431.2,2039.2 C1421.6,2054.2 1414.2,2068.3 1402.4,2079.6 C1390.7,2090.8 1378.1,2097.6 1367.9,2099.7 C1357.7,2101.9 1350.4,2099.7 1347.7,2091.1 C1345,2082.5 1349.7,2068.6 1353.5,2053.6 C1357.2,2038.6 1360.9,2026 1367.9,2010.4 C1374.8,1994.9 1379.1,1980.8 1390.9,1970.1 C1402.7,1959.4 1418.4,1953.9 1431.2,1952.8Z" fill="#fdc988" stroke="#111" stroke-width="4" stroke-dasharray="19 10"/><path d="M1624.3,1924 C1616.8,1924 1601.5,1929.5 1589.7,1941.3 C1577.9,1953.1 1568.9,1969.2 1560.9,1987.4 C1552.9,2005.6 1548.1,2018.9 1546.5,2039.2 C1544.9,2059.5 1546.8,2078.1 1552.2,2096.8 C1557.6,2115.5 1567.3,2129 1575.3,2140 C1583.3,2151 1590.2,2154.1 1595.4,2156 C1600.6,2157.9 1601.9,2161 1603,2150 C1604.1,2139 1602.1,2117.4 1601.2,2096.8 C1600.3,2076.2 1596.7,2060.6 1598.3,2039.2 C1599.9,2017.8 1603.9,1999.8 1609.8,1981.6 C1615.7,1963.4 1627.3,1952 1630,1941.3 C1632.7,1930.6 1631.8,1924 1624.3,1924Z" fill="#fdc988" stroke="#111" stroke-width="4" stroke-dasharray="19 10"/><path d="M1658.3,1761.4 C1651.4,1766.9 1645.5,1790.3 1634,1808 C1622.5,1825.7 1607.5,1839.8 1596.7,1856.5 C1585.9,1873.2 1578.3,1886.5 1576.2,1897.6 C1574.1,1908.7 1578.2,1914.8 1585.5,1916.2 C1592.8,1917.6 1603.6,1915.4 1615.4,1905 C1627.2,1894.6 1639.3,1878.3 1649,1860.3 C1658.7,1842.3 1663.5,1823.3 1667.6,1808 C1671.7,1792.7 1673,1786.9 1671.3,1778.2 C1669.6,1769.5 1665.2,1755.9 1658.3,1761.4Z" fill="#fdc988" stroke="#111" stroke-width="4" stroke-dasharray="19 10"/><path d="M1647.7,2105.1 C1642.3,2110.4 1636.2,2122.5 1636.2,2139.6 C1636.2,2156.8 1638.1,2175.8 1647.7,2197.2 C1657.3,2218.7 1671.9,2237.7 1688,2254.8 C1704.1,2272 1722.9,2286.2 1734.1,2289.4 C1745.4,2292.6 1749.6,2286 1748.5,2272.1 C1747.4,2258.2 1739.6,2238.1 1728.3,2214.5 C1717.1,2190.9 1699.8,2164.7 1688,2145.4 C1676.2,2126.1 1672.5,2118.3 1665,2110.8 C1657.5,2103.3 1653.1,2099.7 1647.7,2105.1Z" fill="#fdc988" stroke="#111" stroke-width="4" stroke-dasharray="19 10"/><path d="M1817.6,1825.7 C1813.1,1834.3 1805,1857.4 1803.2,1880.4 C1801.4,1903.5 1803.8,1935.4 1807.8,1949.5 C1811.9,1963.7 1820.8,1967.2 1825.1,1956.5 C1829.4,1945.7 1830.4,1914.6 1830.9,1891.9 C1831.3,1869.2 1829.9,1846.7 1827.4,1834.3 C1825,1822 1822.1,1817.1 1817.6,1825.7Z" fill="#fdc988" stroke="#111" stroke-width="4" stroke-dasharray="19 10"/><path d="M1781.3,1991 C1776.8,2000 1772.5,2020.5 1774.4,2041.7 C1776.4,2062.9 1784.7,2089 1791.7,2105.1 C1798.7,2121.1 1806.9,2131.3 1811.9,2128.1 C1816.8,2124.9 1818.5,2107.1 1818.2,2087.8 C1817.9,2068.5 1813.8,2042 1810.1,2024.4 C1806.5,2006.9 1804,1999.5 1798.6,1993.3 C1793.3,1987.1 1785.8,1982 1781.3,1991Z" fill="#fdc988" stroke="#111" stroke-width="4" stroke-dasharray="19 10"/><path d="M1150,1894.5 L2209.5,2067" stroke="#111" stroke-width="3.4"/><polygon points="1237.7,1983.6 1494.6,2025.4 1484.5,2101.7 1227.6,2058.8" fill="#fff" /><text transform="translate(1362,2048) rotate(9.3)" font-size="50" text-anchor="middle" y="16">&lt;30 km</text><g stroke="#111" stroke-width="3.6" fill="none"><path d="M1208.9,2075.2 L1478.8,2122.8"/><path d="M1229,2068.5 L1208.9,2075.2 L1225,2088.5"/><path d="M1462.5,2109.5 L1478.8,2122.8 L1458.5,2129.5"/></g><polygon points="905.5,1899 1052.4,1899 978.9,2099.1" fill="#b53034"/><polygon points="978.9,2099.1 1027.9,2161.7 930,2161.7" fill="#4169a4"/><polygon points="930,2161.7 1027.9,2161.7 979.1,2496.8" fill="#b53034"/><polygon points="1835.8,1683.2 1694.6,1802.2 1681.4,1786.5 1662.5,1841.7 1720.1,1832.4 1706.9,1816.7 1848,1697.8" fill="#f0932f" /><polygon points="1856.7,1322.1 1920.7,1404.8 1911.2,1412.2 1948.3,1429 1941.3,1388.9 1931.8,1396.2 1867.7,1313.5" fill="#b53034" /><path d="M877,1427 L1188.7,2009.6" stroke="#7b6d5f" stroke-width="4.2"/><path d="M1480.5,1214 L1490.3,1852" stroke="#7b6d5f" stroke-width="4.2"/><path d="M2170,949 L1889.5,1711.5" stroke="#7b6d5f" stroke-width="4.2"/><path d="M2895.7,1009.4 L2010.5,1900.2" stroke="#7b6d5f" stroke-width="4.2"/><path d="M3522,1081 L2126.2,2004.2" stroke="#7b6d5f" stroke-width="4.2"/><circle cx="1188.7" cy="2009.6" r="20" fill="#262321" stroke="#111" stroke-width="3"/><circle cx="1490.3" cy="1852" r="20" fill="#262321" stroke="#111" stroke-width="3"/><circle cx="1889.5" cy="1711.5" r="20" fill="#262321" stroke="#111" stroke-width="3"/><circle cx="2010.5" cy="1900.2" r="20" fill="#262321" stroke="#111" stroke-width="3"/><circle cx="2126.2" cy="2004.2" r="20" fill="#262321" stroke="#111" stroke-width="3"/><text transform="translate(1180,1591.5) rotate(-28)" font-size="59.5" text-anchor="middle" y="21">滨海平原</text><text transform="translate(2036.4,1443.7) rotate(-18)" font-size="48" text-anchor="middle" y="17">河流</text><text transform="translate(1708.9,1718.7) rotate(-42)" font-size="48" text-anchor="middle" y="17">波浪</text><text x="585" y="1767" font-size="58" text-anchor="start" >(a)</text><text x="1497.5" y="1300.5" font-size="58" text-anchor="start" >(b)</text><text x="2579" y="983.5" font-size="58" text-anchor="start" >(c)</text>
<clipPath id="clog"><path d="M208.8,2599.8 L208.8,172.5 L419.1,172.5 L433.5,201.9 L446.5,233.5 C448.6,235.3 451.7,237.4 456.5,242.2 C461.3,247 465.9,250 469.5,256.6 C473.1,263.2 473.5,266.2 473.8,273.9 C474.1,281.6 472.3,283.9 471,294 C469.7,304.1 468.4,310.9 467.5,322.8 C466.6,334.7 466.8,339.7 466.6,351.6 C466.4,363.5 466.9,368.6 466.6,380.5 C466.3,392.4 466.4,397.4 465.2,409.3 C464,421.2 463,427.3 460.9,438 C458.8,448.7 457.8,452.2 455.1,461.1 C452.4,470 452.4,473 447.9,481.3 C443.4,489.6 438.3,494.3 433.5,501.4 C428.7,508.5 428.5,508 424.9,515.8 C421.3,523.5 419.8,528.2 416.2,538.9 C412.6,549.6 410.6,557 407.6,567.7 C404.6,578.4 404.5,578.7 401.8,590.7 C399.1,602.7 397.9,612.1 394.6,625.9 C391.3,639.7 389.9,645.7 386,657.6 C382.1,669.5 380.4,673.4 375.9,683.5 C371.4,693.6 367.4,697.1 364.4,706.6 C361.4,716.1 362.7,719.5 361.5,729.6 C360.3,739.7 361,746.1 358.6,755.6 C356.2,765.1 354.8,768.3 350,775.7 C345.2,783.1 341.6,784.4 335.6,791.6 C329.6,798.8 326,802.3 321.2,810.3 C316.4,818.3 315.5,820.4 312.5,830.5 C309.5,840.6 308,849.2 306.8,859.3 C305.6,869.4 305.3,870.5 306.8,879.4 C308.3,888.3 310.7,893 314,902.5 C317.3,912 319.6,914.8 322.6,925.5 C325.6,936.2 326.9,943.6 328.4,954.3 C329.9,965 327.7,969.1 329.8,977.4 C331.9,985.7 333.6,987.5 338.4,994.7 C343.2,1001.9 347.4,1004.3 352.8,1012 C358.2,1019.7 360.2,1023.2 364.4,1032.1 C368.6,1041 369.4,1043.8 373,1055.2 C376.6,1066.6 377.4,1073 381.6,1087.4 C385.8,1101.8 387.8,1110 393.2,1124.9 C398.6,1139.8 402.8,1146.4 407.6,1159.5 C412.4,1172.6 414.1,1177.6 416.2,1188.3 C418.3,1199 418.6,1200 417.7,1211.3 C416.8,1222.6 415.8,1229.9 411.9,1243 C408,1256.1 405.2,1261.6 398.9,1274.7 C392.6,1287.8 388.2,1294.5 381.6,1306.4 C375,1318.3 371.5,1322.8 367.2,1332.3 C362.9,1341.8 362.1,1345.1 360.9,1352.5 C359.7,1359.9 361.4,1365 361.5,1368.3 L386.8,1375 C387,1379.3 388.2,1385.5 388,1395.7 C387.8,1405.9 387.3,1411.4 386,1424.5 C384.7,1437.6 383.1,1445.3 381.6,1459 C380.1,1472.7 379.9,1476.4 378.8,1490.8 C377.7,1505.2 378.3,1513.2 376.5,1528.8 C374.7,1544.4 374.4,1552 370.1,1566.3 C365.8,1580.6 360.8,1586 355.7,1597.9 C350.6,1609.8 348,1613.2 345.6,1623.9 C343.2,1634.6 342.7,1641.2 344.2,1649.8 C345.7,1658.4 347.1,1659.6 352.8,1665.6 C358.5,1671.6 365.9,1671.7 371.6,1678.6 C377.3,1685.5 378.1,1689.3 380.2,1698.8 C382.3,1708.3 381.9,1713.4 381.6,1724.7 C381.3,1736 381.5,1740.4 378.8,1753.5 C376.1,1766.6 372,1773.8 368.7,1788.1 C365.4,1802.4 364.1,1808.3 362.9,1822.6 C361.7,1836.9 361.1,1845.9 362.9,1857.2 C364.7,1868.5 369,1870.2 371.6,1877.4 C374.2,1884.6 374.5,1888.8 375.3,1891.8 L355.7,1906.2 C355.4,1911.6 354,1922 354.3,1932.1 C354.6,1942.2 354.9,1944.2 357,1955 C359.1,1965.8 361.7,1971.9 364.4,1984.6 C367.1,1997.3 368.9,2003.2 370.1,2016.3 C371.3,2029.4 371,2037.2 370.1,2047.9 C369.2,2058.6 370.6,2058.6 365.8,2068.1 C361,2077.6 353.3,2083.9 347.1,2094 C340.9,2104.1 337.7,2106.4 335.6,2117.1 C333.5,2127.8 335.7,2132.8 337,2145.9 C338.3,2159 341,2172.2 341.9,2180.5 C342.8,2188.8 341.4,2185 341.3,2186.2 L326.9,2206.4 C325.8,2209.4 323.2,2208.3 321.7,2220.8 C320.2,2233.3 320.1,2252.6 319.7,2266.9 C319.3,2281.2 319.7,2285.1 319.7,2289.9 L305.3,2307.2 C304.1,2313.8 302.5,2326.4 299.5,2338.9 C296.5,2351.4 293.4,2355.8 290.9,2367.7 C288.4,2379.6 287.8,2385.8 287.2,2396.5 C286.6,2407.2 287.8,2414.8 288,2419.6 L277.9,2434 C276.7,2437.3 274.6,2436.6 272.2,2450 C269.8,2463.4 267.9,2477 266.2,2499 C264.5,2521 263.5,2536.3 263.9,2556.6 C264.3,2576.9 267.1,2588.7 267.9,2597 L208.8,2599.8Z"/></clipPath><g clip-path="url(#clog)"><rect x="208.8" y="170" width="271.2" height="2432" fill="#8a8a8a" /><rect x="208.8" y="206.2" width="271.2" height="34.5" fill="#111" /><rect x="208.8" y="240.7" width="271.2" height="87.9" fill="#fdc988" /><path d="M208,363.8 C208.5,363.2 208.4,363.3 210.5,360.7 C212.6,358.2 212.6,354.4 218,351.5 C223.5,348.5 229,347.6 236.8,346.3 C244.6,345.1 246.6,345.3 255.6,345.3 C264.7,345.4 270.3,345.7 280.7,346.5 C291.1,347.4 295.4,348.3 305.8,349.4 C316.1,350.5 317.9,351.5 330.9,352 C343.8,352.5 352.9,352.2 368.5,352 C384,351.8 390.5,351.3 406.1,351 C421.6,350.6 430.2,350.8 443.7,350.4 C457.2,350.1 465.6,349.5 471.3,349.2 L471.3,482.6 C466.9,483.3 460.8,485.2 450,485.9 C439.1,486.6 432.9,486.2 418.6,485.9 C404.4,485.6 396.5,485.1 381,484.4 C365.5,483.6 356.3,482.7 343.4,482.3 C330.4,481.9 331.3,482 318.3,482.3 C305.4,482.6 296.2,483 280.7,483.8 C265.2,484.7 258.1,485.5 243.1,486.4 C228.1,487.3 215.2,487.8 208,488.1Z" fill="#fdc988"/><path d="M208.8,520.2 C215.2,521.4 227.4,523.4 240,526 C252.6,528.6 251.4,532.6 270,533 C288.6,533.4 309.3,531.5 330,528 C350.7,524.5 351.4,518.9 370,516 C388.6,513.1 397.3,513.2 420,514 C442.7,514.8 467.6,518.8 480,520 L480,562 C442.8,562.5 356,564.5 300,564.5 C244,564.5 227.6,562.5 208.8,562Z" fill="#fdc988"/><path d="M208.8,598 C219.4,597.6 237,595.6 260,596 C283,596.4 274.5,599.8 320,600 C365.5,600.2 446.9,597.6 480,597 L480,622 C442.8,621.7 356,620.4 300,620.5 C244,620.6 227.6,622 208.8,622.4Z" fill="#fdc988"/><rect x="208.8" y="656.2" width="271.2" height="6.6" fill="#cbcbcb" /><rect x="208.8" y="696" width="271.2" height="6.6" fill="#cbcbcb" /><rect x="208.8" y="733.4" width="271.2" height="6.6" fill="#cbcbcb" /><rect x="208.8" y="827" width="271.2" height="5.8" fill="#cbcbcb" /><rect x="208.8" y="843.4" width="271.2" height="6.6" fill="#cbcbcb" /><rect x="208.8" y="925" width="271.2" height="10.6" fill="#cbcbcb" /><rect x="208.8" y="1004.2" width="271.2" height="10.6" fill="#cbcbcb" /><rect x="208.8" y="1309.3" width="271.2" height="18.7" fill="#cbcbcb" /><rect x="208.8" y="1802.5" width="271.2" height="17.3" fill="#cbcbcb" /><rect x="208.8" y="1938.4" width="271.2" height="18.2" fill="#cbcbcb" /><rect x="208.8" y="2031.2" width="271.2" height="17.3" fill="#cbcbcb" /><rect x="208.8" y="2133.8" width="271.2" height="12.7" fill="#cbcbcb" /><rect x="208.8" y="2220.2" width="271.2" height="12.1" fill="#cbcbcb" /><rect x="208.8" y="2291.4" width="271.2" height="12.9" fill="#cbcbcb" /><rect x="208.8" y="2371.2" width="271.2" height="12.3" fill="#cbcbcb" /><path d="M208.8,673 C219.4,672.6 237,670.9 260,671 C283,671.1 274.5,673.3 320,673.5 C365.5,673.7 446.9,672.3 480,672 L480,683.5 C449,683.3 373.4,682.2 330,682.5 C286.6,682.8 295,684.8 270,685 C245,685.2 221.4,683.8 208.8,683.5Z" fill="#fdc988"/><path d="M208.8,719 C219.4,718.6 237,716.9 260,717 C283,717.1 274.5,719.3 320,719.5 C365.5,719.7 446.9,718.3 480,718 L480,726.7 C449,726.5 373.4,725.4 330,725.7 C286.6,726 295,728 270,728.2 C245,728.4 221.4,727 208.8,726.7Z" fill="#fdc988"/><path d="M208.8,749.4 C219.4,749 237,747.3 260,747.4 C283,747.5 274.5,749.7 320,749.9 C365.5,750.1 446.9,748.7 480,748.4 L480,761.9 C449,761.7 373.4,760.6 330,760.9 C286.6,761.2 295,763.2 270,763.4 C245,763.6 221.4,762.2 208.8,761.9Z" fill="#fdc988"/><path d="M208.8,802.6 C219.4,802.2 237,800.5 260,800.6 C283,800.7 274.5,802.9 320,803.1 C365.5,803.3 446.9,801.9 480,801.6 L480,811.7 C449,811.5 373.4,810.4 330,810.7 C286.6,811 295,813 270,813.2 C245,813.4 221.4,812 208.8,811.7Z" fill="#fdc988"/><path d="M208.8,893.4 C219.4,893 237,891.3 260,891.4 C283,891.5 274.5,893.7 320,893.9 C365.5,894.1 446.9,892.7 480,892.4 L480,909.7 C449,909.5 373.4,908.4 330,908.7 C286.6,909 295,911 270,911.2 C245,911.4 221.4,910 208.8,909.7Z" fill="#fdc988"/><path d="M208.8,953.9 C219.4,953.5 237,951.8 260,951.9 C283,952 274.5,954.2 320,954.4 C365.5,954.6 446.9,953.2 480,952.9 L480,974.5 C449,974.3 373.4,973.2 330,973.5 C286.6,973.8 295,975.8 270,976 C245,976.2 221.4,974.8 208.8,974.5Z" fill="#fdc988"/><path d="M208.8,1029.2 C227.6,1029.4 244,1030 300,1030 C356,1030 442.8,1029.2 480,1029 L390,1034 C385.3,1034.8 380.8,1035 367.2,1037.9 C353.6,1040.8 340.7,1043.8 324,1048 C307.3,1052.2 302.1,1056.8 286.6,1058 C271.1,1059.2 265.2,1054.9 249.1,1053.7 C233,1052.5 217.1,1052.6 208.8,1052.3Z" fill="#fdc988"/><path d="M208.8,1052.3 C217.1,1052.6 233,1052.5 249.1,1053.7 C265.2,1054.9 271.1,1059.2 286.6,1058 C302.1,1056.8 307.3,1052.2 324,1048 C340.7,1043.8 353.6,1040.8 367.2,1037.9 C380.8,1035 385.3,1034.8 390,1034" fill="none" stroke="#b93233" stroke-width="6.5"/><path d="M208.8,1093.2 C217.3,1094.2 226.2,1095.6 250,1098 C273.8,1100.4 296.8,1104.2 324,1104.7 C351.2,1105.2 349.4,1103 381.6,1100.4 C413.8,1097.8 459.7,1093.7 480,1092 L430,1176 C425.4,1177 417.6,1178.2 407.6,1181 C397.6,1183.8 392.9,1188.2 381.6,1189.7 C370.3,1191.2 365.3,1190.7 352.8,1188.3 C340.3,1185.9 334.3,1177.6 321.2,1178.2 C308.1,1178.8 303.8,1189.8 289.5,1191.2 C275.2,1192.6 268.7,1186.3 252,1184.8 C235.3,1183.3 217.7,1184.2 208.8,1184Z" fill="#fdc988"/><path d="M208.8,1184 C217.7,1184.2 235.3,1183.3 252,1184.8 C268.7,1186.3 275.2,1192.6 289.5,1191.2 C303.8,1189.8 308.1,1178.8 321.2,1178.2 C334.3,1177.6 340.3,1185.9 352.8,1188.3 C365.3,1190.7 370.3,1191.2 381.6,1189.7 C392.9,1188.2 397.6,1183.8 407.6,1181 C417.6,1178.2 425.4,1177 430,1176" fill="none" stroke="#b93233" stroke-width="7"/><path d="M208.8,1227.2 L480,1227.2 Q480,1227.2 480,1227.2 L480,1255 C464.4,1256.4 425,1258.5 404.7,1261.7 C384.4,1264.9 392.3,1269.2 381.6,1270.4 C370.9,1271.6 365.3,1270.2 352.8,1267.5 C340.3,1264.8 334.3,1261 321.2,1257.4 C308.1,1253.8 303.8,1250.2 289.5,1250.2 C275.2,1250.2 268.7,1255.6 252,1257.4 C235.3,1259.2 217.7,1258.6 208.8,1258.9Z" fill="url(#gband)"/><path d="M208.8,1258.9 C217.7,1258.6 235.3,1259.2 252,1257.4 C268.7,1255.6 275.2,1250.2 289.5,1250.2 C303.8,1250.2 308.1,1253.8 321.2,1257.4 C334.3,1261 340.3,1264.8 352.8,1267.5 C365.3,1270.2 370.9,1271.6 381.6,1270.4 C392.3,1269.2 394.7,1264.9 404.7,1261.7 C414.7,1258.5 424.8,1256.4 430,1255" fill="none" stroke="#b93233" stroke-width="7"/><rect x="208.8" y="777.7" width="300" height="11" fill="url(#gband)"/><rect x="208.8" y="1359.7" width="300" height="28.8" fill="url(#gband)"/><rect x="208.8" y="1498" width="300" height="29.4" fill="url(#gband)"/><rect x="208.8" y="1647.5" width="300" height="24.8" fill="url(#gband)"/><rect x="208.8" y="1721.2" width="300" height="26" fill="url(#gband)"/><path d="M203.8,1460.6 C207,1458.9 214.7,1456.6 221,1451.6 C227.3,1446.6 232.6,1438.1 237.8,1433.6 C243,1429.1 244.7,1427.3 249.1,1427.4 C253.5,1427.5 255.8,1430.6 261.5,1434.3 C267.3,1438.1 273,1444.3 279.9,1447.5 C286.8,1450.7 291.8,1451.6 298.8,1451.6 C305.8,1451.6 310.8,1450.8 317.7,1447.5 C324.6,1444.1 330.3,1437.4 336.1,1433.6 C341.8,1429.9 344,1427.3 348.5,1427.4 C353,1427.5 354.8,1429.8 360.1,1434.3 C365.5,1438.8 370.8,1446.7 377.3,1451.6 C383.8,1456.5 391.7,1458.9 395,1460.6 L395,1462 L203.8,1462 Z" fill="#fdc988"/><path d="M216.5,1455.8 Q233.7,1450.6 243.7,1437.1" stroke="#666" stroke-width="1.7" fill="none"/><path d="M226.4,1458.5 Q236.4,1457.5 239.1,1448.2" stroke="#666" stroke-width="1.7" fill="none"/><path d="M250.1,1440.5 L264,1458.5" stroke="#666" stroke-width="1.7" fill="none"/><path d="M259,1439.2 L274.9,1454.4" stroke="#666" stroke-width="1.7" fill="none"/><path d="M312.7,1455.8 Q331.6,1450.6 342.5,1437.1" stroke="#666" stroke-width="1.7" fill="none"/><path d="M323.6,1458.5 Q334.6,1457.5 337.6,1448.2" stroke="#666" stroke-width="1.7" fill="none"/><path d="M349.4,1440.5 L362.4,1458.5" stroke="#666" stroke-width="1.7" fill="none"/><path d="M357.8,1439.2 L372.7,1454.4" stroke="#666" stroke-width="1.7" fill="none"/><path d="M203.8,1622.9 C207.2,1621.6 215.4,1619.9 222.1,1616.1 C228.8,1612.4 234.4,1606 239.9,1602.7 C245.5,1599.3 247.6,1597.9 252,1598 C256.4,1598.1 258.3,1600.4 263.8,1603.2 C269.2,1606 274.6,1610.6 281.1,1613 C287.7,1615.4 292.4,1616.1 299,1616.1 C305.6,1616.1 310.3,1615.5 316.9,1613 C323.4,1610.5 328.8,1605.5 334.2,1602.7 C339.7,1599.9 342,1597.9 346,1598 C350,1598.1 351.3,1599.8 355.8,1603.2 C360.2,1606.6 364.7,1612.5 370.2,1616.1 C375.6,1619.8 382.2,1621.6 385,1622.9 L385,1623.9 L203.8,1623.9 Z" fill="#fdc988"/><path d="M217.3,1619.2 Q235.6,1615.4 246.2,1605.3" stroke="#666" stroke-width="1.6" fill="none"/><path d="M227.9,1621.3 Q238.5,1620.5 241.4,1613.5" stroke="#666" stroke-width="1.6" fill="none"/><path d="M252.9,1607.8 L266.1,1621.3" stroke="#666" stroke-width="1.6" fill="none"/><path d="M261.4,1606.8 L276.4,1618.2" stroke="#666" stroke-width="1.6" fill="none"/><path d="M312.2,1619.2 Q330,1615.4 340.4,1605.3" stroke="#666" stroke-width="1.6" fill="none"/><path d="M322.5,1621.3 Q332.8,1620.5 335.7,1613.5" stroke="#666" stroke-width="1.6" fill="none"/><path d="M346.8,1607.8 L357.7,1621.3" stroke="#666" stroke-width="1.6" fill="none"/><path d="M353.8,1606.8 L366.3,1618.2" stroke="#666" stroke-width="1.6" fill="none"/><path d="M216,1883.6 C219.2,1882.3 226.8,1880.6 233,1876.8 C239.2,1873 244.4,1866.7 249.5,1863.3 C254.7,1859.9 256.6,1858.5 260.7,1858.6 C264.8,1858.7 266.6,1861 271.7,1863.8 C276.7,1866.6 281.8,1871.3 287.9,1873.7 C294,1876.1 298.4,1876.8 304.6,1876.8 C310.8,1876.8 315.2,1876.2 321.3,1873.7 C327.4,1871.2 332.5,1866.1 337.5,1863.3 C342.6,1860.5 345.2,1858.5 348.5,1858.6 C351.8,1858.7 352.1,1860.4 355.1,1863.8 C358.2,1867.2 361.2,1873.1 364.9,1876.8 C368.6,1880.5 373.1,1882.3 375,1883.6 L375,1884.6 L216,1884.6 Z" fill="#fdc988"/><path d="M228.5,1879.9 Q245.5,1876 255.3,1865.9" stroke="#666" stroke-width="1.6" fill="none"/><path d="M238.3,1882 Q248.2,1881.2 250.9,1874.2" stroke="#666" stroke-width="1.6" fill="none"/><path d="M261.6,1868.5 L273.9,1882" stroke="#666" stroke-width="1.6" fill="none"/><path d="M269.5,1867.4 L283.5,1878.9" stroke="#666" stroke-width="1.6" fill="none"/><path d="M316.9,1879.9 Q333.6,1876 343.2,1865.9" stroke="#666" stroke-width="1.6" fill="none"/><path d="M326.6,1882 Q336.2,1881.2 338.8,1874.2" stroke="#666" stroke-width="1.6" fill="none"/><path d="M349,1868.5 L356.4,1882" stroke="#666" stroke-width="1.6" fill="none"/><path d="M353.8,1867.4 L362.3,1878.9" stroke="#666" stroke-width="1.6" fill="none"/><path d="M218.7,251.1 C222.6,251.2 221.1,251.9 237.7,251.8 C254.3,251.7 267.2,250.9 299,250.6 C330.9,250.3 368,250.2 391.9,250.4 C415.8,250.5 402,251.3 414.6,251.4 C427.3,251.6 445.2,251.3 453.2,251.3" fill="none" stroke="#222" stroke-width="2" stroke-linecap="round" /><path d="M221.9,259.8 C227.3,259.4 234.9,258.3 247.9,258 C261,257.6 268.8,258.2 285.1,258.1 C301.4,258.1 300.1,257.9 326.9,257.8 C353.7,257.8 388.3,257.8 414.6,258 C440.9,258.1 446,258.5 454.1,258.6" fill="none" stroke="#222" stroke-width="2" stroke-linecap="round" /><path d="M288.3,259.6 C296.3,260.2 309.3,261 326.9,262.4 C344.4,263.7 355.2,264.7 373.3,266 C391.5,267.3 397.8,267.2 414.6,268.5 C431.5,269.9 446.7,271.7 455,272.5" fill="none" stroke="#222" stroke-width="2" stroke-linecap="round" /><path d="M243.8,263.8 C251.3,264.6 265.2,266.1 280.4,267.4 C295.7,268.8 302.2,269.2 317.6,270.3 C332.9,271.5 337.5,271.7 354.7,272.9 C372,274.1 388.8,275.3 401.2,276.2 C413.6,277 411.9,276.7 414.6,276.9" fill="none" stroke="#222" stroke-width="2" stroke-linecap="round" /><path d="M246.1,267.8 C249,269.2 251,272.1 260,274.7 C269,277.3 277.8,278.6 289.7,280.5 C301.6,282.5 306.1,282.7 317.6,284.2 C329.1,285.7 333.9,286.5 345.5,287.8 C357,289.1 359,289.7 373.3,290.3 C387.6,291 397.4,291 414.6,291.1 C431.9,291.2 448.2,290.9 456.9,290.9" fill="none" stroke="#222" stroke-width="2" stroke-linecap="round" /><path d="M315.7,272.9 C319,274.6 325.4,278.2 331.5,281.3 C337.7,284.3 342.6,286.4 345.5,287.8" fill="none" stroke="#222" stroke-width="2" stroke-linecap="round" /><path d="M352,274.7 C357.3,276.7 366.6,280.9 378,284.2 C389.3,287.4 400.8,289.1 406.7,290.3" fill="none" stroke="#222" stroke-width="2" stroke-linecap="round" /><path d="M395.1,278 C399.2,279.3 403.8,281.8 414.6,284.2 C425.5,286.5 440.8,288.2 447.6,289.3" fill="none" stroke="#222" stroke-width="2" stroke-linecap="round" /><path d="M215.9,288.5 C220.6,288 228.4,287.9 238.7,286 C248.9,284 260,280.5 265.6,279.1" fill="none" stroke="#222" stroke-width="2" stroke-linecap="round" /><path d="M238.2,298.3 C244,297.5 254.2,296.6 266.5,294.3 C278.8,292.1 291.2,288.9 297.6,287.4" fill="none" stroke="#222" stroke-width="2" stroke-linecap="round" /><path d="M269.3,298.3 C273.5,298.1 279.7,299 289.7,297.2 C299.8,295.5 312.2,291.5 318.1,290" fill="none" stroke="#222" stroke-width="2" stroke-linecap="round" /><path d="M310.6,296.9 C313.6,296.4 319.2,295.9 325,294.7 C330.9,293.5 336.1,291.8 339,291.1" fill="none" stroke="#222" stroke-width="2" stroke-linecap="round" /><path d="M220.1,300.2 C223.9,301 226.2,303.1 238.7,304.2 C251.1,305.2 264.1,305.8 280.4,305.2 C296.8,304.7 304.2,303.4 317.6,301.6 C331,299.8 335.5,298.4 345.5,296.5 C355.4,294.6 361.7,293.3 365.9,292.5" fill="none" stroke="#222" stroke-width="2" stroke-linecap="round" /><path d="M353.8,298.7 C356.9,300.1 361.8,302.9 368.7,305.2 C375.6,307.6 380,308.7 387.2,310 C394.4,311.2 400.1,311 403.5,311.3" fill="none" stroke="#222" stroke-width="2" stroke-linecap="round" /><path d="M380.3,296.5 C383.6,297.6 389.4,299.7 396.5,301.6 C403.6,303.5 402.2,303.8 414.6,305.6 C427.1,307.4 448.2,309.4 456.9,310.3" fill="none" stroke="#222" stroke-width="2" stroke-linecap="round" /><path d="M316.7,306 C321.7,306.9 331,308.8 340.8,310.3 C350.6,311.9 353.5,312.6 364,313.6 C374.6,314.7 381.4,314.9 391.9,315.4 C402.3,315.9 400.2,315.8 414.6,316 C429,316.2 451.8,316.4 461.5,316.5" fill="none" stroke="#222" stroke-width="2" stroke-linecap="round" /><path d="M234,316 C236.9,315.4 241.9,314.8 247.9,313.2 C254,311.7 260.1,309.5 263.3,308.5" fill="none" stroke="#222" stroke-width="2" stroke-linecap="round" /><path d="M252.6,319.4 C256.8,318.4 265.7,317 273,314.7 C280.3,312.4 284.8,309.8 287.9,308.5" fill="none" stroke="#222" stroke-width="2" stroke-linecap="round" /><path d="M290.7,319.8 C293.9,318.9 301.4,317.4 306.4,315.4 C311.5,313.5 313.4,311.4 315.3,310.3" fill="none" stroke="#222" stroke-width="2" stroke-linecap="round" /><path d="M216.4,319.1 C221.9,319.7 230.1,321.1 243.3,322 C256.5,322.9 265.1,323.4 280.4,323.4 C295.8,323.4 304.2,323.2 317.6,322 C331,320.8 335.7,319.3 345.5,317.6 C355.2,316 360.9,314.7 365,314" fill="none" stroke="#222" stroke-width="2" stroke-linecap="round" /><path d="M424.4,282 C428.2,282.6 435.3,284.1 443,284.9 C450.6,285.6 457.7,285.5 461.5,285.6" fill="none" stroke="#222" stroke-width="2" stroke-linecap="round" /><path d="M419.7,298 C423.6,298.4 429.7,299.9 438.3,300.2 C447,300.5 456.7,299.6 461.5,299.4" fill="none" stroke="#222" stroke-width="2" stroke-linecap="round" /><path d="M209.2,360.2 C211.6,361.3 214.8,363.4 220.5,365.3 C226.2,367.2 229.6,368.9 236.8,369.4 C244.1,370 246.6,369.4 255.6,368.1 C264.7,366.8 270.3,365.4 280.7,363.3 C291.1,361.1 295.4,359.8 305.8,357.6 C316.1,355.5 320.5,354.1 330.9,353 C341.2,351.9 343,352 355.9,352.3 C368.9,352.6 378,353.1 393.5,354.6 C409.1,356 415.6,357.2 431.1,359.2 C446.7,361.2 461,363.2 468.8,364.3" fill="none" stroke="#222" stroke-width="2" stroke-linecap="round" /><path d="M213,372 C216.1,372.8 220.5,375.4 228,376.1 C235.6,376.8 239.8,376.6 249.4,375.6 C258.9,374.5 264.1,372.9 274.4,371 C284.8,369.1 289.1,368 299.5,366.4 C309.9,364.7 314.2,363.5 324.6,362.8 C334.9,362 338,362.1 349.7,362.8 C361.3,363.4 366.7,364.2 381,365.8 C395.2,367.4 400.6,368.1 418.6,370.5 C436.6,372.8 457.9,375.7 468.1,377.1" fill="none" stroke="#222" stroke-width="2" stroke-linecap="round" /><path d="M211.7,379.7 C215.6,380.5 222.8,383.3 230.6,383.8 C238.3,384.3 240.3,383.5 249.4,382.3 C258.4,381 264.1,379.2 274.4,377.6 C284.8,376 289.1,375.4 299.5,374.6 C309.9,373.7 314.2,373.6 324.6,373.5 C334.9,373.4 338,373.3 349.7,374 C361.3,374.8 366.7,375.6 381,377.1 C395.2,378.6 403.1,379.6 418.6,381.2 C434.2,382.8 446,384.2 456.2,384.8 C466.5,385.5 465.7,384.4 468.1,384.3" fill="none" stroke="#222" stroke-width="2" stroke-linecap="round" /><path d="M212.4,385.8 C214.8,386.6 217.9,388.9 224.3,389.4 C230.6,390 234,389.3 243.1,388.4 C252.2,387.6 257.8,386.3 268.2,385.3 C278.5,384.4 284.2,384.1 293.2,383.8 C302.3,383.5 303,383.6 312,384.1 C321.1,384.6 325.5,385.3 337.1,386.4 C348.8,387.5 354.2,388.2 368.5,389.4 C382.7,390.7 391.8,391.6 406.1,392.5 C420.3,393.5 424.6,394.5 437.4,394.1 C450.2,393.6 461.8,391.2 468.1,390.5" fill="none" stroke="#222" stroke-width="2" stroke-linecap="round" /><path d="M213,394.8 C216.6,394.8 221.7,395.3 230.6,395.1 C239.4,394.8 246.6,394 255.6,393.5 C264.7,393.1 265.4,392.8 274.4,393 C283.5,393.2 289.1,393.6 299.5,394.6 C309.9,395.5 314.2,396.2 324.6,397.6 C334.9,399.1 339.3,400.3 349.7,401.8 C360,403.2 364.4,404 374.7,404.6 C385.1,405.2 389.4,405.2 399.8,404.6 C410.2,404 414.5,403.2 424.9,401.8 C435.2,400.3 441,399.3 450,397.6 C458.9,396 464.4,394.4 468.1,393.5" fill="none" stroke="#222" stroke-width="2" stroke-linecap="round" /><path d="M213,401.8 C216.6,401.8 221.7,401.5 230.6,401.8 C239.4,402 245.3,402.2 255.6,402.8 C266,403.3 270.3,403.6 280.7,404.3 C291.1,405.1 296.2,405.4 305.8,406.4 C315.4,407.3 319.3,407.8 327.1,408.9 C334.9,410.1 336.1,410.7 343.4,412 C350.6,413.3 353.1,414.2 362.2,415.1 C371.3,415.9 376.9,416.2 387.3,416.1 C397.6,416.1 402,415.9 412.3,414.9 C422.7,413.8 428.3,412.9 437.4,411 C446.5,409.1 449.9,408.4 456.2,405.9 C462.6,403.3 465.7,400.2 468.1,398.7" fill="none" stroke="#222" stroke-width="2" stroke-linecap="round" /><path d="M213,412 C216.6,412.6 221.7,413.8 230.6,415.1 C239.4,416.4 245.3,417.6 255.6,418.2 C266,418.7 270.3,418.4 280.7,417.7 C291.1,416.9 296.2,416.2 305.8,414.6 C315.4,413 322.7,410.9 327.1,410" fill="none" stroke="#222" stroke-width="2" stroke-linecap="round" /><path d="M213.6,421.8 C219.7,422.5 229.2,424.5 243.1,425.4 C257,426.2 266.5,426.2 280.7,425.9 C295,425.5 300.4,425.1 312,423.8 C323.7,422.5 328.8,421.4 337.1,419.7 C345.4,418 349.1,416.5 352.2,415.6" fill="none" stroke="#222" stroke-width="2" stroke-linecap="round" /><path d="M214.9,431.5 C220.7,432 229.5,433.4 243.1,434.1 C256.7,434.7 266.5,435 280.7,434.6 C295,434.2 299.1,433.5 312,432 C325,430.5 331.7,429.3 343.4,427.4 C355,425.5 359.3,424.7 368.5,422.8 C377.7,420.9 383.9,419.3 387.9,418.4" fill="none" stroke="#222" stroke-width="2" stroke-linecap="round" /><path d="M213.6,442.3 C218.4,442.6 226.8,443.3 236.8,443.8 C246.8,444.4 250.2,445 261.9,444.8 C273.6,444.7 280.3,444.5 293.2,443.3 C306.2,442.1 311.6,441 324.6,439.2 C337.5,437.4 343,436.8 355.9,434.6 C368.9,432.4 373,431.5 387.3,428.4 C401.5,425.4 408.2,423.3 424.9,419.7 C441.6,416.1 459.2,412.8 468.1,411" fill="none" stroke="#222" stroke-width="2" stroke-linecap="round" /><path d="M424.3,420.2 C427,420.6 430.8,421.8 437.4,422.3 C444,422.7 450.1,422.5 456.2,422.3 C462.3,422.1 464.7,421.5 466.9,421.2" fill="none" stroke="#222" stroke-width="2" stroke-linecap="round" /><path d="M389.8,428.4 C393.1,429.1 397.5,430.7 406.1,431.5 C414.6,432.4 420.8,432.5 431.1,432.5 C441.5,432.5 448.6,432 456.2,431.5 C463.9,431 465.7,430.3 468.1,430" fill="none" stroke="#222" stroke-width="2" stroke-linecap="round" /><path d="M358.4,435.6 C363.1,436.8 371.2,439.5 381,441.3 C390.8,443.1 395.7,443.8 406.1,444.3 C416.4,444.9 420.8,444.7 431.1,443.8 C441.5,443 448.6,441.8 456.2,440.2 C463.9,438.6 465.7,437 468.1,436.1" fill="none" stroke="#222" stroke-width="2" stroke-linecap="round" /><path d="M329,440.7 C331.9,442 335.2,444.6 343.4,446.9 C351.5,449.2 358.1,450.5 368.5,452 C378.8,453.5 383.2,453.8 393.5,454.1 C403.9,454.4 408.2,454.3 418.6,453.6 C429,452.8 433.4,451.9 443.7,450.5 C453.9,449.1 463.1,447.6 468.1,446.9" fill="none" stroke="#222" stroke-width="2" stroke-linecap="round" /><path d="M226.2,446.4 C229.7,446.9 235.7,447.4 243.1,449 C250.5,450.5 254.1,452.2 261.9,454.1 C269.7,456 272.9,457.1 280.7,458.2 C288.5,459.2 291.7,459.4 299.5,459.2 C307.3,459 310.5,458 318.3,457.2 C326.1,456.3 329.3,455.1 337.1,455.1 C344.9,455.1 346.9,455.7 355.9,457.2 C365,458.6 370.6,460.5 381,462.3 C391.4,464.1 395.7,465.7 406.1,465.9 C416.4,466.1 418.8,465 431.1,463.3 C443.5,461.6 458.5,458.8 465.6,457.7" fill="none" stroke="#222" stroke-width="2" stroke-linecap="round" /><path d="M211.1,463.8 C213.1,464.4 215.2,466 220.5,466.4 C225.8,466.8 229.6,465 236.8,465.9 C244.1,466.7 247.9,468.5 255.6,470.5 C263.4,472.5 267.2,474.3 274.4,475.6 C281.7,477 283.7,477.6 290.7,477.2 C297.7,476.7 300.5,475.3 308.3,473.6 C316.1,471.9 320.6,469.9 328.3,469 C336.1,468 337.6,468 345.9,469 C354.2,469.9 359.9,471.7 368.5,473.6 C377,475.5 379.5,476.9 387.3,478.2 C395,479.5 397,479.7 406.1,479.7 C415.1,479.7 418.3,479.4 431.1,478.2 C444,477 460.5,474.9 468.1,474.1" fill="none" stroke="#222" stroke-width="2" stroke-linecap="round" /><path d="M222,534 C229.9,535.4 239.7,539.8 260,541 C280.3,542.2 297.3,542.7 320,540 C342.7,537.3 349.3,530.9 370,528 C390.7,525.1 409.7,526.4 420,526" fill="none" stroke="#222" stroke-width="2" stroke-linecap="round" /><path d="M285,555 C296.4,554 320.4,552.5 340,550 C359.6,547.5 365.5,543.8 380,543 C394.5,542.2 403.8,545.4 410,546" fill="none" stroke="#222" stroke-width="2" stroke-linecap="round" /><path d="M330,556 C338.3,555.2 355.5,552 370,552 C384.5,552 393.8,555.2 400,556" fill="none" stroke="#222" stroke-width="2" stroke-linecap="round" /><path d="M228,612 C234.6,611 247.2,607.4 260,607 C272.8,606.6 283.8,609.4 290,610" fill="none" stroke="#222" stroke-width="2" stroke-linecap="round" /><path d="M320,604 C326.2,604.8 334.5,608 350,608 C365.5,608 385.7,604.8 395,604" fill="none" stroke="#222" stroke-width="2" stroke-linecap="round" /><path d="M330,609 C336.2,609.4 346.6,611.2 360,611 C373.4,610.8 387.8,608.6 395,608" fill="none" stroke="#222" stroke-width="2" stroke-linecap="round" /><path d="M222,679.8 C229.9,678.9 243.9,676 260,675.8 C276.1,675.5 283.5,678.5 300,678.8 C316.5,679 325.5,676.5 340,676.8 C354.5,677 363.8,679.1 370,679.8" fill="none" stroke="#777" stroke-width="1.4" stroke-linecap="round" /><path d="M250,681.8 C260.3,682 279.3,683 300,682.8 C320.7,682.5 339.7,681.2 350,680.8" fill="none" stroke="#777" stroke-width="1.4" stroke-linecap="round" /><path d="M222,724.4 C229.9,723.5 243.9,720.6 260,720.4 C276.1,720.1 283.5,723.1 300,723.4 C316.5,723.6 325.5,721.1 340,721.4 C354.5,721.6 363.8,723.7 370,724.4" fill="none" stroke="#777" stroke-width="1.4" stroke-linecap="round" /><path d="M250,726.4 C260.3,726.6 279.3,727.6 300,727.4 C320.7,727.1 339.7,725.8 350,725.4" fill="none" stroke="#777" stroke-width="1.4" stroke-linecap="round" /><path d="M222,757.1 C229.9,756.3 243.9,753.4 260,753.1 C276.1,752.9 283.5,755.9 300,756.1 C316.5,756.4 325.5,753.9 340,754.1 C354.5,754.4 363.8,756.5 370,757.1" fill="none" stroke="#777" stroke-width="1.4" stroke-linecap="round" /><path d="M250,759.1 C260.3,759.4 279.3,760.4 300,760.1 C320.7,759.9 339.7,758.6 350,758.1" fill="none" stroke="#777" stroke-width="1.4" stroke-linecap="round" /><path d="M222,808.7 C229.9,807.8 243.9,804.9 260,804.7 C276.1,804.4 283.5,807.4 300,807.7 C316.5,807.9 325.5,805.4 340,805.7 C354.5,805.9 363.8,808 370,808.7" fill="none" stroke="#777" stroke-width="1.4" stroke-linecap="round" /><path d="M250,810.7 C260.3,810.9 279.3,811.9 300,811.7 C320.7,811.4 339.7,810.1 350,809.7" fill="none" stroke="#777" stroke-width="1.4" stroke-linecap="round" /><path d="M222,903 C229.9,902.2 243.9,899.3 260,899 C276.1,898.8 283.5,901.8 300,902 C316.5,902.3 325.5,899.8 340,900 C354.5,900.3 363.8,902.4 370,903" fill="none" stroke="#777" stroke-width="1.4" stroke-linecap="round" /><path d="M250,905 C260.3,905.3 279.3,906.3 300,906 C320.7,905.8 339.7,904.5 350,904" fill="none" stroke="#777" stroke-width="1.4" stroke-linecap="round" /><path d="M222,965.7 C229.9,964.9 243.9,961.9 260,961.7 C276.1,961.5 283.5,964.5 300,964.7 C316.5,964.9 325.5,962.5 340,962.7 C354.5,962.9 363.8,965.1 370,965.7" fill="none" stroke="#777" stroke-width="1.4" stroke-linecap="round" /><path d="M250,967.7 C260.3,967.9 279.3,968.9 300,968.7 C320.7,968.5 339.7,967.1 350,966.7" fill="none" stroke="#777" stroke-width="1.4" stroke-linecap="round" /><path d="M222,1041.1 C229.9,1040.3 243.9,1037.3 260,1037.1 C276.1,1036.9 283.5,1039.9 300,1040.1 C316.5,1040.3 325.5,1037.9 340,1038.1 C354.5,1038.3 363.8,1040.5 370,1041.1" fill="none" stroke="#777" stroke-width="1.4" stroke-linecap="round" /><path d="M250,1043.1 C260.3,1043.3 279.3,1044.3 300,1044.1 C320.7,1043.9 339.7,1042.5 350,1042.1" fill="none" stroke="#777" stroke-width="1.4" stroke-linecap="round" /><path d="M212,1102 C221.9,1104.1 239.7,1108.3 260,1112 C280.3,1115.7 285.2,1119.2 310,1120 C334.8,1120.8 360.4,1118.1 380,1116 C399.6,1113.9 399.8,1111.2 405,1110" fill="none" stroke="#777" stroke-width="1.6" stroke-linecap="round" /><path d="M212,1112 C219.9,1113.7 229.7,1115.9 250,1120 C270.3,1124.1 297.6,1129.5 310,1132" fill="none" stroke="#777" stroke-width="1.6" stroke-linecap="round" /><path d="M232,1140 C244,1140.4 267.7,1141.6 290,1142 C312.3,1142.4 319.3,1144.3 340,1142 C360.7,1139.7 379.7,1133.3 390,1131" fill="none" stroke="#777" stroke-width="1.6" stroke-linecap="round" /><path d="M280,1150 C290.3,1150.8 308.3,1155.2 330,1154 C351.7,1152.8 373.6,1146.1 385,1144" fill="none" stroke="#777" stroke-width="1.6" stroke-linecap="round" /><path d="M214,1152 C225.6,1153.7 248.1,1157.1 270,1160 C291.9,1162.9 296.9,1165.6 320,1166 C343.1,1166.4 369.2,1162.8 382,1162" fill="none" stroke="#777" stroke-width="1.6" stroke-linecap="round" /><path d="M244,174 C248,183.3 246,187.9 242,193.2 M243,192.6 L220,205 M242,192.6 L262,204.4" fill="none" stroke="#111" stroke-width="4.5" stroke-linecap="butt"/><path d="M318.8,174 C322.8,183.3 320.8,187.9 316.8,193.2 M317.8,192.6 L294.8,205 M316.8,192.6 L336.8,204.4" fill="none" stroke="#111" stroke-width="4.5" stroke-linecap="butt"/><path d="M388,174 C392,183.3 390,187.9 386,193.2 M387,192.6 L364,205 M386,192.6 L406,204.4" fill="none" stroke="#111" stroke-width="4.5" stroke-linecap="butt"/><path transform="translate(354.3,550.4) scale(0.8)" d="M-18.8,7.5 L-10,1.2 Q-3,0.5 -4,8 L-8,46 Q-8.5,58.5 -1,58.5 Q8.5,58.5 8,47 L3.8,27 L6,7 Q7,1 11,1.5 L18.5,7.5" fill="none" stroke="#111" stroke-width="4.5" stroke-linejoin="round"/><path transform="translate(252.6,616.7) scale(0.8)" d="M-18.8,7.5 L-10,1.2 Q-3,0.5 -4,8 L-8,46 Q-8.5,58.5 -1,58.5 Q8.5,58.5 8,47 L3.8,27 L6,7 Q7,1 11,1.5 L18.5,7.5" fill="none" stroke="#111" stroke-width="4.5" stroke-linejoin="round"/><path transform="translate(303.3,740.6) scale(0.8)" d="M-18.8,7.5 L-10,1.2 Q-3,0.5 -4,8 L-8,46 Q-8.5,58.5 -1,58.5 Q8.5,58.5 8,47 L3.8,27 L6,7 Q7,1 11,1.5 L18.5,7.5" fill="none" stroke="#111" stroke-width="4.5" stroke-linejoin="round"/><path transform="translate(252.6,842) scale(0.8)" d="M-18.8,7.5 L-10,1.2 Q-3,0.5 -4,8 L-8,46 Q-8.5,58.5 -1,58.5 Q8.5,58.5 8,47 L3.8,27 L6,7 Q7,1 11,1.5 L18.5,7.5" fill="none" stroke="#111" stroke-width="4.5" stroke-linejoin="round"/><path transform="translate(252.6,1529.6) scale(0.8)" d="M-18.8,7.5 L-10,1.2 Q-3,0.5 -4,8 L-8,46 Q-8.5,58.5 -1,58.5 Q8.5,58.5 8,47 L3.8,27 L6,7 Q7,1 11,1.5 L18.5,7.5" fill="none" stroke="#111" stroke-width="4.5" stroke-linejoin="round"/><path transform="translate(329.8,1666.5) scale(0.8)" d="M-18.8,7.5 L-10,1.2 Q-3,0.5 -4,8 L-8,46 Q-8.5,58.5 -1,58.5 Q8.5,58.5 8,47 L3.8,27 L6,7 Q7,1 11,1.5 L18.5,7.5" fill="none" stroke="#111" stroke-width="4.5" stroke-linejoin="round"/><path transform="translate(260,1983) scale(0.8)" d="M-18.8,7.5 L-10,1.2 Q-3,0.5 -4,8 L-8,46 Q-8.5,58.5 -1,58.5 Q8.5,58.5 8,47 L3.8,27 L6,7 Q7,1 11,1.5 L18.5,7.5" fill="none" stroke="#111" stroke-width="4.5" stroke-linejoin="round"/><path transform="translate(320.6,2070.4) scale(0.8)" d="M-18.8,7.5 L-10,1.2 Q-3,0.5 -4,8 L-8,46 Q-8.5,58.5 -1,58.5 Q8.5,58.5 8,47 L3.8,27 L6,7 Q7,1 11,1.5 L18.5,7.5" fill="none" stroke="#111" stroke-width="4.5" stroke-linejoin="round"/><path transform="translate(243.4,2128) scale(0.8)" d="M-18.8,7.5 L-10,1.2 Q-3,0.5 -4,8 L-8,46 Q-8.5,58.5 -1,58.5 Q8.5,58.5 8,47 L3.8,27 L6,7 Q7,1 11,1.5 L18.5,7.5" fill="none" stroke="#111" stroke-width="4.5" stroke-linejoin="round"/><path transform="translate(277,2193.4) scale(0.8)" d="M-18.8,7.5 L-10,1.2 Q-3,0.5 -4,8 L-8,46 Q-8.5,58.5 -1,58.5 Q8.5,58.5 8,47 L3.8,27 L6,7 Q7,1 11,1.5 L18.5,7.5" fill="none" stroke="#111" stroke-width="4.5" stroke-linejoin="round"/><path transform="translate(252.6,2293.4) scale(0.8)" d="M-18.8,7.5 L-10,1.2 Q-3,0.5 -4,8 L-8,46 Q-8.5,58.5 -1,58.5 Q8.5,58.5 8,47 L3.8,27 L6,7 Q7,1 11,1.5 L18.5,7.5" fill="none" stroke="#111" stroke-width="4.5" stroke-linejoin="round"/><path transform="translate(260,2385.6) scale(0.8)" d="M-18.8,7.5 L-10,1.2 Q-3,0.5 -4,8 L-8,46 Q-8.5,58.5 -1,58.5 Q8.5,58.5 8,47 L3.8,27 L6,7 Q7,1 11,1.5 L18.5,7.5" fill="none" stroke="#111" stroke-width="4.5" stroke-linejoin="round"/><path transform="translate(236.2,2470) scale(0.8)" d="M-18.8,7.5 L-10,1.2 Q-3,0.5 -4,8 L-8,46 Q-8.5,58.5 -1,58.5 Q8.5,58.5 8,47 L3.8,27 L6,7 Q7,1 11,1.5 L18.5,7.5" fill="none" stroke="#111" stroke-width="4.5" stroke-linejoin="round"/></g><path d="M208.8,2599.8 L208.8,172.5 L419.1,172.5 L433.5,201.9 L446.5,233.5 C448.6,235.3 451.7,237.4 456.5,242.2 C461.3,247 465.9,250 469.5,256.6 C473.1,263.2 473.5,266.2 473.8,273.9 C474.1,281.6 472.3,283.9 471,294 C469.7,304.1 468.4,310.9 467.5,322.8 C466.6,334.7 466.8,339.7 466.6,351.6 C466.4,363.5 466.9,368.6 466.6,380.5 C466.3,392.4 466.4,397.4 465.2,409.3 C464,421.2 463,427.3 460.9,438 C458.8,448.7 457.8,452.2 455.1,461.1 C452.4,470 452.4,473 447.9,481.3 C443.4,489.6 438.3,494.3 433.5,501.4 C428.7,508.5 428.5,508 424.9,515.8 C421.3,523.5 419.8,528.2 416.2,538.9 C412.6,549.6 410.6,557 407.6,567.7 C404.6,578.4 404.5,578.7 401.8,590.7 C399.1,602.7 397.9,612.1 394.6,625.9 C391.3,639.7 389.9,645.7 386,657.6 C382.1,669.5 380.4,673.4 375.9,683.5 C371.4,693.6 367.4,697.1 364.4,706.6 C361.4,716.1 362.7,719.5 361.5,729.6 C360.3,739.7 361,746.1 358.6,755.6 C356.2,765.1 354.8,768.3 350,775.7 C345.2,783.1 341.6,784.4 335.6,791.6 C329.6,798.8 326,802.3 321.2,810.3 C316.4,818.3 315.5,820.4 312.5,830.5 C309.5,840.6 308,849.2 306.8,859.3 C305.6,869.4 305.3,870.5 306.8,879.4 C308.3,888.3 310.7,893 314,902.5 C317.3,912 319.6,914.8 322.6,925.5 C325.6,936.2 326.9,943.6 328.4,954.3 C329.9,965 327.7,969.1 329.8,977.4 C331.9,985.7 333.6,987.5 338.4,994.7 C343.2,1001.9 347.4,1004.3 352.8,1012 C358.2,1019.7 360.2,1023.2 364.4,1032.1 C368.6,1041 369.4,1043.8 373,1055.2 C376.6,1066.6 377.4,1073 381.6,1087.4 C385.8,1101.8 387.8,1110 393.2,1124.9 C398.6,1139.8 402.8,1146.4 407.6,1159.5 C412.4,1172.6 414.1,1177.6 416.2,1188.3 C418.3,1199 418.6,1200 417.7,1211.3 C416.8,1222.6 415.8,1229.9 411.9,1243 C408,1256.1 405.2,1261.6 398.9,1274.7 C392.6,1287.8 388.2,1294.5 381.6,1306.4 C375,1318.3 371.5,1322.8 367.2,1332.3 C362.9,1341.8 362.1,1345.1 360.9,1352.5 C359.7,1359.9 361.4,1365 361.5,1368.3 L386.8,1375 C387,1379.3 388.2,1385.5 388,1395.7 C387.8,1405.9 387.3,1411.4 386,1424.5 C384.7,1437.6 383.1,1445.3 381.6,1459 C380.1,1472.7 379.9,1476.4 378.8,1490.8 C377.7,1505.2 378.3,1513.2 376.5,1528.8 C374.7,1544.4 374.4,1552 370.1,1566.3 C365.8,1580.6 360.8,1586 355.7,1597.9 C350.6,1609.8 348,1613.2 345.6,1623.9 C343.2,1634.6 342.7,1641.2 344.2,1649.8 C345.7,1658.4 347.1,1659.6 352.8,1665.6 C358.5,1671.6 365.9,1671.7 371.6,1678.6 C377.3,1685.5 378.1,1689.3 380.2,1698.8 C382.3,1708.3 381.9,1713.4 381.6,1724.7 C381.3,1736 381.5,1740.4 378.8,1753.5 C376.1,1766.6 372,1773.8 368.7,1788.1 C365.4,1802.4 364.1,1808.3 362.9,1822.6 C361.7,1836.9 361.1,1845.9 362.9,1857.2 C364.7,1868.5 369,1870.2 371.6,1877.4 C374.2,1884.6 374.5,1888.8 375.3,1891.8 L355.7,1906.2 C355.4,1911.6 354,1922 354.3,1932.1 C354.6,1942.2 354.9,1944.2 357,1955 C359.1,1965.8 361.7,1971.9 364.4,1984.6 C367.1,1997.3 368.9,2003.2 370.1,2016.3 C371.3,2029.4 371,2037.2 370.1,2047.9 C369.2,2058.6 370.6,2058.6 365.8,2068.1 C361,2077.6 353.3,2083.9 347.1,2094 C340.9,2104.1 337.7,2106.4 335.6,2117.1 C333.5,2127.8 335.7,2132.8 337,2145.9 C338.3,2159 341,2172.2 341.9,2180.5 C342.8,2188.8 341.4,2185 341.3,2186.2 L326.9,2206.4 C325.8,2209.4 323.2,2208.3 321.7,2220.8 C320.2,2233.3 320.1,2252.6 319.7,2266.9 C319.3,2281.2 319.7,2285.1 319.7,2289.9 L305.3,2307.2 C304.1,2313.8 302.5,2326.4 299.5,2338.9 C296.5,2351.4 293.4,2355.8 290.9,2367.7 C288.4,2379.6 287.8,2385.8 287.2,2396.5 C286.6,2407.2 287.8,2414.8 288,2419.6 L277.9,2434 C276.7,2437.3 274.6,2436.6 272.2,2450 C269.8,2463.4 267.9,2477 266.2,2499 C264.5,2521 263.5,2536.3 263.9,2556.6 C264.3,2576.9 267.1,2588.7 267.9,2597 L208.8,2599.8" fill="none" stroke="#111" stroke-width="3.6" stroke-linejoin="round"/><path d="M208.8,171 V2601" stroke="#111" stroke-width="4.4"/><polygon points="0,171.7 84.7,171.7 41.5,829.6" fill="#b53034"/><polygon points="41.5,829.6 73.7,1133.3 11.5,1133.3" fill="#4169a4"/><polygon points="11.5,1133.3 73.7,1133.3 8.6,2600" fill="#b53034"/><g stroke="#111" fill="none"><path d="M157.3,180 V348.6 M157.3,658.5 V828 M157.3,851 V1291.8 M157.3,1804.7 V2587" stroke-width="5.2"/><path d="M146,180 H169.5 M146,828 H169.5 M146,851 H169.5 M146,2587 H169.5" stroke-width="3.6"/></g><text transform="translate(176,494) rotate(-90)" font-size="52" text-anchor="middle">5~30 m</text><text transform="translate(176,1540) rotate(-90)" font-size="52" text-anchor="middle">30~100 m</text><text x="324.5" y="80" font-size="50" text-anchor="middle" >粒度</text><path d="M206,107.7 H452" stroke="#111" stroke-width="3.4"/><path d="M469.5,107.7 L441,93 L448,107.7 L441,122.5Z" fill="#111"/><circle cx="489.7" cy="600.3" r="52.5" fill="#fff" stroke="#111" stroke-width="3.5"/><text x="489.7" y="619.3" font-size="56" text-anchor="middle">v</text><circle cx="489.7" cy="1122" r="52.5" fill="#fff" stroke="#111" stroke-width="3.5"/><text x="489.7" y="1141" font-size="56" text-anchor="middle">iv</text><circle cx="489.7" cy="1355.4" r="52.5" fill="#fff" stroke="#111" stroke-width="3.5"/><text x="489.7" y="1374.4" font-size="56" text-anchor="middle">iii</text><circle cx="489.7" cy="1711.7" r="52.5" fill="#fff" stroke="#111" stroke-width="3.5"/><text x="489.7" y="1730.7" font-size="56" text-anchor="middle">ii</text><circle cx="489.7" cy="2237.5" r="52.5" fill="#fff" stroke="#111" stroke-width="3.5"/><text x="489.7" y="2256.5" font-size="56" text-anchor="middle">i</text><path d="M489.7,1186.8 V1295.4" stroke="#111" stroke-width="8.6"/>
<clipPath id="cv"><rect x="690" y="550.8" width="393.4" height="867.9"/></clipPath><g clip-path="url(#cv)"><rect x="690" y="550.8" width="393.4" height="867.9" fill="#8a8a8a" /><rect x="690" y="622.4" width="393.4" height="62.1" fill="#111" /><path d="M749,551.8 C753,571 751,580.6 747,591.5 M748,590.2 L718.4,615.8 M747,590.2 L773,614.5" fill="none" stroke="#111" stroke-width="6" stroke-linecap="butt"/><path d="M878.8,551.8 C882.8,571 880.8,580.6 876.8,591.5 M877.8,590.2 L848.2,615.8 M876.8,590.2 L902.8,614.5" fill="none" stroke="#111" stroke-width="6" stroke-linecap="butt"/><path d="M994.8,551.8 C998.8,571 996.8,580.6 992.8,591.5 M993.8,590.2 L964.2,615.8 M992.8,590.2 L1018.8,614.5" fill="none" stroke="#111" stroke-width="6" stroke-linecap="butt"/><path d="M690,684.5 C771.3,684.5 1002,684.5 1083.3,684.5 L1083.3,856.8 C1048.9,855.6 977.4,851.1 916.7,851.1 C856.1,851.1 836.9,856.1 790,856.8 C743.2,857.4 710.6,854.8 690,854.2Z" fill="#fdc988"/><path d="M688.8,923.4 C689.6,922.3 689.4,922.4 692.6,917.8 C695.7,913.1 695.7,906.2 703.9,900.8 C712.1,895.3 720.5,893.7 732.2,891.3 C743.9,889 746.9,889.4 760.5,889.4 C774.2,889.5 782.7,890.1 798.3,891.7 C813.9,893.3 820.4,894.9 836,897 C851.7,899.1 854.3,900.7 873.8,901.7 C893.3,902.7 907,902.1 930.5,901.7 C953.9,901.3 963.7,900.4 987.1,899.8 C1010.5,899.2 1023.5,899.5 1043.7,898.9 C1064,898.2 1076.7,897.1 1085.3,896.6 L1085.3,1142.1 C1078.6,1143.3 1069.6,1146.9 1053.2,1148.1 C1036.8,1149.4 1027.4,1148.7 1006,1148.1 C984.5,1147.5 972.7,1146.6 949.3,1145.3 C925.9,1143.9 912.2,1142.3 892.7,1141.5 C873.2,1140.7 874.4,1140.9 854.9,1141.5 C835.4,1142.1 821.7,1142.8 798.3,1144.3 C774.9,1145.9 764.3,1147.4 741.6,1149.1 C719,1150.7 699.7,1151.6 688.8,1152.3Z" fill="#fdc988"/><path d="M690,1192.5 C704.1,1196.4 724.6,1209.4 758.4,1211.5 C792.1,1213.6 814.1,1208.4 853.4,1202.7 C892.7,1196.9 915.7,1188.4 948.4,1183.7 C981.1,1178.9 983.9,1177.2 1011.8,1179.8 C1039.6,1182.5 1068.5,1192.9 1083.3,1196.3 L1083.3,1272.3 C1048.9,1271.6 977.4,1270.5 916.7,1268.5 C856.1,1266.6 836.9,1262.8 790,1262.8 C743.2,1262.8 710.6,1267.4 690,1268.5Z" fill="#fdc988"/><path d="M690,1342 C710.6,1341 749.7,1336.3 790,1337 C830.4,1337.6 845.8,1346.2 885.1,1345.2 C924.3,1344.1 939.1,1333.2 980.1,1331.9 C1021.1,1330.6 1062,1337.4 1083.3,1338.9 L1083.3,1384.5 C1035.8,1383.4 934.7,1379.5 853.4,1379.4 C772.1,1379.3 723.7,1382.9 690,1383.8Z" fill="#fdc988"/><path d="M704.9,704.5 C710.8,704.8 708.6,706.1 733.6,705.9 C758.6,705.7 777.9,704.1 825.9,703.5 C873.9,702.9 929.7,702.7 965.7,703.1 C1001.7,703.4 980.9,704.8 1000,705.2 C1019.1,705.6 1046,705 1058,704.9" fill="none" stroke="#2a241f" stroke-width="2.8" stroke-linecap="round" /><path d="M709.8,721.3 C717.9,720.5 729.3,718.4 749,717.8 C768.6,717.1 780.3,718.1 804.9,718 C829.5,718 827.5,717.5 867.8,717.5 C908.2,717.4 960.4,717.5 1000,717.8 C1039.6,718.1 1047.2,718.6 1059.4,718.9" fill="none" stroke="#2a241f" stroke-width="2.8" stroke-linecap="round" /><path d="M809.8,720.8 C821.8,721.9 841.4,723.6 867.8,726.2 C894.3,728.7 910.4,730.7 937.8,733.1 C965.1,735.6 974.6,735.4 1000,738 C1025.4,740.6 1048.3,744.1 1060.8,745.7" fill="none" stroke="#2a241f" stroke-width="2.8" stroke-linecap="round" /><path d="M742.7,729 C754.1,730.4 774.9,733.3 797.9,735.9 C820.9,738.5 830.7,739.4 853.8,741.5 C877,743.7 883.8,744.1 909.8,746.4 C935.8,748.7 961.1,751.1 979.7,752.7 C998.4,754.3 995.8,753.8 1000,754.1" fill="none" stroke="#2a241f" stroke-width="2.8" stroke-linecap="round" /><path d="M746.2,736.6 C750.5,739.4 753.5,744.9 767.1,749.9 C780.7,755 794,757.4 811.9,761.1 C829.8,764.9 836.5,765.2 853.8,768.1 C871.2,771 878.5,772.6 895.8,775.1 C913.1,777.6 916.2,778.7 937.8,780 C959.3,781.3 974,781.2 1000,781.4 C1026,781.6 1050.5,781.1 1063.6,781" fill="none" stroke="#2a241f" stroke-width="2.8" stroke-linecap="round" /><path d="M851,746.4 C856,749.8 865.6,756.6 874.8,762.5 C884.1,768.4 891.5,772.5 895.8,775.1" fill="none" stroke="#2a241f" stroke-width="2.8" stroke-linecap="round" /><path d="M905.6,749.9 C913.7,753.7 927.7,761.9 944.8,768.1 C961.8,774.3 979.2,777.5 988.1,780" fill="none" stroke="#2a241f" stroke-width="2.8" stroke-linecap="round" /><path d="M970.6,756.2 C976.7,758.7 983.7,763.6 1000,768.1 C1016.3,772.6 1039.4,775.9 1049.7,777.9" fill="none" stroke="#2a241f" stroke-width="2.8" stroke-linecap="round" /><path d="M700.7,776.5 C707.8,775.5 719.5,775.4 735,771.6 C750.4,767.9 767.1,761.1 775.5,758.3" fill="none" stroke="#2a241f" stroke-width="2.8" stroke-linecap="round" /><path d="M734.3,795.4 C743.1,793.8 758.4,792 776.9,787.7 C795.4,783.4 814.1,777.2 823.8,774.4" fill="none" stroke="#2a241f" stroke-width="2.8" stroke-linecap="round" /><path d="M781.1,795.4 C787.5,795 796.7,796.6 811.9,793.3 C827.1,790 845.7,782.2 854.5,779.3" fill="none" stroke="#2a241f" stroke-width="2.8" stroke-linecap="round" /><path d="M843.4,792.6 C847.8,791.7 856.2,790.7 865,788.4 C873.9,786.1 881.7,782.8 886,781.4" fill="none" stroke="#2a241f" stroke-width="2.8" stroke-linecap="round" /><path d="M707,798.9 C712.8,800.5 716.2,804.6 735,806.6 C753.8,808.6 773.3,809.7 797.9,808.7 C822.5,807.7 833.6,805.1 853.8,801.7 C874.1,798.2 880.8,795.5 895.8,791.9 C910.8,788.3 920.2,785.8 926.6,784.2" fill="none" stroke="#2a241f" stroke-width="2.8" stroke-linecap="round" /><path d="M908.4,796.1 C913,798.7 920.4,804.2 930.8,808.7 C941.2,813.2 947.9,815.4 958.7,817.8 C969.6,820.2 978.2,819.8 983.2,820.3" fill="none" stroke="#2a241f" stroke-width="2.8" stroke-linecap="round" /><path d="M948.3,791.9 C953.3,793.9 962,798.1 972.7,801.7 C983.4,805.3 981.2,805.9 1000,809.4 C1018.8,812.8 1050.5,816.6 1063.6,818.5" fill="none" stroke="#2a241f" stroke-width="2.8" stroke-linecap="round" /><path d="M852.4,810.1 C860,811.8 874.1,815.4 888.8,818.5 C903.6,821.5 907.9,822.7 923.8,824.8 C939.7,826.8 950,827.3 965.7,828.3 C981.5,829.2 978.3,828.9 1000,829.4 C1021.7,829.8 1056,830.1 1070.6,830.3" fill="none" stroke="#2a241f" stroke-width="2.8" stroke-linecap="round" /><path d="M728,829.4 C732.3,828.3 739.8,827 749,824.1 C758.1,821.1 767.3,816.8 772,815" fill="none" stroke="#2a241f" stroke-width="2.8" stroke-linecap="round" /><path d="M755.9,835.9 C762.3,834.1 775.7,831.2 786.7,826.9 C797.7,822.5 804.5,817.4 809.1,815" fill="none" stroke="#2a241f" stroke-width="2.8" stroke-linecap="round" /><path d="M813.3,836.6 C818.2,834.9 829.4,832 837.1,828.3 C844.7,824.5 847.6,820.5 850.3,818.5" fill="none" stroke="#2a241f" stroke-width="2.8" stroke-linecap="round" /><path d="M701.4,835.2 C709.8,836.4 722,839.1 742,840.8 C761.9,842.6 774.8,843.6 797.9,843.6 C821,843.6 833.6,843.2 853.8,840.8 C874.1,838.5 881.1,835.6 895.8,832.4 C910.5,829.3 919.1,826.9 925.2,825.5" fill="none" stroke="#2a241f" stroke-width="2.8" stroke-linecap="round" /><path d="M1014.7,763.9 C1020.5,765.1 1031.1,768.1 1042.7,769.5 C1054.2,771 1064.8,770.6 1070.6,770.9" fill="none" stroke="#2a241f" stroke-width="2.8" stroke-linecap="round" /><path d="M1007.7,794.7 C1013.5,795.6 1022.7,798.3 1035.7,798.9 C1048.7,799.5 1063.4,797.8 1070.6,797.5" fill="none" stroke="#2a241f" stroke-width="2.8" stroke-linecap="round" /><path d="M690.7,916.8 C694.2,918.8 699.1,922.7 707.7,926.3 C716.2,929.8 721.3,932.8 732.2,933.8 C743.1,934.9 746.9,933.7 760.5,931.4 C774.2,929 782.7,926.5 798.3,922.5 C813.9,918.5 820.4,916 836,912.1 C851.7,908.2 858.2,905.6 873.8,903.6 C889.4,901.6 892.1,901.7 911.6,902.3 C931.1,902.9 944.8,903.8 968.2,906.4 C991.6,909 1001.4,911.2 1024.9,914.9 C1048.3,918.6 1069.8,922.4 1081.5,924.4" fill="none" stroke="#2a241f" stroke-width="2.8" stroke-linecap="round" /><path d="M696.3,938.5 C701,940.1 707.7,944.7 719,946.1 C730.3,947.4 736.6,947.1 751.1,945.1 C765.5,943.2 773.2,940.2 788.8,936.6 C804.5,933.1 811,931.3 826.6,928.1 C842.2,925 848.8,922.9 864.4,921.5 C880,920.2 884.6,920.4 902.1,921.5 C919.7,922.7 927.9,924.3 949.3,927.2 C970.8,930.1 978.9,931.4 1006,935.7 C1033.1,940 1065.1,945.4 1080.6,948" fill="none" stroke="#2a241f" stroke-width="2.8" stroke-linecap="round" /><path d="M694.4,952.7 C700.3,954.3 711.1,959.3 722.8,960.2 C734.5,961.2 737.4,959.8 751.1,957.4 C764.7,955.1 773.2,951.8 788.8,948.9 C804.5,946 811,944.8 826.6,943.3 C842.2,941.7 848.8,941.6 864.4,941.4 C880,941.2 884.6,940.9 902.1,942.3 C919.7,943.7 927.9,945.2 949.3,948 C970.8,950.7 982.6,952.6 1006,955.5 C1029.4,958.5 1047.2,961 1062.6,962.1 C1078,963.3 1076.9,961.4 1080.6,961.2" fill="none" stroke="#2a241f" stroke-width="2.8" stroke-linecap="round" /><path d="M695.4,964 C699.1,965.4 703.8,969.7 713.3,970.6 C722.9,971.6 728,970.3 741.6,968.7 C755.3,967.2 763.8,964.8 779.4,963.1 C795,961.3 803.5,960.7 817.2,960.2 C830.8,959.8 831.8,959.8 845.5,960.8 C859.1,961.8 865.7,962.9 883.3,965 C900.8,967 909,968.3 930.5,970.6 C951.9,973 965.6,974.5 987.1,976.3 C1008.6,978 1015,979.9 1034.3,979.1 C1053.6,978.3 1071,973.9 1080.6,972.5" fill="none" stroke="#2a241f" stroke-width="2.8" stroke-linecap="round" /><path d="M696.3,980.4 C701.8,980.6 709.5,981.5 722.8,981 C736,980.5 746.9,979 760.5,978.2 C774.2,977.4 775.2,976.8 788.8,977.2 C802.5,977.6 811,978.3 826.6,980.1 C842.2,981.8 848.8,983 864.4,985.7 C880,988.5 886.5,990.6 902.1,993.3 C917.7,995.9 924.3,997.5 939.9,998.6 C955.5,999.7 962,999.7 977.7,998.6 C993.3,997.5 999.8,995.9 1015.4,993.3 C1031,990.6 1039.7,988.9 1053.2,985.7 C1066.6,982.6 1074.9,979.7 1080.6,978.2" fill="none" stroke="#2a241f" stroke-width="2.8" stroke-linecap="round" /><path d="M696.3,993.3 C701.8,993.3 709.5,992.9 722.8,993.3 C736,993.7 744.9,994.2 760.5,995.2 C776.1,996.2 782.7,996.6 798.3,998 C813.9,999.4 821.6,1000 836,1001.8 C850.5,1003.5 856.4,1004.4 868.1,1006.5 C879.9,1008.6 881.8,1009.8 892.7,1012.2 C903.6,1014.5 907.4,1016.3 921,1017.8 C934.7,1019.4 943.2,1019.8 958.8,1019.7 C974.4,1019.6 980.9,1019.4 996.5,1017.5 C1012.1,1015.5 1020.6,1013.7 1034.3,1010.3 C1048,1006.8 1053.1,1005.5 1062.6,1000.8 C1072.2,996.2 1076.9,990.4 1080.6,987.6" fill="none" stroke="#2a241f" stroke-width="2.8" stroke-linecap="round" /><path d="M696.3,1012.2 C701.8,1013.3 709.5,1015.5 722.8,1017.8 C736,1020.2 744.9,1022.5 760.5,1023.5 C776.1,1024.5 782.7,1023.9 798.3,1022.6 C813.9,1021.2 821.6,1019.8 836,1016.9 C850.5,1014 861.5,1010.1 868.1,1008.4" fill="none" stroke="#2a241f" stroke-width="2.8" stroke-linecap="round" /><path d="M697.3,1030.1 C706.4,1031.5 720.8,1035.2 741.6,1036.7 C762.5,1038.3 776.8,1038.2 798.3,1037.7 C819.7,1037.1 827.9,1036.2 845.5,1033.9 C863,1031.5 870.8,1029.5 883.3,1026.3 C895.7,1023.2 901.2,1020.3 905.9,1018.8" fill="none" stroke="#2a241f" stroke-width="2.8" stroke-linecap="round" /><path d="M699.2,1048 C707.9,1049 721.2,1051.6 741.6,1052.8 C762.1,1053.9 776.8,1054.5 798.3,1053.7 C819.7,1052.9 826,1051.7 845.5,1049 C865,1046.3 875.1,1044 892.7,1040.5 C910.3,1037 916.6,1035.4 930.5,1032 C944.3,1028.6 953.7,1025.6 959.7,1023.9" fill="none" stroke="#2a241f" stroke-width="2.8" stroke-linecap="round" /><path d="M697.3,1067.9 C704.5,1068.5 717.2,1069.7 732.2,1070.7 C747.2,1071.7 752.4,1072.8 770,1072.6 C787.5,1072.4 797.7,1071.9 817.2,1069.8 C836.7,1067.6 844.9,1065.5 864.4,1062.2 C883.9,1058.9 892.1,1057.8 911.6,1053.7 C931.1,1049.6 937.3,1048 958.8,1042.4 C980.2,1036.7 990.3,1033 1015.4,1026.3 C1040.6,1019.7 1067.1,1013.6 1080.6,1010.3" fill="none" stroke="#2a241f" stroke-width="2.8" stroke-linecap="round" /><path d="M1014.5,1027.3 C1018.6,1028.1 1024.4,1030.3 1034.3,1031 C1044.3,1031.8 1053.5,1031.4 1062.6,1031 C1071.8,1030.7 1075.4,1029.6 1078.7,1029.2" fill="none" stroke="#2a241f" stroke-width="2.8" stroke-linecap="round" /><path d="M962.6,1042.4 C967.6,1043.5 974.2,1046.5 987.1,1048 C1000,1049.6 1009.3,1049.9 1024.9,1049.9 C1040.5,1049.9 1051.1,1049 1062.6,1048 C1074.1,1047.1 1076.9,1045.8 1080.6,1045.2" fill="none" stroke="#2a241f" stroke-width="2.8" stroke-linecap="round" /><path d="M915.3,1055.6 C922.4,1057.7 934.5,1062.7 949.3,1066 C964.2,1069.3 971.5,1070.7 987.1,1071.6 C1002.7,1072.6 1009.3,1072.3 1024.9,1070.7 C1040.5,1069.1 1051.1,1067 1062.6,1064.1 C1074.1,1061.2 1076.9,1058.1 1080.6,1056.5" fill="none" stroke="#2a241f" stroke-width="2.8" stroke-linecap="round" /><path d="M871,1065 C875.5,1067.4 880.4,1072.1 892.7,1076.4 C905,1080.7 914.8,1083.1 930.5,1085.8 C946.1,1088.5 952.6,1089 968.2,1089.6 C983.8,1090.2 990.4,1090 1006,1088.6 C1021.6,1087.3 1028.3,1085.5 1043.7,1083 C1059.2,1080.4 1073,1077.7 1080.6,1076.4" fill="none" stroke="#2a241f" stroke-width="2.8" stroke-linecap="round" /><path d="M716.2,1075.4 C721.4,1076.4 730.5,1077.2 741.6,1080.1 C752.8,1083.1 758.3,1086.1 770,1089.6 C781.7,1093.1 786.6,1095.2 798.3,1097.1 C810,1099.1 814.9,1099.4 826.6,1099 C838.3,1098.6 843.2,1096.8 854.9,1095.2 C866.6,1093.7 871.5,1091.5 883.3,1091.5 C895,1091.5 897.9,1092.5 911.6,1095.2 C925.2,1098 933.7,1101.4 949.3,1104.7 C964.9,1108 971.5,1110.9 987.1,1111.3 C1002.7,1111.7 1006.3,1109.7 1024.9,1106.6 C1043.4,1103.5 1066.1,1098.3 1076.8,1096.2" fill="none" stroke="#2a241f" stroke-width="2.8" stroke-linecap="round" /><path d="M693.5,1107.5 C696.4,1108.5 699.7,1111.5 707.7,1112.2 C715.7,1113 721.3,1109.7 732.2,1111.3 C743.1,1112.9 748.8,1116.1 760.5,1119.8 C772.2,1123.5 777.9,1126.7 788.8,1129.2 C799.8,1131.8 802.9,1132.8 813.4,1132.1 C823.9,1131.3 828.1,1128.6 839.8,1125.5 C851.5,1122.3 858.3,1118.7 870,1117 C881.7,1115.2 884,1115.2 896.5,1117 C909,1118.7 917.6,1121.9 930.5,1125.5 C943.3,1129 947.1,1131.6 958.8,1134 C970.5,1136.3 973.4,1136.8 987.1,1136.8 C1000.8,1136.8 1005.5,1136.1 1024.9,1134 C1044.2,1131.8 1069,1128 1080.6,1126.4" fill="none" stroke="#2a241f" stroke-width="2.8" stroke-linecap="round" /><path d="M704.5,1221 C715.7,1223.6 727.6,1232.4 758.4,1233.7 C789.1,1235 814.1,1234.6 853.4,1227.4 C892.7,1220.2 915.7,1205.4 948.4,1198.9 C981.1,1192.3 986.2,1193.1 1011.8,1195.7 C1037.3,1198.3 1059.5,1208.2 1071.9,1211.5" fill="none" stroke="#2a241f" stroke-width="2.8" stroke-linecap="round" /><path d="M805.9,1254.6 C822.2,1253.3 854.3,1252.6 885.1,1248.3 C915.8,1243.9 928.6,1237.4 954.7,1233.7 C980.9,1230 987.5,1228.6 1011.8,1230.5 C1036,1232.5 1059.5,1240.6 1071.9,1243.2" fill="none" stroke="#2a241f" stroke-width="2.8" stroke-linecap="round" /><path d="M916.7,1249.5 C927.2,1248.5 943.8,1243.8 967.4,1244.5 C991,1245.1 1009.2,1249 1030.8,1252.7 C1052.4,1256.4 1063.4,1260.2 1071.9,1262.2" fill="none" stroke="#2a241f" stroke-width="2.8" stroke-linecap="round" /><path d="M714,1366.7 C727.1,1364.5 751.2,1356.6 777.4,1356 C803.6,1355.3 827.6,1362 840.7,1363.6" fill="none" stroke="#2a241f" stroke-width="2.8" stroke-linecap="round" /><path d="M866.1,1350.9 C879.2,1352.2 900.6,1358.5 929.4,1357.2 C958.2,1355.9 989.7,1347.2 1005.4,1344.6" fill="none" stroke="#2a241f" stroke-width="2.8" stroke-linecap="round" /><path d="M954.7,1357.2 C966.5,1356.6 989.5,1356.7 1011.8,1354.1 C1034,1351.4 1052,1346.5 1062.4,1344.6" fill="none" stroke="#2a241f" stroke-width="2.8" stroke-linecap="round" /><path transform="translate(786.9,1292) scale(0.9)" d="M-18.8,7.5 L-10,1.2 Q-3,0.5 -4,8 L-8,46 Q-8.5,58.5 -1,58.5 Q8.5,58.5 8,47 L3.8,27 L6,7 Q7,1 11,1.5 L18.5,7.5" fill="none" stroke="#111" stroke-width="4.2" stroke-linejoin="round"/><path transform="translate(956.6,1262.2) scale(0.9)" d="M-18.8,7.5 L-10,1.2 Q-3,0.5 -4,8 L-8,46 Q-8.5,58.5 -1,58.5 Q8.5,58.5 8,47 L3.8,27 L6,7 Q7,1 11,1.5 L18.5,7.5" fill="none" stroke="#111" stroke-width="4.2" stroke-linejoin="round"/></g><rect x="690" y="550.8" width="393.4" height="867.9" fill="none" stroke="#111" stroke-width="3.5"/><clipPath id="civ"><rect x="1307" y="401.5" width="392.8" height="767.2"/></clipPath><g clip-path="url(#civ)"><rect x="1307" y="401.5" width="392.8" height="767.2" fill="#8a8a8a" /><path d="M1303.8,431.9 C1318.9,431 1345.9,427.2 1376.7,427.5 C1407.5,427.7 1423.9,433.4 1452.7,433.2 C1481.5,432.9 1484.7,427.1 1516.1,426.2 C1547.5,425.3 1566.1,428.5 1604.8,428.7 C1643.4,429 1682.7,427.7 1703,427.5 L1703,478.2 C1681.4,477.1 1639.7,472.6 1598.4,473.1 C1557.2,473.6 1542.7,480.7 1503.4,480.7 C1464.1,480.7 1449.6,474 1408.4,473.1 C1367.1,472.2 1325.5,475.6 1303.8,476.3Z" fill="#fdc988"/><path d="M1303.8,479.4 C1325.5,478.6 1367.1,474.8 1408.4,475.6 C1449.6,476.4 1464.1,483.2 1503.4,483.2 C1542.7,483.2 1557.2,476.1 1598.4,475.6 C1639.7,475.1 1681.4,479.6 1703,480.7" fill="none" stroke="#e0332c" stroke-width="7"/><path d="M1338.7,452.8 C1359.6,451.5 1403.4,446.2 1440.1,446.5 C1476.7,446.7 1482,454.9 1516.1,454.1 C1550.1,453.3 1569.4,445.6 1604.8,442.7 C1640.1,439.8 1670.1,440.7 1687.1,440.1" fill="none" stroke="#2a241f" stroke-width="2.8" stroke-linecap="round" /><path d="M1547.8,462.3 C1559.5,460.4 1582.5,454.3 1604.8,452.8 C1627,451.4 1638.4,453.8 1655.4,455.4 C1672.5,456.9 1680.6,459.4 1687.1,460.4" fill="none" stroke="#2a241f" stroke-width="2.8" stroke-linecap="round" /><path d="M1307,558.6 L1689.8,558.6 Q1699.8,558.6 1699.8,568.6 L1703,609.3 C1693.1,608 1681,603.4 1655.4,603 C1629.9,602.6 1620,603.9 1579.4,607.4 C1538.8,610.9 1503.6,621 1459.1,620.1 C1414.5,619.2 1396.1,606.9 1364,603 C1332,599 1316.3,601.5 1303.8,601.1Z" fill="url(#gband)"/><path d="M1303.8,601.1 C1316.3,601.5 1332,599 1364,603 C1396.1,606.9 1414.5,619.2 1459.1,620.1 C1503.6,621 1538.8,610.9 1579.4,607.4 C1620,603.9 1629.9,602.6 1655.4,603 C1681,603.4 1693.1,608 1703,609.3" fill="none" stroke="#e0332c" stroke-width="7"/><path transform="translate(1397,536.4) scale(0.9)" d="M-18.8,7.5 L-10,1.2 Q-3,0.5 -4,8 L-8,46 Q-8.5,58.5 -1,58.5 Q8.5,58.5 8,47 L3.8,27 L6,7 Q7,1 11,1.5 L18.5,7.5" fill="none" stroke="#111" stroke-width="4.2" stroke-linejoin="round"/><path d="M1376.7,660.1 C1381.2,658.7 1391.9,656.8 1400.8,652.7 C1409.6,648.6 1416.9,641.6 1424.2,637.9 C1431.5,634.2 1433.9,632.6 1440.1,632.7 C1446.2,632.8 1449.2,635.4 1457.1,638.4 C1464.9,641.5 1472.8,646.6 1482.3,649.3 C1491.8,651.9 1498.5,652.7 1508.2,652.7 C1517.8,652.7 1524.5,652 1534,649.3 C1543.5,646.5 1551.4,640.9 1559.2,637.9 C1567.1,634.8 1569.7,632.6 1576.3,632.7 C1582.8,632.8 1586.1,634.7 1594.5,638.4 C1602.9,642.2 1611.3,648.7 1621.4,652.7 C1631.6,656.7 1644,658.7 1649.1,660.1 L1649.1,661.2 L1376.7,661.2 Z" fill="#fdc988"/><path d="M1394.4,656.1 Q1418.5,651.8 1432.5,640.7" stroke="#2a241f" stroke-width="2.8" fill="none"/><path d="M1408.4,658.4 Q1422.3,657.5 1426.1,649.8" stroke="#2a241f" stroke-width="2.8" fill="none"/><path d="M1441.4,643.6 L1460.5,658.4" stroke="#2a241f" stroke-width="2.8" fill="none"/><path d="M1453.7,642.4 L1475.5,655" stroke="#2a241f" stroke-width="2.8" fill="none"/><path d="M1527.2,656.1 Q1553.1,651.8 1568.1,640.7" stroke="#2a241f" stroke-width="2.8" fill="none"/><path d="M1542.2,658.4 Q1557.2,657.5 1561.3,649.8" stroke="#2a241f" stroke-width="2.8" fill="none"/><path d="M1577.7,643.6 L1598.1,658.4" stroke="#2a241f" stroke-width="2.8" fill="none"/><path d="M1590.8,642.4 L1614.1,655" stroke="#2a241f" stroke-width="2.8" fill="none"/><rect x="1307" y="685.3" width="392.8" height="25.3" fill="#cbcbcb" /><path d="M1303.8,753.1 C1318.9,752.2 1345.9,748.3 1376.7,748.7 C1407.5,749.1 1422.6,755 1452.7,755 C1482.8,755 1491,749.1 1522.4,748.7 C1553.8,748.3 1567.5,752.7 1604.8,753.1 C1642.1,753.5 1682.7,751.1 1703,750.6 L1703,803.8 C1694.5,805.5 1683.4,812 1661.8,812 C1640.2,812 1631.2,803.8 1598.4,803.8 C1565.7,803.8 1542.7,811.6 1503.4,812 C1464.1,812.4 1449.6,807.6 1408.4,805.7 C1367.1,803.7 1325.5,803.2 1303.8,802.5Z" fill="#fdc988"/><path d="M1303.8,802.5 C1325.5,803.4 1367.1,804.6 1408.4,807 C1449.6,809.3 1464.1,814.1 1503.4,813.9 C1542.7,813.8 1565.7,806.1 1598.4,806.3 C1631.2,806.6 1640.2,815.2 1661.8,815.2 C1683.4,815.2 1694.5,808.2 1703,806.3" fill="none" stroke="#e0332c" stroke-width="7"/><path d="M1316.5,777.2 C1329,778.5 1344.6,784.2 1376.7,783.5 C1408.8,782.9 1439,777.3 1471.7,774 C1504.5,770.7 1507.6,765.1 1535.1,767.7 C1562.6,770.3 1573.3,781.1 1604.8,786.7 C1636.2,792.3 1670.1,793.2 1687.1,794.9" fill="none" stroke="#2a241f" stroke-width="2.8" stroke-linecap="round" /><path d="M1440.1,796.2 C1455.8,795.9 1487.3,794.3 1516.1,794.9 C1544.9,795.6 1559.1,799.7 1579.4,799.4 C1599.7,799 1607.1,794.3 1614.3,793" fill="none" stroke="#2a241f" stroke-width="2.8" stroke-linecap="round" /><path d="M1503.4,774 C1512.6,776 1532,780.9 1547.8,783.5 C1563.5,786.1 1572.9,786 1579.4,786.7" fill="none" stroke="#2a241f" stroke-width="2.8" stroke-linecap="round" /><path d="M1393.8,835 l15,15 l-15,15 l-15,-15z" fill="#111"/><rect x="1605.9" y="849.3" width="23" height="23" fill="#111" transform="rotate(-6 1617.4 860.8)"/><path transform="translate(1564.9,826.6) scale(0.9)" d="M-18.8,7.5 L-10,1.2 Q-3,0.5 -4,8 L-8,46 Q-8.5,58.5 -1,58.5 Q8.5,58.5 8,47 L3.8,27 L6,7 Q7,1 11,1.5 L18.5,7.5" fill="none" stroke="#111" stroke-width="4.2" stroke-linejoin="round"/><rect x="1307" y="888" width="392.8" height="25.3" fill="#d4a5b0" /><path d="M1303.8,947 C1325.5,945.9 1369.8,941.4 1408.4,941.9 C1447,942.4 1468.5,950.1 1490.7,949.5 C1513,948.8 1492.5,941.3 1516.1,938.7 C1539.6,936.1 1566.1,936.2 1604.8,936.8 C1643.4,937.5 1682.7,940.8 1703,941.9 L1703,989.4 C1690.5,990.7 1670.9,996.1 1642.8,995.7 C1614.6,995.3 1598.2,986.8 1566.8,987.5 C1535.3,988.2 1523.5,999.2 1490.7,998.9 C1458,998.6 1447,988.2 1408.4,986.2 C1369.8,984.3 1325.5,988.7 1303.8,989.4Z" fill="#fdc988"/><path d="M1303.8,992.6 C1325.5,991.8 1369.8,986.8 1408.4,988.8 C1447,990.7 1458,1001.8 1490.7,1002.1 C1523.5,1002.3 1535.3,990.7 1566.8,990 C1598.2,989.4 1614.6,998.4 1642.8,998.9 C1670.9,999.4 1690.5,993.9 1703,992.6" fill="none" stroke="#e0332c" stroke-width="7"/><path d="M1332.4,971.7 C1348.1,969.4 1373,960.5 1408.4,960.9 C1443.7,961.3 1464.1,972.3 1503.4,973.6 C1542.7,974.9 1560.5,966.6 1598.4,967.2 C1636.4,967.9 1668.8,974.8 1687.1,976.7" fill="none" stroke="#2a241f" stroke-width="2.8" stroke-linecap="round" /><path d="M1493.9,951.4 C1506.3,953.4 1525.9,960.2 1554.1,960.9 C1582.2,961.6 1601.3,956.5 1630.1,954.6 C1658.9,952.6 1680.4,952 1693.5,951.4" fill="none" stroke="#2a241f" stroke-width="2.8" stroke-linecap="round" /><path d="M1390.1,994.6 Q1402.1,996.6 1402.1,1010.6 L1400.1,1036.9 M1426,994.6 Q1414,996.6 1413,1010.6 L1416,1036.9" stroke="#111" stroke-width="3.4" fill="none"/><rect x="1307" y="1036.9" width="392.8" height="25.3" fill="#d4a5b0" /><rect x="1307" y="1068.6" width="392.8" height="25.3" fill="#cbcbcb" /></g><rect x="1307" y="401.5" width="392.8" height="767.2" fill="none" stroke="#111" stroke-width="3.5"/><clipPath id="ciii"><rect x="1972" y="224.7" width="393" height="717.4"/></clipPath><g clip-path="url(#ciii)"><rect x="1972" y="224.7" width="393" height="717.4" fill="#8a8a8a" /><path d="M1969.1,259.3 C1978.7,256.9 1990.2,249 2015.2,247.8 C2040.3,246.6 2056.8,248.8 2090.2,253.5 C2123.5,258.3 2142.1,265.8 2176.6,270.8 C2211.1,275.8 2226.3,278.9 2257.3,277.7 C2288.2,276.6 2303.5,270.1 2326.4,265.1 C2349.3,260.1 2359.3,255.9 2367.9,253.5 L2367.9,391.8 C2352.2,395.7 2326.6,411.5 2291.8,410.3 C2257.1,409.1 2233,394.1 2199.6,386.1 C2166.3,378.1 2162.6,371.4 2130.5,371.7 C2098.3,371.9 2077.4,385.4 2044.1,387.2 C2010.7,389 1984.6,381.7 1969.1,380.3Z" fill="#fdc988"/><path d="M1969.1,384.9 C1984.6,386.4 2010.7,393.6 2044.1,391.8 C2077.4,390.1 2098.3,376.5 2130.5,376.3 C2162.6,376 2166.3,382.7 2199.6,390.7 C2233,398.7 2257.1,413.7 2291.8,414.9 C2326.6,416.1 2352.2,400.3 2367.9,396.5" fill="none" stroke="#e0332c" stroke-width="8"/><path d="M1980.7,273.7 C1995,272.2 2018.9,265.9 2049.8,266.2 C2080.8,266.6 2099.5,269.7 2130.5,275.4 C2161.5,281.2 2171.1,288.6 2199.6,293.9 C2228.2,299.1 2243.8,301.4 2268.8,300.8 C2293.8,300.2 2309.9,293 2320.7,291" fill="none" stroke="#2a241f" stroke-width="2.8" stroke-linecap="round" /><path d="M1980.7,299.6 C1995,297.9 2021.2,291.6 2049.8,291 C2078.4,290.4 2090.4,292 2119,296.8 C2147.6,301.5 2161.9,308.1 2188.1,314 C2214.3,320 2233.8,323.2 2245.7,325.6" fill="none" stroke="#2a241f" stroke-width="2.8" stroke-linecap="round" /><path d="M1983.6,319.8 C1996.1,320.6 2013.7,324.7 2044.1,323.8 C2074.4,323 2098.3,314.8 2130.5,315.8 C2162.6,316.7 2185.4,325.8 2199.6,328.5" fill="none" stroke="#2a241f" stroke-width="2.8" stroke-linecap="round" /><path d="M1974.9,341.1 C1995.2,342.7 2031.2,348.3 2072.9,348.6 C2114.6,349 2136.1,344.9 2176.6,342.9 C2217.1,340.8 2235.4,340.6 2268.8,338.8 C2302.1,337 2317.5,332.8 2337.9,334.2 C2358.4,335.6 2361.7,343.4 2367.9,345.7" fill="none" stroke="#2a241f" stroke-width="2.8" stroke-linecap="round" /><path d="M2245.7,368.8 C2255.3,371.4 2272.8,381.5 2291.8,381.5 C2310.9,381.5 2328.4,371.4 2337.9,368.8" fill="none" stroke="#2a241f" stroke-width="2.8" stroke-linecap="round" /><path d="M2286.1,356.1 C2292,355.2 2301.8,351.9 2314.9,351.5 C2328,351.1 2342.3,353.8 2349.5,354.4" fill="none" stroke="#2a241f" stroke-width="2.8" stroke-linecap="round" /><path transform="translate(2094.8,356.1) scale(1)" d="M-18.8,7.5 L-10,1.2 Q-3,0.5 -4,8 L-8,46 Q-8.5,58.5 -1,58.5 Q8.5,58.5 8,47 L3.8,27 L6,7 Q7,1 11,1.5 L18.5,7.5" fill="none" stroke="#111" stroke-width="4.1" stroke-linejoin="round"/><path d="M1969.1,469.6 C1984.6,468.4 2010.7,463 2044.1,463.9 C2077.4,464.7 2094.8,473.3 2130.5,473.7 C2166.2,474 2181.2,466.1 2216.9,465.6 C2252.7,465.1 2272.2,471.7 2303.4,471.4 C2334.6,471 2354.6,465.4 2367.9,463.9 L2367.9,512.9 C2352.2,516.4 2326.6,528.9 2291.8,530.1 C2257.1,531.3 2233,519.2 2199.6,518.6 C2166.3,518 2162.6,526.7 2130.5,527.3 C2098.3,527.9 2077.4,524.5 2044.1,521.5 C2010.7,518.5 1984.6,514.6 1969.1,512.9Z" fill="#fdc988"/><path d="M1969.1,514.6 C1984.6,516.4 2010.7,520 2044.1,523.2 C2077.4,526.4 2098.3,530.5 2130.5,530.1 C2162.6,529.8 2166.3,520.9 2199.6,521.5 C2233,522.1 2257.1,534.2 2291.8,533 C2326.6,531.8 2352.2,519.3 2367.9,515.7" fill="none" stroke="#e0332c" stroke-width="8"/><path d="M1977.8,492.7 C1991.5,494.2 2012.5,500.8 2044.1,500.2 C2075.6,499.6 2093.6,493.7 2130.5,489.8 C2167.4,485.9 2189.3,480 2222.7,481.2 C2256,482.3 2264.5,490.8 2291.8,495.6 C2319.2,500.3 2342.1,502.4 2355.2,504.2" fill="none" stroke="#2a241f" stroke-width="2.8" stroke-linecap="round" /><path d="M2107.4,510 C2121.7,509.4 2152.8,508.9 2176.6,507.1 C2200.4,505.3 2203.6,500.1 2222.7,501.3 C2241.7,502.5 2259.3,510.5 2268.8,512.9" fill="none" stroke="#2a241f" stroke-width="2.8" stroke-linecap="round" /><path d="M2176.6,489.8 C2186.1,489.6 2208.4,489.8 2222.7,488.6 C2237,487.5 2241,485 2245.7,484" fill="none" stroke="#2a241f" stroke-width="2.8" stroke-linecap="round" /><path d="M2002.6,500.2 Q2042.9,541.7 2083.2,500.2 Q2042.9,514 2002.6,500.2Z" fill="#111"/><ellipse cx="2132.2" cy="515.7" rx="17" ry="10" fill="none" stroke="#111" stroke-width="5"/><path transform="translate(2307.4,461) scale(1)" d="M-18.8,7.5 L-10,1.2 Q-3,0.5 -4,8 L-8,46 Q-8.5,58.5 -1,58.5 Q8.5,58.5 8,47 L3.8,27 L6,7 Q7,1 11,1.5 L18.5,7.5" fill="none" stroke="#111" stroke-width="4.1" stroke-linejoin="round"/><rect x="1972" y="541.7" width="393" height="24.8" fill="#cbcbcb" /><path d="M1970,622.3 C1975.3,620.2 1993.3,618.5 2001.8,619.5 C2010.3,620.4 2015.7,624.1 2021.6,628.1 C2027.5,632.1 2028.3,640.8 2037.5,643.7 C2046.7,646.5 2066.1,646.5 2077.2,645.4 C2088.4,644.2 2097.8,640.8 2105,636.7 C2112.2,632.6 2113,623.7 2120.9,620.6 C2128.8,617.6 2143.5,618.5 2152.6,618.3 C2161.8,618.1 2170.9,617.2 2176.5,619.5 C2182,621.7 2181.1,630 2186.4,632.1 C2191.6,634.2 2202.6,634.2 2208.2,632.1 C2213.8,630 2213.6,622.3 2220.1,619.5 C2226.7,616.6 2240.4,614.4 2247.9,614.8 C2255.5,615.3 2261.9,618.9 2265.8,622.3 C2269.7,625.8 2266.8,633.2 2271.7,635.6 C2276.7,638 2288.3,638.3 2295.6,636.7 C2302.8,635.2 2308.2,629.4 2315.4,626.4 C2322.6,623.3 2330.7,619.9 2339.2,618.3 C2347.8,616.7 2362.4,613 2367,616.6 C2371.6,620.1 2371.6,636.3 2367,639.6 C2362.4,643 2348.4,635.5 2339.2,636.7 C2330,638 2321.3,645.2 2311.4,647.1 C2301.6,649 2288.2,650 2279.7,648.3 C2271.2,646.6 2265.1,640.1 2259.8,636.7 C2254.6,633.4 2252.8,628.1 2247.9,628.1 C2243,628.1 2236,633.9 2230.1,636.7 C2224.2,639.6 2219.7,644.2 2212.2,645.4 C2204.6,646.5 2191.6,645.8 2184.4,643.7 C2177.2,641.5 2175.1,634.2 2168.5,632.1 C2162,630 2151.3,630.2 2144.7,631 C2138.1,631.7 2134.1,633.7 2128.8,636.7 C2123.6,639.8 2122.1,646.4 2112.9,649.4 C2103.8,652.5 2086.4,654.6 2073.2,655.2 C2060.1,655.8 2044.1,655.9 2033.5,652.9 C2023,649.8 2016.9,640.2 2009.7,636.7 C2002.5,633.3 1996.4,632.9 1989.9,632.1 C1983.3,631.4 1973.3,633.8 1970,632.1 C1966.7,630.5 1964.8,624.4 1970,622.3Z" fill="#fdc988" stroke="#444" stroke-width="2.2" stroke-linejoin="round"/><path d="M1970,603.3 C1976.6,601.2 1998.6,600.6 2009.7,602.2 C2020.9,603.7 2030.3,607.8 2037.5,612.5 C2044.7,617.3 2048.1,627.7 2053.4,631 C2058.6,634.2 2065.3,634.5 2069.3,632.1 C2073.2,629.7 2072,621.7 2077.2,616.6 C2082.5,611.4 2089.2,604.2 2101,601 C2112.9,597.9 2134.2,597.4 2148.7,597.6 C2163.1,597.7 2175.9,602.2 2188.4,602.2 C2200.8,602.2 2214.3,599.5 2224.1,597.6 C2234,595.7 2243.3,590.5 2247.9,590.6 C2252.5,590.8 2254.5,595.7 2251.9,598.7 C2249.3,601.8 2231.4,606.8 2232,609.1 C2232.7,611.4 2245.4,613.7 2255.9,612.5 C2266.4,611.4 2281.8,605.3 2295.6,602.2 C2309.3,599 2327.4,594.7 2339.2,593.5 C2351,592.4 2362.4,592.9 2367,595.3 C2371.6,597.6 2370.3,604.4 2367,607.9 C2363.7,611.5 2353.7,613.9 2347.2,616.6 C2340.6,619.2 2331.9,621.5 2327.3,624.1 C2322.7,626.6 2318.1,630.2 2319.4,632.1 C2320.7,634 2327.4,635.1 2335.3,635.6 C2343.1,636.1 2361.8,633.4 2367,635 C2372.3,636.6 2373.6,643.7 2367,645.4 C2360.5,647.1 2337.8,646.1 2327.3,645.4 C2316.8,644.7 2308.1,643.9 2303.5,641.4 C2298.9,638.8 2297.6,633.6 2299.5,629.8 C2301.5,626 2317.4,620 2315.4,618.3 C2313.4,616.6 2296.2,618.8 2287.6,619.5 C2279.1,620.1 2270.4,622.5 2263.8,622.3 C2257.2,622.1 2254.5,618.6 2247.9,618.3 C2241.4,618 2230.7,619.3 2224.1,620.6 C2217.5,621.9 2212.8,626.6 2208.2,626.4 C2203.6,626.2 2200.3,622 2196.3,619.5 C2192.4,616.9 2191.6,612.5 2184.4,610.8 C2177.2,609.1 2163.1,608.8 2152.6,609.1 C2142.1,609.4 2128.8,609.7 2120.9,612.5 C2113,615.4 2109.6,621.8 2105,626.4 C2100.4,630.9 2099.7,637.3 2093.1,640.2 C2086.5,643.1 2073.8,643.7 2065.3,643.7 C2056.8,643.7 2047.4,643.2 2041.5,640.2 C2035.6,637.1 2034.8,629.4 2029.6,625.2 C2024.3,621 2019.6,616.6 2009.7,614.8 C1999.9,613.1 1976.6,616.7 1970,614.8 C1963.5,612.9 1963.5,605.4 1970,603.3Z" fill="#cfcfcf" stroke="#444" stroke-width="2.2" stroke-linejoin="round"/><path d="M1969.1,694.4 C1984.6,693.2 2010.7,687.8 2044.1,688.6 C2077.4,689.4 2098.3,699 2130.5,698.4 C2162.6,697.8 2166.3,687.7 2199.6,685.7 C2233,683.7 2257.1,687.4 2291.8,688.6 C2326.6,689.8 2352.2,690.9 2367.9,691.5 L2367.9,766.4 C2354.6,768.2 2328.6,772.4 2303.4,775 C2278.1,777.7 2271.9,780.3 2245.7,779.1 C2219.5,777.9 2208.7,773.3 2176.6,769.3 C2144.4,765.2 2121.1,758.3 2090.2,759.5 C2059.2,760.7 2051.8,773 2026.8,775 C2001.8,777.1 1981.1,770.5 1969.1,769.3Z" fill="#fdc988"/><path d="M1969.1,773.3 C1981.1,774.5 2001.8,781.1 2026.8,779.1 C2051.8,777 2059.2,764.7 2090.2,763.5 C2121.1,762.3 2144.4,769.1 2176.6,773.3 C2208.7,777.5 2219.5,782.5 2245.7,783.7 C2271.9,784.9 2278.1,781.8 2303.4,779.1 C2328.6,776.3 2354.6,772.2 2367.9,770.4" fill="none" stroke="#e0332c" stroke-width="8"/><path d="M2000.8,720.3 C2013.3,718.2 2034.6,710.2 2061.3,709.9 C2088.1,709.7 2101.9,714 2130.5,719.1 C2159.1,724.3 2173.4,730.3 2199.6,734.7 C2225.8,739.1 2233.4,741.1 2257.3,740.5 C2281.1,739.9 2303,733.6 2314.9,731.8" fill="none" stroke="#2a241f" stroke-width="2.8" stroke-linecap="round" /><path d="M2156.4,700.1 C2170.1,701.9 2194.7,708.2 2222.7,708.8 C2250.7,709.4 2263.3,705.2 2291.8,703 C2320.4,700.9 2346.7,699.4 2361,698.4" fill="none" stroke="#2a241f" stroke-width="2.8" stroke-linecap="round" /><path d="M1974.9,743.3 C1986.8,742.2 2008.7,738.2 2032.5,737.6 C2056.4,737 2078.2,739.9 2090.2,740.5" fill="none" stroke="#2a241f" stroke-width="2.8" stroke-linecap="round" /><path d="M2222.7,738.7 C2232.2,740.3 2249.7,743.5 2268.8,746.2 C2287.8,749 2305.4,750.8 2314.9,752" fill="none" stroke="#2a241f" stroke-width="2.8" stroke-linecap="round" /><path transform="translate(2081.5,704.2) scale(1)" d="M-18.8,7.5 L-10,1.2 Q-3,0.5 -4,8 L-8,46 Q-8.5,58.5 -1,58.5 Q8.5,58.5 8,47 L3.8,27 L6,7 Q7,1 11,1.5 L18.5,7.5" fill="none" stroke="#111" stroke-width="4.1" stroke-linejoin="round"/><path d="M1973.8,740.5 Q2013.2,783.2 2052.7,740.5 Q2013.2,754.7 1973.8,740.5Z" fill="#111"/><path d="M2228.5,745.1 Q2270.2,782.7 2312,745.1 Q2270.2,757.6 2228.5,745.1Z" fill="#111"/><rect x="1972" y="815.4" width="393" height="24.8" fill="#cbcbcb" /><path d="M1969.1,864.4 C1984.6,863.8 2010.7,860.9 2044.1,861.5 C2077.4,862.1 2098.3,867.6 2130.5,867.2 C2162.6,866.9 2166.3,861.5 2199.6,859.7 C2233,858 2257.1,857.9 2291.8,858.6 C2326.6,859.3 2352.2,862.2 2367.9,863.2 L2367.9,909.3 C2354.6,910.1 2340.5,913.3 2303.4,913.3 C2266.2,913.3 2235.8,909.7 2188.1,909.3 C2140.5,908.9 2118.1,912 2072.9,911.6 C2027.6,911.2 1990.6,908.4 1969.1,907.6Z" fill="#fdc988"/><path d="M1969.1,910.5 C1990.6,911.3 2027.6,914.1 2072.9,914.5 C2118.1,914.8 2140.5,911.8 2188.1,912.2 C2235.8,912.5 2266.2,916.2 2303.4,916.2 C2340.5,916.2 2354.6,913 2367.9,912.2" fill="none" stroke="#e0332c" stroke-width="8"/><path d="M1998,893.2 C2013.4,890.8 2043.1,882.2 2072.9,881.6 C2102.6,881 2115.8,886.7 2142,890.3 C2168.2,893.9 2187.7,897.1 2199.6,898.9" fill="none" stroke="#2a241f" stroke-width="2.8" stroke-linecap="round" /><path d="M2156.4,873 C2170.1,874.2 2194.7,878.8 2222.7,878.8 C2250.7,878.8 2263.3,874.8 2291.8,873 C2320.4,871.2 2346.7,870.7 2361,870.1" fill="none" stroke="#2a241f" stroke-width="2.8" stroke-linecap="round" /><path d="M2176.6,887.4 C2190.9,888.4 2219.5,889.6 2245.7,892 C2271.9,894.4 2283.1,898.1 2303.4,898.9 C2323.6,899.8 2335.4,896.6 2343.7,896" fill="none" stroke="#2a241f" stroke-width="2.8" stroke-linecap="round" /></g><rect x="1972" y="224.7" width="393" height="717.4" fill="none" stroke="#111" stroke-width="3.5"/><clipPath id="cii"><rect x="2681.8" y="287" width="393.6" height="720.9"/></clipPath><g clip-path="url(#cii)"><rect x="2681.8" y="287" width="393.6" height="720.9" fill="#8a8a8a" /><path d="M2681.8,312.4 L3065.4,312.4 Q3075.4,312.4 3075.4,322.4 L3075.4,357.3 C3070,357.5 3064.4,356.8 3049.5,358.5 C3034.6,360.1 3024.8,366.3 3003.4,365.4 C2981.9,364.4 2967.2,356.5 2945.7,353.8 C2924.3,351.2 2921.1,350.3 2899.6,352.7 C2878.2,355.1 2864.6,362.4 2842,365.4 C2819.4,368.3 2814,370.3 2790.2,367.1 C2766.3,363.9 2749.2,352.8 2726.8,349.8 C2704.4,346.8 2691.1,352.1 2681.8,352.7Z" fill="url(#gband)"/><path d="M2681.8,352.7 C2691.1,352.1 2704.4,346.8 2726.8,349.8 C2749.2,352.8 2766.3,363.9 2790.2,367.1 C2814,370.3 2819.4,368.3 2842,365.4 C2864.6,362.4 2878.2,355.1 2899.6,352.7 C2921.1,350.3 2924.3,351.2 2945.7,353.8 C2967.2,356.5 2981.9,364.4 3003.4,365.4 C3024.8,366.3 3034.6,360.1 3049.5,358.5 C3064.4,356.8 3070,357.5 3075.4,357.3" fill="none" stroke="#e0332c" stroke-width="8"/><rect x="2681.8" y="382.7" width="393.6" height="23.6" fill="#d4a5b0" /><rect x="2671.8" y="448.9" width="403.6" height="44.9" rx="10" fill="url(#gband)"/><path d="M2680.7,540 C2684.7,538 2694.5,535.2 2702.6,529.1 C2710.6,523 2717.2,512.7 2723.9,507.2 C2730.5,501.7 2732.3,499.5 2738.3,499.6 C2744.3,499.8 2748,503.5 2756.3,508 C2764.6,512.6 2772.9,520.1 2783,524 C2793,527.9 2800.1,529.1 2810.3,529.1 C2820.5,529.1 2827.6,528.1 2837.7,524 C2847.7,520 2856,511.7 2864.3,507.2 C2872.7,502.7 2875.7,499.5 2882.4,499.6 C2889,499.8 2891.9,503.5 2900,508 C2908.1,512.6 2916.3,520.1 2926.1,524 C2936,527.9 2943,529.1 2952.9,529.1 C2962.9,529.1 2969.9,528.1 2979.8,524 C2989.6,520 2997.7,511.7 3005.9,507.2 C3014,502.7 3017.7,499.5 3023.5,499.6 C3029.4,499.8 3030.9,502.6 3037.2,508 C3043.5,513.5 3049.8,523.1 3057.5,529.1 C3065.1,535 3074.4,538 3078.3,540 L3078.3,541.7 L2680.7,541.7 Z" fill="#fdc988"/><path d="M2696.8,534.1 Q2718.7,527.8 2731.4,511.4" stroke="#2a241f" stroke-width="2.8" fill="none"/><path d="M2709.5,537.5 Q2722.2,536.2 2725.6,524.9" stroke="#2a241f" stroke-width="2.8" fill="none"/><path d="M2739.7,515.6 L2759.9,537.5" stroke="#2a241f" stroke-width="2.8" fill="none"/><path d="M2752.7,513.9 L2775.8,532.4" stroke="#2a241f" stroke-width="2.8" fill="none"/><path d="M2830.5,534.1 Q2857.9,527.8 2873.7,511.4" stroke="#2a241f" stroke-width="2.8" fill="none"/><path d="M2846.3,537.5 Q2862.2,536.2 2866.5,524.9" stroke="#2a241f" stroke-width="2.8" fill="none"/><path d="M2883.8,515.6 L2903.5,537.5" stroke="#2a241f" stroke-width="2.8" fill="none"/><path d="M2896.5,513.9 L2919.1,532.4" stroke="#2a241f" stroke-width="2.8" fill="none"/><path d="M2972.7,534.1 Q2999.5,527.8 3015.1,511.4" stroke="#2a241f" stroke-width="2.8" fill="none"/><path d="M2988.2,537.5 Q3003.8,536.2 3008,524.9" stroke="#2a241f" stroke-width="2.8" fill="none"/><path d="M3024.6,515.6 L3040,537.5" stroke="#2a241f" stroke-width="2.8" fill="none"/><path d="M3034.5,513.9 L3052,532.4" stroke="#2a241f" stroke-width="2.8" fill="none"/><path d="M2679.8,620.3 C2685.1,618.5 2703.1,616.9 2711.6,617.8 C2720.2,618.6 2725.6,621.8 2731.5,625.4 C2737.4,628.9 2738.2,636.5 2747.4,639.1 C2756.6,641.6 2776,641.6 2787.2,640.6 C2798.3,639.6 2807.8,636.6 2815,633 C2822.2,629.4 2823,621.5 2830.9,618.8 C2838.8,616.1 2853.5,616.9 2862.7,616.7 C2871.9,616.6 2881,615.7 2886.6,617.8 C2892.1,619.8 2891.2,627.1 2896.5,628.9 C2901.8,630.8 2912.8,630.8 2918.4,628.9 C2924,627.1 2923.7,620.3 2930.3,617.8 C2936.9,615.2 2950.6,613.3 2958.1,613.7 C2965.7,614.1 2972.1,617.3 2976,620.3 C2980,623.3 2977,629.9 2982,632 C2986.9,634.1 2998.6,634.3 3005.8,633 C3013.1,631.6 3018.5,626.5 3025.7,623.8 C3032.9,621.2 3041,618.2 3049.6,616.7 C3058.1,615.3 3072.8,612.1 3077.4,615.2 C3082,618.3 3082,632.6 3077.4,635.5 C3072.8,638.4 3058.8,631.9 3049.6,633 C3040.4,634.1 3031.6,640.4 3021.7,642.1 C3011.9,643.8 2998.5,644.6 2989.9,643.1 C2981.4,641.6 2975.3,635.9 2970.1,633 C2964.8,630 2963.1,625.4 2958.1,625.4 C2953.2,625.4 2946.1,630.5 2940.2,633 C2934.3,635.5 2929.9,639.6 2922.3,640.6 C2914.8,641.6 2901.7,641 2894.5,639.1 C2887.3,637.1 2885.2,630.8 2878.6,628.9 C2872,627.1 2861.3,627.2 2854.8,627.9 C2848.2,628.6 2844.1,630.3 2838.9,633 C2833.6,635.7 2832.2,641.4 2823,644.1 C2813.7,646.8 2796.3,648.7 2783.2,649.2 C2770,649.7 2754,649.9 2743.4,647.2 C2732.9,644.5 2726.8,636 2719.6,633 C2712.4,630 2706.3,629.6 2699.7,628.9 C2693.1,628.2 2683.1,630.3 2679.8,628.9 C2676.5,627.5 2674.6,622.1 2679.8,620.3Z" fill="#fdc988" stroke="#444" stroke-width="2.2" stroke-linejoin="round"/><path d="M2679.8,603.6 C2686.4,601.7 2708.4,601.2 2719.6,602.5 C2730.8,603.9 2740.2,607.5 2747.4,611.7 C2754.6,615.9 2758.1,625.1 2763.3,627.9 C2768.6,630.8 2775.3,631 2779.2,628.9 C2783.2,626.8 2781.9,619.8 2787.2,615.2 C2792.4,610.7 2799.2,604.3 2811,601.5 C2822.9,598.8 2844.3,598.3 2858.7,598.5 C2873.2,598.7 2886,602.5 2898.5,602.5 C2911,602.5 2924.4,600.2 2934.3,598.5 C2944.1,596.8 2953.5,592.2 2958.1,592.4 C2962.7,592.6 2964.7,596.8 2962.1,599.5 C2959.5,602.2 2941.6,606.6 2942.2,608.6 C2942.9,610.6 2955.6,612.7 2966.1,611.7 C2976.6,610.7 2992,605.3 3005.8,602.5 C3019.6,599.8 3037.7,595.9 3049.6,594.9 C3061.4,593.9 3072.8,594.4 3077.4,596.5 C3082,598.6 3080.7,604.5 3077.4,607.6 C3074.1,610.7 3064.1,612.9 3057.5,615.2 C3050.9,617.6 3042.2,619.6 3037.6,621.8 C3033,624.1 3028.4,627.2 3029.7,628.9 C3031,630.6 3037.7,631.5 3045.6,632 C3053.5,632.4 3072.1,630 3077.4,631.5 C3082.7,632.9 3084,639.1 3077.4,640.6 C3070.8,642.1 3048.2,641.2 3037.6,640.6 C3027.1,640 3018.4,639.3 3013.8,637 C3009.2,634.8 3007.8,630.2 3009.8,626.9 C3011.8,623.5 3027.7,618.3 3025.7,616.7 C3023.7,615.2 3006.4,617.2 2997.9,617.8 C2989.3,618.3 2980.6,620.5 2974,620.3 C2967.5,620.1 2964.7,617 2958.1,616.7 C2951.6,616.5 2940.8,617.6 2934.3,618.8 C2927.7,619.9 2923,624 2918.4,623.8 C2913.8,623.7 2910.4,620 2906.4,617.8 C2902.5,615.5 2901.7,611.7 2894.5,610.2 C2887.3,608.6 2873.2,608.4 2862.7,608.6 C2852.2,608.9 2838.8,609.2 2830.9,611.7 C2823,614.2 2819.6,619.8 2815,623.8 C2810.4,627.9 2809.6,633.5 2803.1,636 C2796.5,638.5 2783.8,639.1 2775.2,639.1 C2766.7,639.1 2757.3,638.7 2751.4,636 C2745.5,633.3 2744.7,626.5 2739.5,622.8 C2734.2,619.1 2729.4,615.2 2719.6,613.7 C2709.7,612.2 2686.4,615.4 2679.8,613.7 C2673.3,612 2673.3,605.4 2679.8,603.6Z" fill="#cfcfcf" stroke="#444" stroke-width="2.2" stroke-linejoin="round"/><rect x="2671.8" y="661" width="403.6" height="44.4" rx="10" fill="url(#gband)"/><path d="M2741.2,756.1 C2745.9,754.7 2757.1,752.7 2766.4,748.6 C2775.6,744.4 2783.2,737.3 2790.9,733.6 C2798.5,729.8 2801.3,728.3 2807.4,728.4 C2813.6,728.5 2816.4,731.1 2824,734.2 C2831.7,737.3 2839.3,742.4 2848.5,745.1 C2857.8,747.8 2864.3,748.6 2873.7,748.6 C2883.1,748.6 2889.6,747.9 2898.9,745.1 C2908.1,742.3 2915.8,736.7 2923.4,733.6 C2931.1,730.5 2933.5,728.3 2940,728.4 C2946.4,728.5 2949.7,730.4 2958,734.2 C2966.3,737.9 2974.6,744.5 2984.6,748.6 C2994.7,752.6 3006.9,754.7 3012,756.1 L3012,757.2 L2741.2,757.2 Z" fill="#fdc988"/><path d="M2759.7,752 Q2784.9,747.7 2799.5,736.5" stroke="#2a241f" stroke-width="2.8" fill="none"/><path d="M2774.3,754.3 Q2788.9,753.5 2792.9,745.7" stroke="#2a241f" stroke-width="2.8" fill="none"/><path d="M2808.8,739.3 L2827.3,754.3" stroke="#2a241f" stroke-width="2.8" fill="none"/><path d="M2820.7,738.2 L2841.9,750.9" stroke="#2a241f" stroke-width="2.8" fill="none"/><path d="M2892.3,752 Q2917.4,747.7 2932,736.5" stroke="#2a241f" stroke-width="2.8" fill="none"/><path d="M2906.8,754.3 Q2921.4,753.5 2925.4,745.7" stroke="#2a241f" stroke-width="2.8" fill="none"/><path d="M2941.4,739.3 L2961.6,754.3" stroke="#2a241f" stroke-width="2.8" fill="none"/><path d="M2954.4,738.2 L2977.4,750.9" stroke="#2a241f" stroke-width="2.8" fill="none"/><rect x="2681.8" y="819.4" width="393.6" height="24.8" fill="#d4a5b0" /><rect x="2681.8" y="903" width="393.6" height="24.8" fill="#cbcbcb" /><path transform="translate(2721,767.6) scale(1)" d="M-18.8,7.5 L-10,1.2 Q-3,0.5 -4,8 L-8,46 Q-8.5,58.5 -1,58.5 Q8.5,58.5 8,47 L3.8,27 L6,7 Q7,1 11,1.5 L18.5,7.5" fill="none" stroke="#111" stroke-width="4.1" stroke-linejoin="round"/><path transform="translate(3029.3,733) scale(1)" d="M-18.8,7.5 L-10,1.2 Q-3,0.5 -4,8 L-8,46 Q-8.5,58.5 -1,58.5 Q8.5,58.5 8,47 L3.8,27 L6,7 Q7,1 11,1.5 L18.5,7.5" fill="none" stroke="#111" stroke-width="4.1" stroke-linejoin="round"/><path transform="translate(2905.4,859.8) scale(1)" d="M-18.8,7.5 L-10,1.2 Q-3,0.5 -4,8 L-8,46 Q-8.5,58.5 -1,58.5 Q8.5,58.5 8,47 L3.8,27 L6,7 Q7,1 11,1.5 L18.5,7.5" fill="none" stroke="#111" stroke-width="4.1" stroke-linejoin="round"/></g><rect x="2681.8" y="287" width="393.6" height="720.9" fill="none" stroke="#111" stroke-width="3.5"/><clipPath id="ci"><rect x="3311.7" y="405.8" width="388.4" height="639"/></clipPath><g clip-path="url(#ci)"><rect x="3311.7" y="405.8" width="388.4" height="639" fill="#8a8a8a" /><rect x="3311.7" y="445" width="388.4" height="24.8" fill="#cbcbcb" /><rect x="3311.7" y="574.1" width="388.4" height="24.8" fill="#cbcbcb" /><rect x="3311.7" y="658.2" width="388.4" height="25.4" fill="#cbcbcb" /><rect x="3311.7" y="802.3" width="388.4" height="25.4" fill="#cbcbcb" /><path d="M3307.6,959.6 C3317.2,961.4 3334.7,967.1 3353.7,968.3 C3372.8,969.4 3382,967.8 3399.8,965.4 C3417.7,963 3421.1,956.4 3440.2,956.7 C3459.2,957.1 3471.8,964.1 3492,967.1 C3512.3,970.1 3516.7,972.1 3538.1,971.1 C3559.6,970.2 3574.3,964 3595.7,962.5 C3617.2,960.9 3626.4,961.9 3641.8,963.6 C3657.3,965.4 3657.6,971.1 3670.7,971.1 C3683.8,971.1 3698.1,965.2 3705.2,963.6 L3705.2,1048.9 C3623.1,1048.9 3389.8,1048.9 3307.6,1048.9Z" fill="#c1c2c2"/><path d="M3307.6,959.6 C3317.2,961.4 3334.7,967.1 3353.7,968.3 C3372.8,969.4 3382,967.8 3399.8,965.4 C3417.7,963 3421.1,956.4 3440.2,956.7 C3459.2,957.1 3471.8,964.1 3492,967.1 C3512.3,970.1 3516.7,972.1 3538.1,971.1 C3559.6,970.2 3574.3,964 3595.7,962.5 C3617.2,960.9 3626.4,961.9 3641.8,963.6 C3657.3,965.4 3657.6,971.1 3670.7,971.1 C3683.8,971.1 3698.1,965.2 3705.2,963.6" fill="none" stroke="#111" stroke-width="4.5" stroke-linecap="round" /><path d="M3421.2,1036.3 Q3430.8,993.3 3493.7,991.6 Q3458.5,1013.5 3421.2,1036.3Z" fill="#111"/><path d="M3496.9,1009.9 Q3535.2,965.6 3578.9,1002.2 Q3537.4,1000.7 3496.9,1009.9Z" fill="#111"/><path d="M3451.1,1011.4 Q3490.5,1046.5 3534.2,1004.3 Q3490.5,1014.2 3451.1,1011.4Z" fill="#111"/><path d="M3535.2,1009.2 Q3565.1,1055.1 3617.3,1026.9 Q3572.5,1022 3535.2,1009.2Z" fill="#111"/><circle cx="3329.6" cy="990.7" r="6.5" fill="#111"/><circle cx="3379.7" cy="993.3" r="6.5" fill="#111"/><circle cx="3352.4" cy="1016.7" r="6.5" fill="#111"/><circle cx="3402.7" cy="1019.3" r="6.5" fill="#111"/><circle cx="3597.5" cy="1003.9" r="6.5" fill="#111"/><circle cx="3627.9" cy="996.9" r="6.5" fill="#111"/><circle cx="3659.9" cy="1010.3" r="6.5" fill="#111"/><circle cx="3672.7" cy="1027.4" r="6.5" fill="#111"/><path d="M3393.5,984.3 h25" stroke="#111" stroke-width="3"/><path d="M3343.4,1000.1 h25" stroke="#111" stroke-width="3"/><path d="M3321.1,1025.2 h25" stroke="#111" stroke-width="3"/><path d="M3371.1,1027.4 h25" stroke="#111" stroke-width="3"/><path d="M3587.4,987.3 h25" stroke="#111" stroke-width="3"/><path d="M3658.8,991.6 h25" stroke="#111" stroke-width="3"/><path d="M3626.2,1024.2 h25" stroke="#111" stroke-width="3"/><path transform="translate(3406.7,458.3) scale(1)" d="M-18.8,7.5 L-10,1.2 Q-3,0.5 -4,8 L-8,46 Q-8.5,58.5 -1,58.5 Q8.5,58.5 8,47 L3.8,27 L6,7 Q7,1 11,1.5 L18.5,7.5" fill="none" stroke="#111" stroke-width="4.1" stroke-linejoin="round"/><path transform="translate(3621.7,550.5) scale(1)" d="M-18.8,7.5 L-10,1.2 Q-3,0.5 -4,8 L-8,46 Q-8.5,58.5 -1,58.5 Q8.5,58.5 8,47 L3.8,27 L6,7 Q7,1 11,1.5 L18.5,7.5" fill="none" stroke="#111" stroke-width="4.1" stroke-linejoin="round"/><path transform="translate(3464.4,698.6) scale(1)" d="M-18.8,7.5 L-10,1.2 Q-3,0.5 -4,8 L-8,46 Q-8.5,58.5 -1,58.5 Q8.5,58.5 8,47 L3.8,27 L6,7 Q7,1 11,1.5 L18.5,7.5" fill="none" stroke="#111" stroke-width="4.1" stroke-linejoin="round"/><path transform="translate(3373.9,726.2) scale(1)" d="M-18.8,7.5 L-10,1.2 Q-3,0.5 -4,8 L-8,46 Q-8.5,58.5 -1,58.5 Q8.5,58.5 8,47 L3.8,27 L6,7 Q7,1 11,1.5 L18.5,7.5" fill="none" stroke="#111" stroke-width="4.1" stroke-linejoin="round"/><path transform="translate(3572.7,720.5) scale(1)" d="M-18.8,7.5 L-10,1.2 Q-3,0.5 -4,8 L-8,46 Q-8.5,58.5 -1,58.5 Q8.5,58.5 8,47 L3.8,27 L6,7 Q7,1 11,1.5 L18.5,7.5" fill="none" stroke="#111" stroke-width="4.1" stroke-linejoin="round"/><path transform="translate(3639,717.6) scale(1)" d="M-18.8,7.5 L-10,1.2 Q-3,0.5 -4,8 L-8,46 Q-8.5,58.5 -1,58.5 Q8.5,58.5 8,47 L3.8,27 L6,7 Q7,1 11,1.5 L18.5,7.5" fill="none" stroke="#111" stroke-width="4.1" stroke-linejoin="round"/><path transform="translate(3506.4,811.5) scale(1)" d="M-18.8,7.5 L-10,1.2 Q-3,0.5 -4,8 L-8,46 Q-8.5,58.5 -1,58.5 Q8.5,58.5 8,47 L3.8,27 L6,7 Q7,1 11,1.5 L18.5,7.5" fill="none" stroke="#111" stroke-width="4.1" stroke-linejoin="round"/><path transform="translate(3392.9,854.2) scale(1)" d="M-18.8,7.5 L-10,1.2 Q-3,0.5 -4,8 L-8,46 Q-8.5,58.5 -1,58.5 Q8.5,58.5 8,47 L3.8,27 L6,7 Q7,1 11,1.5 L18.5,7.5" fill="none" stroke="#111" stroke-width="4.1" stroke-linejoin="round"/><path transform="translate(3639,854.2) scale(1)" d="M-18.8,7.5 L-10,1.2 Q-3,0.5 -4,8 L-8,46 Q-8.5,58.5 -1,58.5 Q8.5,58.5 8,47 L3.8,27 L6,7 Q7,1 11,1.5 L18.5,7.5" fill="none" stroke="#111" stroke-width="4.1" stroke-linejoin="round"/><path transform="translate(3506.4,893.3) scale(1)" d="M-18.8,7.5 L-10,1.2 Q-3,0.5 -4,8 L-8,46 Q-8.5,58.5 -1,58.5 Q8.5,58.5 8,47 L3.8,27 L6,7 Q7,1 11,1.5 L18.5,7.5" fill="none" stroke="#111" stroke-width="4.1" stroke-linejoin="round"/></g><rect x="3311.7" y="405.8" width="388.4" height="639" fill="none" stroke="#111" stroke-width="3.5"/><text x="887" y="439" font-size="57.6" text-anchor="middle" >岸线斜坡</text><text x="892" y="513" font-size="57.6" text-anchor="middle" >(1,2,3,4,7*)</text><text x="1376" y="221" font-size="57.6" text-anchor="start" >水下台地</text><text x="1374" y="297" font-size="57.6" text-anchor="start" >(下游)</text><text x="1374" y="365" font-size="57.6" text-anchor="start" >(1,5,6*,7*)</text><text x="2051" y="49" font-size="57.6" text-anchor="start" >水下台地</text><text x="2049" y="121" font-size="57.6" text-anchor="start" >(上游)</text><text x="2049" y="187" font-size="57.6" text-anchor="start" >(1,2,5,6*)</text><text x="2676" y="108" font-size="57.6" text-anchor="start" >水下斜坡</text><text x="2676" y="183" font-size="57.6" text-anchor="start" >前积层</text><text x="2685" y="252" font-size="57.6" text-anchor="start" >(1,2,3,4,5,6*,7*)</text><text x="3320" y="231" font-size="57.6" text-anchor="start" >水下斜坡</text><text x="3320" y="308" font-size="57.6" text-anchor="start" >底积层</text><text x="3327" y="376" font-size="57.6" text-anchor="start" >(1,2,3,4,6*,7*)</text><circle cx="1148" cy="980" r="52.5" fill="#fff" stroke="#111" stroke-width="3.5"/><text x="1148" y="999" font-size="56" text-anchor="middle">v</text><circle cx="1772.6" cy="769.6" r="52.5" fill="#fff" stroke="#111" stroke-width="3.5"/><text x="1772.6" y="788.6" font-size="56" text-anchor="middle">iv</text><circle cx="2430" cy="585" r="52.5" fill="#fff" stroke="#111" stroke-width="3.5"/><text x="2430" y="604" font-size="56" text-anchor="middle">iii</text><circle cx="3146" cy="653.5" r="52.5" fill="#fff" stroke="#111" stroke-width="3.5"/><text x="3146" y="672.5" font-size="56" text-anchor="middle">ii</text><circle cx="3775.5" cy="720.5" r="52.5" fill="#fff" stroke="#111" stroke-width="3.5"/><text x="3775.5" y="739.5" font-size="56" text-anchor="middle">i</text>
<rect x="104.3" y="2946.6" width="159.4" height="100.3" fill="#f5a843" stroke="#111" stroke-width="4.6"/><rect x="846.9" y="2946.6" width="159.5" height="100.3" fill="url(#gleg)" stroke="#111" stroke-width="4.6"/><rect x="1549.5" y="2946.6" width="158.5" height="100.3" fill="#d4a5b0" stroke="#111" stroke-width="4.6"/><rect x="2154.2" y="2946.6" width="159.5" height="100.3" fill="#cbcbcb" stroke="#111" stroke-width="4.6"/><rect x="2758.5" y="2946.6" width="159" height="100.3" fill="#8a8a8a" stroke="#111" stroke-width="4.6"/><rect x="3361.2" y="2946.6" width="159.3" height="100.3" fill="#fff" stroke="#111" stroke-width="4.6"/><rect x="3361.2" y="2946.6" width="84.4" height="100.3" fill="#111"/><path d="M3485.9,2973.6 C3489.9,2988.6 3487.9,2996.1 3483.9,3004.6 M3484.9,3003.6 L3461.9,3023.6 M3483.9,3003.6 L3503.9,3022.6" fill="none" stroke="#111" stroke-width="6" stroke-linecap="butt"/><text x="292.5" y="3016" font-size="54" text-anchor="start" >浪成砂岩</text><text x="1033" y="3016" font-size="54" text-anchor="start" >浪控重力流沉积</text><text x="1734" y="3016" font-size="54" text-anchor="start" >浮泥沉积</text><text x="2343" y="3016" font-size="54" text-anchor="start" >粉砂岩</text><text x="2943" y="3016" font-size="54" text-anchor="start" >泥岩</text><text x="3548" y="3016" font-size="54" text-anchor="start" >煤层/植物根系</text><rect x="104.3" y="3125.1" width="159.4" height="101.3" fill="#fff" stroke="#111" stroke-width="4.6"/><rect x="846.9" y="3125.1" width="159.5" height="101.3" fill="#fff" stroke="#111" stroke-width="4.6"/><rect x="1549.5" y="3125.1" width="158.5" height="101.3" fill="#fff" stroke="#111" stroke-width="4.6"/><rect x="2154.2" y="3125.1" width="159.5" height="101.3" fill="#fff" stroke="#111" stroke-width="4.6"/><rect x="2758.5" y="3125.1" width="159" height="101.3" fill="#fff" stroke="#111" stroke-width="4.6"/><path d="M104.3,3163.4 C109.6,3164.1 119.3,3167.9 129.9,3166.7 C140.5,3165.4 145,3157.1 155.6,3157.3 C166.2,3157.6 170.1,3166.1 181.2,3168.1 C192.3,3170 197.6,3168.1 209.2,3166.7 C220.7,3165.2 225.9,3160.8 237.2,3161.1 C248.4,3161.4 258.2,3166.6 263.7,3168.1 L263.7,3226.4 L104.3,3226.4 Z" fill="#bcbdbd"/><path d="M104.3,3163.4 C109.6,3164.1 119.3,3167.9 129.9,3166.7 C140.5,3165.4 145,3157.1 155.6,3157.3 C166.2,3157.6 170.1,3166.1 181.2,3168.1 C192.3,3170 197.6,3168.1 209.2,3166.7 C220.7,3165.2 225.9,3160.8 237.2,3161.1 C248.4,3161.4 258.2,3166.6 263.7,3168.1" fill="none" stroke="#111" stroke-width="4.2"/><path d="M141.6,3213.3 Q150.9,3179.7 181.2,3184.4 Q160.2,3193.7 141.6,3213.3Z" fill="#111"/><path d="M161.6,3198.4 Q185.9,3226.3 211.5,3196 Q185.9,3210 161.6,3198.4Z" fill="#111"/><path d="M190.5,3196 Q213.8,3175.1 239.5,3192.8 Q213.8,3188.1 190.5,3196Z" fill="#111"/><rect x="110.4" y="3174.2" width="11" height="11" rx="3" fill="#111"/><rect x="137.5" y="3173.3" width="11" height="11" rx="3" fill="#111"/><rect x="244.7" y="3173.3" width="11" height="11" rx="3" fill="#111"/><rect x="237.7" y="3204.5" width="11" height="11" rx="3" fill="#111"/><rect x="212.1" y="3209.2" width="11" height="11" rx="3" fill="#111"/><rect x="126.8" y="3213.8" width="11" height="11" rx="3" fill="#111"/><path d="M118.3,3193.7 h22" stroke="#111" stroke-width="2.6"/><path d="M109,3207.7 h22" stroke="#111" stroke-width="2.6"/><path d="M220.8,3177.4 h22" stroke="#111" stroke-width="2.6"/><path d="M239.5,3196 h22" stroke="#111" stroke-width="2.6"/><rect x="104.3" y="3125.1" width="159.4" height="101.3" fill="none" stroke="#111" stroke-width="4.6"/><path d="M880.5,3156.1 l18,19 l-18,19 l-18,-19z" fill="#111"/><rect x="935.5" y="3145.7" width="28" height="28" fill="#111" transform="rotate(18 949.5 3159.7)"/><rect x="935.5" y="3191.4" width="28" height="28" fill="#111" transform="rotate(12 949.5 3205.4)"/><path transform="translate(1601.5,3147.1) scale(0.9)" d="M-18.8,7.5 L-10,1.2 Q-3,0.5 -4,8 L-8,46 Q-8.5,58.5 -1,58.5 Q8.5,58.5 8,47 L3.8,27 L6,7 Q7,1 11,1.5 L18.5,7.5" fill="none" stroke="#111" stroke-width="3.8" stroke-linejoin="round"/><path transform="translate(1661.5,3159.1) scale(0.9)" d="M-18.8,7.5 L-10,1.2 Q-3,0.5 -4,8 L-8,46 Q-8.5,58.5 -1,58.5 Q8.5,58.5 8,47 L3.8,27 L6,7 Q7,1 11,1.5 L18.5,7.5" fill="none" stroke="#111" stroke-width="3.8" stroke-linejoin="round"/><path d="M2160.7,3188.2 C2165.6,3188.9 2179.4,3194.9 2186.8,3191.9 C2194.3,3189 2204.3,3176.8 2200.9,3172.3 C2197.4,3167.8 2169.9,3171.1 2168.2,3167.6 C2166.4,3164.2 2182,3156.8 2191.5,3153.6 C2201.1,3150.5 2213.5,3148.2 2219.5,3150.8 C2225.6,3153.4 2219.5,3166.2 2224.2,3167.6 C2228.9,3169 2236.1,3161.4 2244.8,3158.3 C2253.5,3155.2 2261.7,3151.7 2270.9,3150.8 C2280.1,3150 2288.2,3150.5 2294.3,3153.6 C2300.4,3156.8 2306.2,3162.9 2303.6,3167.6 C2301,3172.3 2287.2,3173.6 2280.3,3178.8 C2273.3,3184.1 2266.3,3191.1 2266.3,3195.7 C2266.3,3200.2 2273.3,3202.3 2280.3,3203.1 C2287.2,3204 2299.3,3200.9 2303.6,3200.3" fill="none" stroke="#333" stroke-width="3.2"/><path d="M2160.7,3203.1 C2168.2,3202.6 2189,3200 2200.9,3200.3 C2212.7,3200.7 2218.1,3207.3 2224.2,3205 C2230.3,3202.7 2229.7,3193.1 2233.6,3188.2 C2237.4,3183.3 2239.9,3180.9 2244.8,3178.8 C2249.6,3176.8 2258.3,3174.2 2259.7,3177 C2261.1,3179.8 2255,3188.6 2252.2,3193.8 C2249.5,3199 2241.3,3204.3 2244.8,3205 C2248.2,3205.7 2264.3,3201 2270.9,3197.5 C2277.5,3194.1 2274.2,3188.8 2280.3,3186.3 C2286.4,3183.9 2299.3,3184.8 2303.6,3184.5" fill="none" stroke="#333" stroke-width="3.2"/><path d="M2758.6,3163 C2762.1,3166.2 2764.2,3174.6 2775.4,3178.8 C2786.6,3183.1 2798.3,3181.6 2812.8,3183.5 C2827.3,3185.5 2832.9,3189.5 2845.5,3188.2 C2858,3186.8 2862.9,3179.9 2873.5,3177 C2884.1,3174.1 2887.4,3175.1 2896.9,3174.2 C2906.3,3173.2 2914.6,3172.7 2919.3,3172.3" fill="none" stroke="#e0332c" stroke-width="6"/><rect x="2758.5" y="3125.1" width="159" height="101.3" fill="none" stroke="#111" stroke-width="4.6"/><polygon points="3384.5,3111.6 3434,3111.6 3408.5,3246" fill="#b53034"/><polygon points="3474.2,3119 3500.6,3234 3447.8,3234" fill="#4169a4"/><text x="292.5" y="3194" font-size="54" text-anchor="start" >滞留沉积物/贝壳碎屑</text><text x="1033" y="3194" font-size="54" text-anchor="start" >有机质</text><text x="1734" y="3194" font-size="54" text-anchor="start" >生物扰动</text><text x="2343" y="3194" font-size="54" text-anchor="start" >软沉积变形</text><text x="2943" y="3194" font-size="54" text-anchor="start" >冲刷面</text><text x="3548" y="3194" font-size="54" text-anchor="start" >粒度向上变粗/变细</text><text x="2881" y="2344.6" font-size="50" textLength="668" lengthAdjust="spacingAndGlyphs">1. 古<tspan font-style="italic">Orinoco</tspan>三角洲 (<tspan font-style="italic">Moruga</tspan>组)</text><text x="2881" y="2426.9" font-size="50" textLength="762" lengthAdjust="spacingAndGlyphs">2. 北美西部内陆海道 (<tspan font-style="italic">Blackhawk</tspan>组)</text><text x="2881" y="2507" font-size="50" textLength="1120" lengthAdjust="spacingAndGlyphs">3. Wessex 盆地 (<tspan font-style="italic">Bridport Sand</tspan>组到<tspan font-style="italic">Down Cliff Clay</tspan>段)</text><text x="2881" y="2589.3" font-size="50" textLength="1123" lengthAdjust="spacingAndGlyphs">4. 北美西部内陆海道(<tspan font-style="italic">Bearpaw-Horseshoe Canyon</tspan> 组)</text><text x="2881" y="2671.6" font-size="50" textLength="482.6" lengthAdjust="spacingAndGlyphs">5. 巴伦支海(<tspan font-style="italic">Havert</tspan> 组)</text><text x="2881" y="2752.4" font-size="50" textLength="560.6" lengthAdjust="spacingAndGlyphs">6*. <tspan font-style="italic">Atchafalaya</tspan>陆架三角洲</text><text x="2881" y="2834.1" font-size="50" textLength="708.5" lengthAdjust="spacingAndGlyphs">7*. <tspan font-style="italic">Po-Adriatic</tspan>三角洲和陆架体系</text>
</svg>
</body></html>
